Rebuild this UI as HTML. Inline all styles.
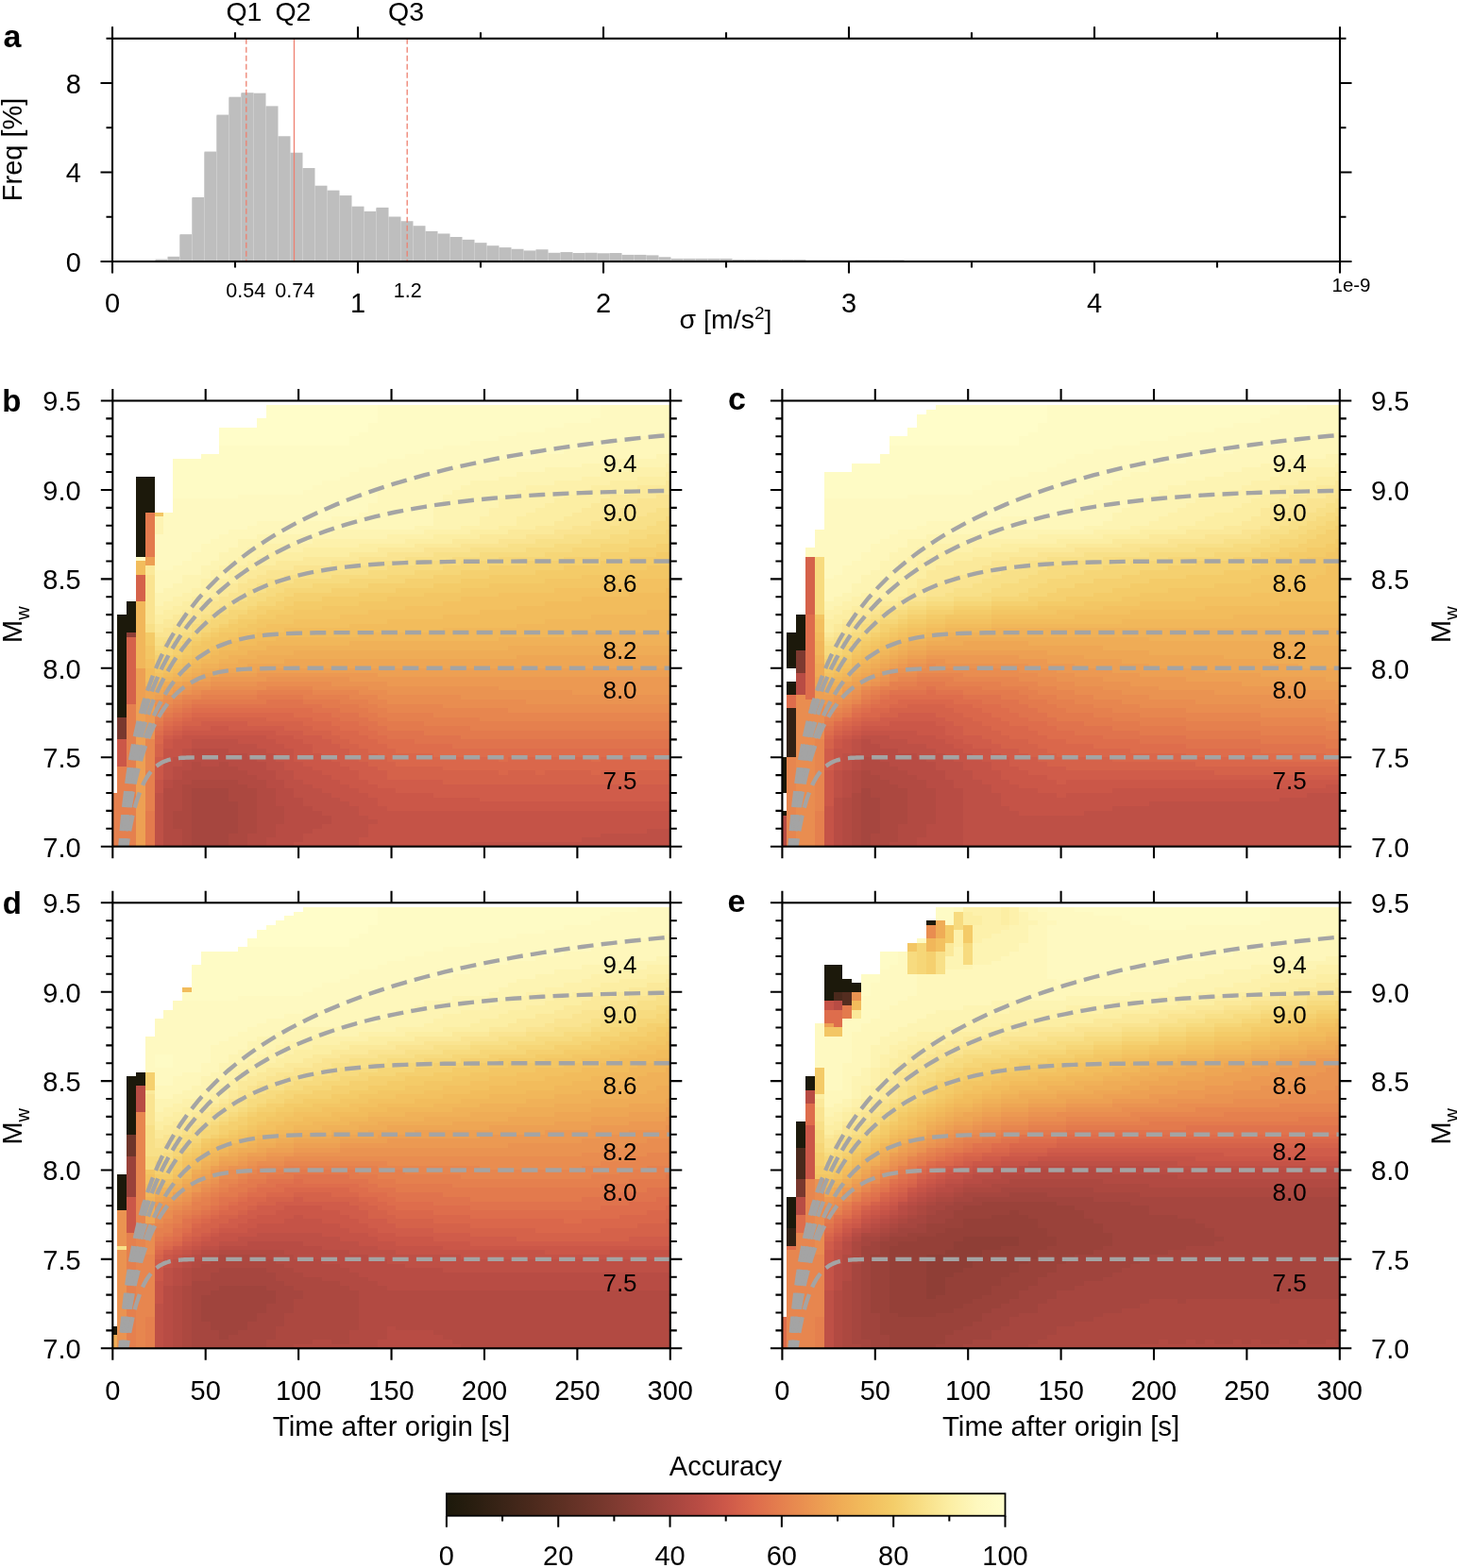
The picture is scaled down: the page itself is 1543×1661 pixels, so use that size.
<!DOCTYPE html>
<html><head><meta charset="utf-8"><title>Figure</title>
<style>html,body{margin:0;padding:0;background:#fff;}svg{display:block;}</style></head>
<body><svg width="1543" height="1661" viewBox="0 0 1543 1661" font-family="'Liberation Sans', Arial, Helvetica, sans-serif" fill="#000">
<defs><clipPath id="cpb"><rect x="119.3" y="424.5" width="590.50" height="472.20"/></clipPath><clipPath id="cpc"><rect x="828.4" y="424.5" width="590.40" height="472.20"/></clipPath><clipPath id="cpd"><rect x="119.3" y="956.3" width="590.50" height="472.00"/></clipPath><clipPath id="cpe"><rect x="828.4" y="956.3" width="590.40" height="472.00"/></clipPath><linearGradient id="cbg" x1="0" x2="1" y1="0" y2="0"><stop offset="0.00" stop-color="#1c190b"/><stop offset="0.05" stop-color="#2a1e10"/><stop offset="0.10" stop-color="#3a2417"/><stop offset="0.15" stop-color="#4a291c"/><stop offset="0.20" stop-color="#5b2f22"/><stop offset="0.25" stop-color="#6c3429"/><stop offset="0.30" stop-color="#7e3a30"/><stop offset="0.35" stop-color="#913f37"/><stop offset="0.40" stop-color="#a4453e"/><stop offset="0.45" stop-color="#b84c44"/><stop offset="0.50" stop-color="#cd5849"/><stop offset="0.55" stop-color="#dd6b4c"/><stop offset="0.60" stop-color="#e5804e"/><stop offset="0.65" stop-color="#eb9551"/><stop offset="0.70" stop-color="#efaa55"/><stop offset="0.75" stop-color="#f2bc5c"/><stop offset="0.80" stop-color="#f4cd69"/><stop offset="0.85" stop-color="#f8de85"/><stop offset="0.90" stop-color="#fceea3"/><stop offset="0.95" stop-color="#fef8be"/><stop offset="1.00" stop-color="#fffecc"/></linearGradient></defs>
<rect width="1543" height="1661" fill="#fff"/>
<g fill="#bebebe">
<rect x="164.50" y="274.64" width="13.00" height="2.36"/>
<rect x="177.50" y="271.80" width="13.00" height="5.20"/>
<rect x="190.50" y="248.18" width="13.00" height="28.82"/>
<rect x="203.50" y="208.97" width="13.00" height="68.03"/>
<rect x="216.50" y="160.55" width="13.00" height="116.45"/>
<rect x="229.50" y="121.58" width="13.00" height="155.42"/>
<rect x="242.50" y="102.68" width="13.00" height="174.32"/>
<rect x="255.50" y="98.20" width="13.00" height="178.80"/>
<rect x="268.50" y="98.67" width="13.00" height="178.33"/>
<rect x="281.50" y="112.37" width="13.00" height="164.63"/>
<rect x="294.50" y="144.26" width="13.00" height="132.74"/>
<rect x="307.50" y="161.73" width="13.00" height="115.27"/>
<rect x="320.50" y="178.03" width="13.00" height="98.97"/>
<rect x="333.50" y="196.69" width="13.00" height="80.31"/>
<rect x="346.50" y="201.65" width="13.00" height="75.35"/>
<rect x="359.50" y="207.08" width="13.00" height="69.92"/>
<rect x="372.50" y="218.66" width="13.00" height="58.34"/>
<rect x="385.50" y="223.85" width="13.00" height="53.15"/>
<rect x="398.50" y="219.84" width="13.00" height="57.16"/>
<rect x="411.50" y="229.52" width="13.00" height="47.48"/>
<rect x="424.50" y="234.25" width="13.00" height="42.75"/>
<rect x="437.50" y="239.21" width="13.00" height="37.79"/>
<rect x="450.50" y="244.88" width="13.00" height="32.12"/>
<rect x="463.50" y="247.47" width="13.00" height="29.53"/>
<rect x="476.50" y="251.02" width="13.00" height="25.98"/>
<rect x="489.50" y="253.85" width="13.00" height="23.15"/>
<rect x="502.50" y="257.16" width="13.00" height="19.84"/>
<rect x="515.50" y="260.23" width="13.00" height="16.77"/>
<rect x="528.50" y="262.12" width="13.00" height="14.88"/>
<rect x="541.50" y="263.77" width="13.00" height="13.23"/>
<rect x="554.50" y="265.43" width="13.00" height="11.57"/>
<rect x="567.50" y="264.25" width="13.00" height="12.75"/>
<rect x="580.50" y="267.79" width="13.00" height="9.21"/>
<rect x="593.50" y="267.08" width="13.00" height="9.92"/>
<rect x="606.50" y="268.02" width="13.00" height="8.98"/>
<rect x="619.50" y="267.79" width="13.00" height="9.21"/>
<rect x="632.50" y="268.26" width="13.00" height="8.74"/>
<rect x="645.50" y="268.02" width="13.00" height="8.98"/>
<rect x="658.50" y="269.91" width="13.00" height="7.09"/>
<rect x="671.50" y="269.91" width="13.00" height="7.09"/>
<rect x="684.50" y="270.39" width="13.00" height="6.61"/>
<rect x="697.50" y="272.28" width="13.00" height="4.72"/>
<rect x="710.50" y="273.93" width="13.00" height="3.07"/>
<rect x="723.50" y="273.93" width="13.00" height="3.07"/>
<rect x="736.50" y="273.93" width="13.00" height="3.07"/>
<rect x="749.50" y="273.93" width="13.00" height="3.07"/>
<rect x="762.50" y="273.93" width="13.00" height="3.07"/>
<rect x="775.50" y="274.87" width="13.00" height="2.13"/>
<rect x="788.50" y="274.87" width="13.00" height="2.13"/>
<rect x="801.50" y="274.87" width="13.00" height="2.13"/>
<rect x="814.50" y="274.87" width="13.00" height="2.13"/>
<rect x="827.50" y="274.87" width="13.00" height="2.13"/>
<rect x="840.50" y="274.87" width="13.00" height="2.13"/>
<rect x="853.50" y="275.58" width="13.00" height="1.42"/>
<rect x="866.50" y="275.58" width="13.00" height="1.42"/>
<rect x="879.50" y="275.58" width="13.00" height="1.42"/>
<rect x="892.50" y="275.58" width="13.00" height="1.42"/>
<rect x="905.50" y="275.35" width="13.00" height="1.65"/>
<rect x="918.50" y="275.35" width="13.00" height="1.65"/>
<rect x="931.50" y="275.35" width="13.00" height="1.65"/>
<rect x="944.50" y="275.35" width="13.00" height="1.65"/>
<rect x="957.50" y="276.06" width="13.00" height="0.94"/>
<rect x="970.50" y="276.06" width="13.00" height="0.94"/>
<rect x="983.50" y="276.06" width="13.00" height="0.94"/>
<rect x="996.50" y="276.06" width="13.00" height="0.94"/>
<rect x="1009.50" y="276.06" width="13.00" height="0.94"/>
<rect x="1022.50" y="276.06" width="13.00" height="0.94"/>
<rect x="1035.50" y="276.41" width="13.00" height="0.59"/>
<rect x="1048.50" y="276.41" width="13.00" height="0.59"/>
<rect x="1061.50" y="276.41" width="13.00" height="0.59"/>
<rect x="1074.50" y="276.41" width="13.00" height="0.59"/>
<rect x="1087.50" y="276.41" width="13.00" height="0.59"/>
<rect x="1100.50" y="276.41" width="13.00" height="0.59"/>
<rect x="1113.50" y="276.41" width="13.00" height="0.59"/>
<rect x="1126.50" y="276.41" width="13.00" height="0.59"/>
<rect x="1139.50" y="276.41" width="13.00" height="0.59"/>
<rect x="1152.50" y="276.41" width="13.00" height="0.59"/>
<rect x="1165.50" y="276.41" width="13.00" height="0.59"/>
<rect x="1178.50" y="276.41" width="13.00" height="0.59"/>
<rect x="1191.50" y="276.41" width="13.00" height="0.59"/>
<rect x="1204.50" y="276.41" width="13.00" height="0.59"/>
<rect x="1217.50" y="276.41" width="13.00" height="0.59"/>
<rect x="1230.50" y="276.41" width="13.00" height="0.59"/>
<rect x="1243.50" y="276.41" width="13.00" height="0.59"/>
<rect x="1256.50" y="276.41" width="13.00" height="0.59"/>
<rect x="1269.50" y="276.41" width="13.00" height="0.59"/>
<rect x="1282.50" y="276.41" width="13.00" height="0.59"/>
<rect x="1295.50" y="276.41" width="13.00" height="0.59"/>
<rect x="1308.50" y="276.41" width="13.00" height="0.59"/>
<rect x="1321.50" y="276.41" width="13.00" height="0.59"/>
<rect x="1334.50" y="276.41" width="13.00" height="0.59"/>
<rect x="1347.50" y="276.41" width="13.00" height="0.59"/>
<rect x="1360.50" y="276.41" width="13.00" height="0.59"/>
</g>
<g stroke="#cdcdcd" stroke-width="0.9">
<line x1="190.50" y1="249.18" x2="190.50" y2="277.00"/>
<line x1="203.50" y1="209.97" x2="203.50" y2="277.00"/>
<line x1="216.50" y1="161.55" x2="216.50" y2="277.00"/>
<line x1="229.50" y1="122.58" x2="229.50" y2="277.00"/>
<line x1="242.50" y1="103.68" x2="242.50" y2="277.00"/>
<line x1="255.50" y1="99.20" x2="255.50" y2="277.00"/>
<line x1="268.50" y1="99.67" x2="268.50" y2="277.00"/>
<line x1="281.50" y1="113.37" x2="281.50" y2="277.00"/>
<line x1="294.50" y1="145.26" x2="294.50" y2="277.00"/>
<line x1="307.50" y1="162.73" x2="307.50" y2="277.00"/>
<line x1="320.50" y1="179.03" x2="320.50" y2="277.00"/>
<line x1="333.50" y1="197.69" x2="333.50" y2="277.00"/>
<line x1="346.50" y1="202.65" x2="346.50" y2="277.00"/>
<line x1="359.50" y1="208.08" x2="359.50" y2="277.00"/>
<line x1="372.50" y1="219.66" x2="372.50" y2="277.00"/>
<line x1="385.50" y1="224.85" x2="385.50" y2="277.00"/>
<line x1="398.50" y1="220.84" x2="398.50" y2="277.00"/>
<line x1="411.50" y1="230.52" x2="411.50" y2="277.00"/>
<line x1="424.50" y1="235.25" x2="424.50" y2="277.00"/>
<line x1="437.50" y1="240.21" x2="437.50" y2="277.00"/>
<line x1="450.50" y1="245.88" x2="450.50" y2="277.00"/>
<line x1="463.50" y1="248.47" x2="463.50" y2="277.00"/>
<line x1="476.50" y1="252.02" x2="476.50" y2="277.00"/>
<line x1="489.50" y1="254.85" x2="489.50" y2="277.00"/>
<line x1="502.50" y1="258.16" x2="502.50" y2="277.00"/>
<line x1="515.50" y1="261.23" x2="515.50" y2="277.00"/>
<line x1="528.50" y1="263.12" x2="528.50" y2="277.00"/>
<line x1="541.50" y1="264.77" x2="541.50" y2="277.00"/>
<line x1="554.50" y1="266.43" x2="554.50" y2="277.00"/>
<line x1="567.50" y1="265.25" x2="567.50" y2="277.00"/>
<line x1="580.50" y1="268.79" x2="580.50" y2="277.00"/>
<line x1="593.50" y1="268.08" x2="593.50" y2="277.00"/>
<line x1="606.50" y1="269.02" x2="606.50" y2="277.00"/>
<line x1="619.50" y1="268.79" x2="619.50" y2="277.00"/>
<line x1="632.50" y1="269.26" x2="632.50" y2="277.00"/>
<line x1="645.50" y1="269.02" x2="645.50" y2="277.00"/>
</g>
<line x1="260.80" y1="40.80" x2="260.80" y2="277.00" stroke="#ee8070" stroke-width="1.3" stroke-dasharray="6,3"/>
<line x1="311.50" y1="40.80" x2="311.50" y2="277.00" stroke="#ee8070" stroke-width="1.3"/>
<line x1="431.20" y1="40.80" x2="431.20" y2="277.00" stroke="#ee8070" stroke-width="1.3" stroke-dasharray="6,3"/>
<rect x="119.0" y="40.80" width="1300.00" height="236.20" stroke="#000" stroke-width="2.1" fill="none"/>
<path d="M119.00 277.00v12.5M119.00 40.80v-12.5M249.00 277.00v6.5M249.00 40.80v-6.5M379.00 277.00v12.5M379.00 40.80v-12.5M509.00 277.00v6.5M509.00 40.80v-6.5M639.00 277.00v12.5M639.00 40.80v-12.5M769.00 277.00v6.5M769.00 40.80v-6.5M899.00 277.00v12.5M899.00 40.80v-12.5M1029.00 277.00v6.5M1029.00 40.80v-6.5M1159.00 277.00v12.5M1159.00 40.80v-12.5M1289.00 277.00v6.5M1289.00 40.80v-6.5M1419.00 277.00v12.5M1419.00 40.80v-12.5M119.00 277.00h-12.5M1419.00 277.00h12.5M119.00 229.76h-6.5M1419.00 229.76h6.5M119.00 182.52h-12.5M1419.00 182.52h12.5M119.00 135.28h-6.5M1419.00 135.28h6.5M119.00 88.04h-12.5M1419.00 88.04h12.5M119.00 40.80h-6.5M1419.00 40.80h6.5" stroke="#000" stroke-width="2.1" fill="none"/>
<text x="119.00" y="330.50" font-size="29" text-anchor="middle">0</text>
<text x="379.00" y="330.50" font-size="29" text-anchor="middle">1</text>
<text x="639.00" y="330.50" font-size="29" text-anchor="middle">2</text>
<text x="899.00" y="330.50" font-size="29" text-anchor="middle">3</text>
<text x="1159.00" y="330.50" font-size="29" text-anchor="middle">4</text>
<text x="85.80" y="287.60" font-size="29" text-anchor="end">0</text>
<text x="85.80" y="193.12" font-size="29" text-anchor="end">4</text>
<text x="85.80" y="98.64" font-size="29" text-anchor="end">8</text>
<text x="1431.00" y="308.60" font-size="20.5" text-anchor="middle">1e-9</text>
<text x="260.20" y="314.60" font-size="21.5" text-anchor="middle">0.54</text>
<text x="312.20" y="314.60" font-size="21.5" text-anchor="middle">0.74</text>
<text x="431.80" y="314.60" font-size="21.5" text-anchor="middle">1.2</text>
<text x="258.40" y="21.90" font-size="28.5" text-anchor="middle">Q1</text>
<text x="310.40" y="21.90" font-size="28.5" text-anchor="middle">Q2</text>
<text x="430.00" y="21.90" font-size="28.5" text-anchor="middle">Q3</text>
<text x="768.5" y="348.4" font-size="28.5" text-anchor="middle">σ [m/s<tspan dy="-10" font-size="19">2</tspan><tspan dy="10">]</tspan></text>
<text transform="translate(23,158.4) rotate(-90)" font-size="29" text-anchor="middle">Freq [%]</text>
<text x="3.50" y="50.00" font-size="34" text-anchor="start" font-weight="bold">a</text>
<rect x="119.3" y="424.5" width="590.50" height="472.20" fill="#fff"/>
<g transform="translate(119.3,424.5) scale(4.92083,4.72200)" shape-rendering="crispEdges">
<path fill="#e5804e" d="M0 88h1v12h-1zM1 82h2v18h-2zM3 68h2v32h-2zM7 83h2v9h-2zM9 71h2v1h-2zM11 69h2v1h-2zM13 68h2v1h-2zM15 67h2v1h-2zM19 66h2v1h-2zM21 66h2v1h-2zM23 66h2v1h-2zM25 66h2v1h-2zM27 66h2v1h-2zM29 66h2v1h-2zM31 65h2v1h-2zM33 65h2v1h-2zM35 65h2v1h-2zM37 65h2v1h-2zM39 65h2v1h-2zM41 65h2v2h-2zM43 66h2v1h-2zM45 66h2v1h-2zM47 66h2v1h-2zM49 66h2v2h-2zM51 67h2v1h-2zM53 67h2v2h-2zM55 68h2v2h-2zM57 69h2v2h-2zM59 70h2v2h-2zM61 70h2v2h-2zM63 70h2v2h-2zM65 70h2v2h-2zM67 70h2v3h-2zM69 71h2v2h-2zM71 71h2v2h-2zM73 71h2v2h-2zM75 71h2v2h-2zM77 71h2v3h-2zM79 72h2v2h-2zM81 72h2v2h-2zM83 72h2v2h-2zM85 72h2v2h-2zM87 72h2v2h-2zM89 72h2v2h-2zM91 72h2v2h-2zM93 72h2v2h-2zM95 72h2v2h-2zM97 72h2v2h-2zM99 72h2v2h-2zM101 72h2v2h-2zM103 72h2v2h-2zM105 72h2v2h-2zM107 72h2v2h-2zM109 72h2v2h-2zM111 72h2v2h-2zM113 72h2v2h-2zM115 72h2v2h-2zM117 72h2v2h-2zM119 72h1v2h-1z"/>
<path fill="#1c190b" d="M1 48h2v23h-2zM3 45h2v7h-2zM5 17h2v18h-2zM7 17h2v8h-2z"/>
<path fill="#79382e" d="M1 71h2v5h-2z"/>
<path fill="#cb5748" d="M1 76h2v6h-2zM9 82h2v3h-2zM11 76h2v2h-2zM13 75h2v1h-2zM15 74h2v1h-2zM17 74h2v1h-2zM19 74h2v1h-2zM21 73h2v2h-2zM23 73h2v2h-2zM25 74h2v1h-2zM27 74h2v1h-2zM29 74h2v1h-2zM31 74h2v1h-2zM33 74h2v2h-2zM35 75h2v2h-2zM37 75h2v3h-2zM39 76h2v5h-2zM41 77h2v5h-2zM43 79h2v4h-2zM45 80h2v4h-2zM47 81h2v4h-2zM49 82h2v4h-2zM51 83h2v4h-2zM53 85h2v3h-2zM55 86h2v3h-2zM57 87h2v4h-2zM59 87h2v5h-2zM61 88h2v4h-2zM63 88h2v4h-2zM65 88h2v4h-2zM67 88h2v4h-2zM69 89h2v3h-2zM71 89h2v3h-2zM73 89h2v3h-2zM75 89h2v3h-2zM77 89h2v3h-2zM79 90h2v2h-2zM81 90h2v2h-2zM83 90h2v2h-2zM85 90h2v2h-2zM87 90h2v2h-2zM89 90h2v2h-2zM91 90h2v2h-2zM93 90h2v2h-2zM95 90h2v2h-2zM97 90h2v2h-2zM99 90h2v2h-2zM101 90h2v2h-2zM103 90h2v2h-2zM105 90h2v2h-2zM107 90h2v2h-2zM109 90h2v2h-2zM111 90h2v2h-2zM113 90h2v2h-2zM115 90h2v2h-2zM117 90h2v2h-2zM119 90h1v2h-1z"/>
<path fill="#8f3e36" d="M3 52h2v1h-2z"/>
<path fill="#d5624a" d="M3 53h2v15h-2zM5 39h2v6h-2zM9 77h2v3h-2zM11 74h2v1h-2zM13 73h2v1h-2zM15 72h2v1h-2zM17 71h2v2h-2zM19 71h2v1h-2zM21 71h2v1h-2zM23 71h2v1h-2zM25 71h2v1h-2zM27 71h2v1h-2zM29 71h2v2h-2zM31 71h2v2h-2zM33 72h2v1h-2zM35 72h2v1h-2zM37 72h2v2h-2zM39 72h2v2h-2zM41 73h2v2h-2zM43 74h2v1h-2zM45 74h2v2h-2zM47 75h2v2h-2zM49 76h2v2h-2zM51 77h2v3h-2zM53 78h2v3h-2zM55 79h2v3h-2zM57 80h2v3h-2zM59 81h2v4h-2zM61 82h2v3h-2zM63 82h2v3h-2zM65 82h2v3h-2zM67 82h2v3h-2zM69 82h2v3h-2zM71 83h2v3h-2zM73 83h2v3h-2zM75 83h2v3h-2zM77 83h2v3h-2zM79 83h2v3h-2zM81 83h2v3h-2zM83 84h2v2h-2zM85 83h2v3h-2zM87 83h2v3h-2zM89 83h2v3h-2zM91 84h2v2h-2zM93 83h2v3h-2zM95 83h2v3h-2zM97 83h2v3h-2zM99 83h2v3h-2zM101 83h2v3h-2zM103 84h2v2h-2zM105 83h2v3h-2zM107 83h2v3h-2zM109 83h2v3h-2zM111 84h2v2h-2zM113 83h2v3h-2zM115 83h2v3h-2zM117 83h2v3h-2zM119 83h1v3h-1z"/>
<path fill="#fefbc5" d="M5 35h2v1h-2zM13 13h2v9h-2zM15 13h2v9h-2zM17 13h2v9h-2zM19 12h2v10h-2zM21 12h2v10h-2zM23 10h2v12h-2zM25 10h2v12h-2zM27 10h2v11h-2zM29 10h2v11h-2zM31 10h2v11h-2zM33 10h2v11h-2zM35 10h2v11h-2zM37 10h2v11h-2zM39 10h2v11h-2zM41 10h2v10h-2zM43 10h2v9h-2zM45 10h2v8h-2zM47 10h2v8h-2zM49 10h2v7h-2zM51 8h2v8h-2zM53 7h2v8h-2zM55 5h2v10h-2zM57 1h2v13h-2zM59 1h2v12h-2zM61 1h2v12h-2zM63 1h2v11h-2zM65 1h2v11h-2zM67 1h2v10h-2zM69 1h2v10h-2zM71 1h2v9h-2zM73 1h2v9h-2zM75 1h2v9h-2zM77 1h2v8h-2zM79 1h2v8h-2zM81 1h2v8h-2zM83 1h2v7h-2zM85 1h2v7h-2zM87 1h2v6h-2zM89 1h2v6h-2zM91 1h2v6h-2zM93 1h2v5h-2zM95 1h2v5h-2zM97 1h2v4h-2zM99 1h2v4h-2zM101 1h2v4h-2zM103 1h2v3h-2z"/>
<path fill="#f2bc5c" d="M5 36h2v3h-2zM7 60h2v3h-2zM9 62h2v1h-2zM11 61h2v1h-2zM13 60h2v1h-2zM15 59h2v1h-2zM17 58h2v1h-2zM19 57h2v1h-2zM21 56h2v1h-2zM23 55h2v1h-2zM25 54h2v2h-2zM27 54h2v1h-2zM29 53h2v2h-2zM31 52h2v2h-2zM33 52h2v2h-2zM35 52h2v1h-2zM37 51h2v2h-2zM39 51h2v2h-2zM41 51h2v2h-2zM43 51h2v2h-2zM45 51h2v2h-2zM47 51h2v2h-2zM49 51h2v2h-2zM51 50h2v3h-2zM53 50h2v2h-2zM55 50h2v2h-2zM57 50h2v2h-2zM59 49h2v3h-2zM61 49h2v3h-2zM63 49h2v3h-2zM65 49h2v3h-2zM67 49h2v3h-2zM69 49h2v3h-2zM71 48h2v3h-2zM73 48h2v3h-2zM75 48h2v3h-2zM77 48h2v3h-2zM79 47h2v4h-2zM81 47h2v4h-2zM83 47h2v4h-2zM85 47h2v4h-2zM87 46h2v4h-2zM89 46h2v4h-2zM91 46h2v4h-2zM93 45h2v4h-2zM95 45h2v4h-2zM97 45h2v4h-2zM99 45h2v4h-2zM101 44h2v5h-2zM103 44h2v4h-2zM105 44h2v4h-2zM107 44h2v4h-2zM109 44h2v4h-2zM111 43h2v5h-2zM113 43h2v5h-2zM115 43h2v4h-2zM117 43h2v4h-2zM119 42h1v5h-1z"/>
<path fill="#f1b75a" d="M5 45h2v15h-2zM7 63h2v1h-2zM11 62h2v1h-2zM13 61h2v1h-2zM15 60h2v1h-2zM17 59h2v1h-2zM19 58h2v1h-2zM21 57h2v2h-2zM23 56h2v2h-2zM25 56h2v1h-2zM27 55h2v2h-2zM29 55h2v1h-2zM31 54h2v2h-2zM33 54h2v1h-2zM35 53h2v2h-2zM37 53h2v2h-2zM39 53h2v2h-2zM41 53h2v2h-2zM43 53h2v2h-2zM45 53h2v2h-2zM47 53h2v2h-2zM49 53h2v2h-2zM51 53h2v1h-2zM53 52h2v2h-2zM55 52h2v2h-2zM57 52h2v2h-2zM59 52h2v2h-2zM61 52h2v2h-2zM63 52h2v2h-2zM65 52h2v2h-2zM67 52h2v2h-2zM69 52h2v2h-2zM71 51h2v3h-2zM73 51h2v3h-2zM75 51h2v3h-2zM77 51h2v3h-2zM79 51h2v3h-2zM81 51h2v3h-2zM83 51h2v2h-2zM85 51h2v2h-2zM87 50h2v3h-2zM89 50h2v3h-2zM91 50h2v3h-2zM93 49h2v4h-2zM95 49h2v4h-2zM97 49h2v4h-2zM99 49h2v3h-2zM101 49h2v3h-2zM103 48h2v4h-2zM105 48h2v4h-2zM107 48h2v4h-2zM109 48h2v4h-2zM111 48h2v4h-2zM113 48h2v4h-2zM115 47h2v5h-2zM117 47h2v5h-2zM119 47h1v5h-1z"/>
<path fill="#eda053" d="M5 60h2v40h-2zM7 35h2v2h-2zM7 68h2v2h-2zM9 66h2v1h-2zM11 65h2v1h-2zM13 64h2v1h-2zM15 63h2v1h-2zM19 62h2v1h-2zM23 61h2v1h-2zM25 61h2v1h-2zM27 61h2v1h-2zM29 61h2v1h-2zM31 60h2v1h-2zM33 60h2v1h-2zM35 60h2v1h-2zM37 60h2v1h-2zM39 60h2v1h-2zM41 60h2v1h-2zM43 60h2v1h-2zM45 60h2v1h-2zM47 60h2v1h-2zM49 60h2v1h-2zM51 60h2v1h-2zM53 60h2v1h-2zM55 60h2v1h-2zM57 60h2v2h-2zM59 60h2v2h-2zM61 60h2v2h-2zM63 60h2v2h-2zM65 60h2v2h-2zM67 60h2v2h-2zM69 60h2v2h-2zM71 60h2v2h-2zM73 60h2v2h-2zM75 60h2v2h-2zM77 60h2v2h-2zM79 60h2v2h-2zM81 60h2v2h-2zM83 60h2v2h-2zM85 60h2v2h-2zM87 60h2v2h-2zM89 60h2v2h-2zM91 60h2v2h-2zM93 60h2v2h-2zM95 60h2v2h-2zM97 60h2v2h-2zM99 60h2v2h-2zM101 60h2v2h-2zM103 60h2v2h-2zM105 60h2v2h-2zM107 60h2v2h-2zM109 60h2v2h-2zM111 60h2v2h-2zM113 60h2v2h-2zM115 60h2v2h-2zM117 60h2v2h-2zM119 60h1v2h-1z"/>
<path fill="#e37a4d" d="M7 25h2v10h-2zM7 92h2v8h-2zM9 72h2v1h-2zM11 70h2v1h-2zM13 69h2v1h-2zM15 68h2v1h-2zM17 67h2v1h-2zM19 67h2v1h-2zM21 67h2v1h-2zM23 67h2v1h-2zM25 67h2v1h-2zM27 67h2v1h-2zM29 67h2v1h-2zM31 66h2v2h-2zM33 66h2v1h-2zM35 66h2v1h-2zM37 66h2v1h-2zM39 66h2v1h-2zM41 67h2v1h-2zM43 67h2v1h-2zM45 67h2v2h-2zM47 67h2v2h-2zM49 68h2v2h-2zM51 68h2v2h-2zM53 69h2v2h-2zM55 70h2v2h-2zM57 71h2v2h-2zM59 72h2v2h-2zM61 72h2v2h-2zM63 72h2v2h-2zM65 72h2v2h-2zM67 73h2v2h-2zM69 73h2v2h-2zM71 73h2v2h-2zM73 73h2v2h-2zM75 73h2v3h-2zM77 74h2v2h-2zM79 74h2v2h-2zM81 74h2v2h-2zM83 74h2v2h-2zM85 74h2v2h-2zM87 74h2v2h-2zM89 74h2v2h-2zM91 74h2v2h-2zM93 74h2v2h-2zM95 74h2v2h-2zM97 74h2v2h-2zM99 74h2v2h-2zM101 74h2v2h-2zM103 74h2v2h-2zM105 74h2v2h-2zM107 74h2v2h-2zM109 74h2v2h-2zM111 74h2v2h-2zM113 74h2v2h-2zM115 74h2v2h-2zM117 74h2v2h-2zM119 74h1v2h-1z"/>
<path fill="#fbe99a" d="M7 37h2v2h-2zM9 50h2v2h-2zM11 49h2v2h-2zM13 48h2v2h-2zM15 47h2v1h-2zM17 46h2v1h-2zM19 45h2v1h-2zM21 44h2v1h-2zM23 42h2v2h-2zM25 41h2v2h-2zM27 39h2v2h-2zM29 38h2v2h-2zM31 37h2v2h-2zM33 37h2v1h-2zM35 36h2v2h-2zM37 36h2v2h-2zM39 36h2v1h-2zM41 35h2v2h-2zM43 35h2v2h-2zM45 35h2v2h-2zM47 35h2v1h-2zM49 35h2v1h-2zM51 34h2v2h-2zM53 34h2v1h-2zM55 34h2v1h-2zM57 33h2v2h-2zM59 33h2v1h-2zM61 33h2v1h-2zM63 33h2v1h-2zM65 32h2v2h-2zM67 32h2v1h-2zM69 32h2v1h-2zM71 32h2v1h-2zM73 31h2v2h-2zM75 31h2v1h-2zM77 31h2v1h-2zM79 30h2v2h-2zM81 30h2v2h-2zM83 30h2v1h-2zM85 29h2v2h-2zM87 29h2v2h-2zM89 29h2v1h-2zM91 28h2v2h-2zM93 28h2v2h-2zM95 27h2v2h-2zM97 26h2v3h-2zM99 25h2v3h-2zM101 24h2v4h-2zM103 23h2v4h-2zM105 22h2v4h-2zM107 21h2v4h-2zM109 21h2v3h-2zM111 20h2v3h-2zM113 19h2v3h-2zM115 19h2v3h-2zM117 19h2v2h-2zM119 18h1v3h-1z"/>
<path fill="#fae491" d="M7 39h2v11h-2zM9 52h2v1h-2zM11 51h2v2h-2zM13 50h2v1h-2zM15 48h2v2h-2zM17 47h2v2h-2zM19 46h2v2h-2zM21 45h2v2h-2zM23 44h2v2h-2zM25 43h2v2h-2zM27 41h2v3h-2zM29 40h2v2h-2zM31 39h2v2h-2zM33 38h2v2h-2zM35 38h2v2h-2zM37 38h2v1h-2zM39 37h2v2h-2zM41 37h2v2h-2zM43 37h2v1h-2zM45 37h2v1h-2zM47 36h2v2h-2zM49 36h2v2h-2zM51 36h2v1h-2zM53 35h2v2h-2zM55 35h2v2h-2zM57 35h2v1h-2zM59 34h2v2h-2zM61 34h2v2h-2zM63 34h2v1h-2zM65 34h2v1h-2zM67 33h2v2h-2zM69 33h2v1h-2zM71 33h2v1h-2zM73 33h2v1h-2zM75 32h2v2h-2zM77 32h2v1h-2zM79 32h2v1h-2zM81 32h2v1h-2zM83 31h2v2h-2zM85 31h2v1h-2zM87 31h2v1h-2zM89 30h2v2h-2zM91 30h2v1h-2zM93 30h2v1h-2zM95 29h2v2h-2zM97 29h2v1h-2zM99 28h2v2h-2zM101 28h2v2h-2zM103 27h2v2h-2zM105 26h2v3h-2zM107 25h2v3h-2zM109 24h2v3h-2zM111 23h2v4h-2zM113 22h2v4h-2zM115 22h2v3h-2zM117 21h2v3h-2zM119 21h1v3h-1z"/>
<path fill="#f8e088" d="M7 50h2v2h-2zM9 53h2v2h-2zM11 53h2v1h-2zM13 51h2v2h-2zM15 50h2v2h-2zM17 49h2v1h-2zM19 48h2v1h-2zM21 47h2v1h-2zM23 46h2v1h-2zM25 45h2v1h-2zM27 44h2v1h-2zM29 42h2v2h-2zM31 41h2v2h-2zM33 40h2v2h-2zM35 40h2v1h-2zM37 39h2v2h-2zM39 39h2v1h-2zM41 39h2v1h-2zM43 38h2v2h-2zM45 38h2v2h-2zM47 38h2v1h-2zM49 38h2v1h-2zM51 37h2v2h-2zM53 37h2v2h-2zM55 37h2v1h-2zM57 36h2v2h-2zM59 36h2v1h-2zM61 36h2v1h-2zM63 35h2v2h-2zM65 35h2v1h-2zM67 35h2v1h-2zM69 34h2v2h-2zM71 34h2v2h-2zM73 34h2v1h-2zM75 34h2v1h-2zM77 33h2v2h-2zM79 33h2v1h-2zM81 33h2v1h-2zM83 33h2v1h-2zM85 32h2v2h-2zM87 32h2v2h-2zM89 32h2v1h-2zM91 31h2v2h-2zM93 31h2v2h-2zM95 31h2v1h-2zM97 30h2v2h-2zM99 30h2v2h-2zM101 30h2v1h-2zM103 29h2v2h-2zM105 29h2v2h-2zM107 28h2v2h-2zM109 27h2v3h-2zM111 27h2v2h-2zM113 26h2v3h-2zM115 25h2v3h-2zM117 24h2v3h-2zM119 24h1v2h-1z"/>
<path fill="#f4cb68" d="M7 52h2v3h-2zM9 59h2v1h-2zM11 58h2v1h-2zM13 57h2v1h-2zM15 55h2v2h-2zM17 54h2v1h-2zM19 53h2v1h-2zM21 52h2v1h-2zM23 51h2v1h-2zM25 50h2v2h-2zM27 49h2v2h-2zM29 49h2v1h-2zM31 48h2v1h-2zM33 47h2v2h-2zM35 47h2v1h-2zM37 46h2v2h-2zM39 45h2v2h-2zM41 45h2v2h-2zM43 45h2v2h-2zM45 44h2v2h-2zM47 44h2v2h-2zM49 44h2v2h-2zM51 44h2v2h-2zM53 43h2v2h-2zM55 43h2v2h-2zM57 43h2v2h-2zM59 43h2v1h-2zM61 42h2v2h-2zM63 42h2v2h-2zM65 42h2v2h-2zM67 42h2v1h-2zM69 41h2v2h-2zM71 41h2v2h-2zM73 41h2v2h-2zM75 40h2v2h-2zM77 40h2v2h-2zM79 40h2v2h-2zM81 39h2v2h-2zM83 39h2v2h-2zM85 39h2v2h-2zM87 39h2v2h-2zM89 39h2v2h-2zM91 38h2v3h-2zM93 38h2v2h-2zM95 38h2v2h-2zM97 37h2v3h-2zM99 37h2v3h-2zM101 37h2v2h-2zM103 37h2v2h-2zM105 36h2v3h-2zM107 36h2v3h-2zM109 36h2v2h-2zM111 35h2v3h-2zM113 35h2v3h-2zM115 35h2v2h-2zM117 34h2v3h-2zM119 34h1v3h-1z"/>
<path fill="#f3c664" d="M7 55h2v3h-2zM9 25h2v1h-2zM9 60h2v1h-2zM11 59h2v1h-2zM13 58h2v1h-2zM15 57h2v1h-2zM17 55h2v2h-2zM19 54h2v2h-2zM21 53h2v2h-2zM23 52h2v2h-2zM25 52h2v1h-2zM27 51h2v1h-2zM29 50h2v2h-2zM31 49h2v2h-2zM33 49h2v1h-2zM35 48h2v2h-2zM37 48h2v2h-2zM39 47h2v2h-2zM41 47h2v2h-2zM43 47h2v2h-2zM45 46h2v3h-2zM47 46h2v3h-2zM49 46h2v2h-2zM51 46h2v2h-2zM53 45h2v3h-2zM55 45h2v2h-2zM57 45h2v2h-2zM59 44h2v3h-2zM61 44h2v3h-2zM63 44h2v2h-2zM65 44h2v2h-2zM67 43h2v3h-2zM69 43h2v3h-2zM71 43h2v2h-2zM73 43h2v2h-2zM75 42h2v2h-2zM77 42h2v2h-2zM79 42h2v2h-2zM81 41h2v3h-2zM83 41h2v2h-2zM85 41h2v2h-2zM87 41h2v2h-2zM89 41h2v2h-2zM91 41h2v2h-2zM93 40h2v3h-2zM95 40h2v2h-2zM97 40h2v2h-2zM99 40h2v2h-2zM101 39h2v3h-2zM103 39h2v3h-2zM105 39h2v2h-2zM107 39h2v2h-2zM109 38h2v3h-2zM111 38h2v3h-2zM113 38h2v2h-2zM115 37h2v3h-2zM117 37h2v3h-2zM119 37h1v3h-1z"/>
<path fill="#f3c160" d="M7 58h2v2h-2zM9 61h2v1h-2zM11 60h2v1h-2zM13 59h2v1h-2zM15 58h2v1h-2zM17 57h2v1h-2zM19 56h2v1h-2zM21 55h2v1h-2zM23 54h2v1h-2zM25 53h2v1h-2zM27 52h2v2h-2zM29 52h2v1h-2zM31 51h2v1h-2zM33 50h2v2h-2zM35 50h2v2h-2zM37 50h2v1h-2zM39 49h2v2h-2zM41 49h2v2h-2zM43 49h2v2h-2zM45 49h2v2h-2zM47 49h2v2h-2zM49 48h2v3h-2zM51 48h2v2h-2zM53 48h2v2h-2zM55 47h2v3h-2zM57 47h2v3h-2zM59 47h2v2h-2zM61 47h2v2h-2zM63 46h2v3h-2zM65 46h2v3h-2zM67 46h2v3h-2zM69 46h2v3h-2zM71 45h2v3h-2zM73 45h2v3h-2zM75 44h2v4h-2zM77 44h2v4h-2zM79 44h2v3h-2zM81 44h2v3h-2zM83 43h2v4h-2zM85 43h2v4h-2zM87 43h2v3h-2zM89 43h2v3h-2zM91 43h2v3h-2zM93 43h2v2h-2zM95 42h2v3h-2zM97 42h2v3h-2zM99 42h2v3h-2zM101 42h2v2h-2zM103 42h2v2h-2zM105 41h2v3h-2zM107 41h2v3h-2zM109 41h2v3h-2zM111 41h2v2h-2zM113 40h2v3h-2zM115 40h2v3h-2zM117 40h2v3h-2zM119 40h1v2h-1z"/>
<path fill="#eea654" d="M7 64h2v4h-2zM9 65h2v1h-2zM11 64h2v1h-2zM13 63h2v1h-2zM17 62h2v1h-2zM19 61h2v1h-2zM21 61h2v1h-2zM23 60h2v1h-2zM25 60h2v1h-2zM27 60h2v1h-2zM29 59h2v2h-2zM31 59h2v1h-2zM33 59h2v1h-2zM35 59h2v1h-2zM37 58h2v2h-2zM39 58h2v2h-2zM41 58h2v2h-2zM43 58h2v2h-2zM45 58h2v2h-2zM47 58h2v2h-2zM49 58h2v2h-2zM51 58h2v2h-2zM53 58h2v2h-2zM55 58h2v2h-2zM57 58h2v2h-2zM59 58h2v2h-2zM61 58h2v2h-2zM63 58h2v2h-2zM65 58h2v2h-2zM67 58h2v2h-2zM69 58h2v2h-2zM71 58h2v2h-2zM73 58h2v2h-2zM75 58h2v2h-2zM77 58h2v2h-2zM79 58h2v2h-2zM81 58h2v2h-2zM83 58h2v2h-2zM85 58h2v2h-2zM87 57h2v3h-2zM89 57h2v3h-2zM91 57h2v3h-2zM93 57h2v3h-2zM95 57h2v3h-2zM97 57h2v3h-2zM99 57h2v3h-2zM101 57h2v3h-2zM103 57h2v3h-2zM105 57h2v3h-2zM107 57h2v3h-2zM109 57h2v3h-2zM111 57h2v3h-2zM113 57h2v3h-2zM115 57h2v3h-2zM117 57h2v3h-2zM119 57h1v3h-1z"/>
<path fill="#ec9952" d="M7 70h2v4h-2zM13 65h2v1h-2zM15 64h2v1h-2zM17 63h2v1h-2zM19 63h2v1h-2zM21 62h2v1h-2zM23 62h2v1h-2zM25 62h2v1h-2zM27 62h2v1h-2zM29 62h2v1h-2zM31 61h2v2h-2zM33 61h2v1h-2zM35 61h2v1h-2zM37 61h2v1h-2zM39 61h2v1h-2zM41 61h2v1h-2zM43 61h2v1h-2zM45 61h2v1h-2zM47 61h2v1h-2zM49 61h2v1h-2zM51 61h2v2h-2zM53 61h2v2h-2zM55 61h2v2h-2zM57 62h2v1h-2zM59 62h2v2h-2zM61 62h2v2h-2zM63 62h2v2h-2zM65 62h2v2h-2zM67 62h2v2h-2zM69 62h2v2h-2zM71 62h2v2h-2zM73 62h2v2h-2zM75 62h2v2h-2zM77 62h2v2h-2zM79 62h2v2h-2zM81 62h2v2h-2zM83 62h2v3h-2zM85 62h2v3h-2zM87 62h2v3h-2zM89 62h2v3h-2zM91 62h2v3h-2zM93 62h2v3h-2zM95 62h2v3h-2zM97 62h2v3h-2zM99 62h2v4h-2zM101 62h2v4h-2zM103 62h2v4h-2zM105 62h2v4h-2zM107 62h2v4h-2zM109 62h2v4h-2zM111 62h2v4h-2zM113 62h2v4h-2zM115 62h2v4h-2zM117 62h2v4h-2zM119 62h1v4h-1z"/>
<path fill="#ea9351" d="M7 74h2v2h-2zM9 67h2v1h-2zM11 66h2v1h-2zM15 65h2v1h-2zM17 64h2v1h-2zM19 64h2v1h-2zM21 63h2v1h-2zM23 63h2v1h-2zM25 63h2v1h-2zM27 63h2v1h-2zM29 63h2v1h-2zM33 62h2v1h-2zM35 62h2v1h-2zM37 62h2v1h-2zM39 62h2v1h-2zM41 62h2v1h-2zM43 62h2v1h-2zM45 62h2v1h-2zM47 62h2v2h-2zM49 62h2v2h-2zM51 63h2v1h-2zM53 63h2v1h-2zM55 63h2v2h-2zM57 63h2v2h-2zM59 64h2v2h-2zM61 64h2v2h-2zM63 64h2v2h-2zM65 64h2v2h-2zM67 64h2v2h-2zM69 64h2v2h-2zM71 64h2v2h-2zM73 64h2v2h-2zM75 64h2v3h-2zM77 64h2v3h-2zM79 64h2v3h-2zM81 64h2v3h-2zM83 65h2v2h-2zM85 65h2v2h-2zM87 65h2v2h-2zM89 65h2v3h-2zM91 65h2v3h-2zM93 65h2v3h-2zM95 65h2v3h-2zM97 65h2v3h-2zM99 66h2v2h-2zM101 66h2v2h-2zM103 66h2v2h-2zM105 66h2v2h-2zM107 66h2v2h-2zM109 66h2v2h-2zM111 66h2v2h-2zM113 66h2v2h-2zM115 66h2v2h-2zM117 66h2v2h-2zM119 66h1v2h-1z"/>
<path fill="#e7864f" d="M7 76h2v7h-2zM9 69h2v2h-2zM11 68h2v1h-2zM13 67h2v1h-2zM15 66h2v1h-2zM17 66h2v1h-2zM19 65h2v1h-2zM21 65h2v1h-2zM23 65h2v1h-2zM25 65h2v1h-2zM27 65h2v1h-2zM29 65h2v1h-2zM33 64h2v1h-2zM35 64h2v1h-2zM37 64h2v1h-2zM39 64h2v1h-2zM41 64h2v1h-2zM43 65h2v1h-2zM45 65h2v1h-2zM47 65h2v1h-2zM49 65h2v1h-2zM51 65h2v2h-2zM53 66h2v1h-2zM55 66h2v2h-2zM57 67h2v2h-2zM59 68h2v2h-2zM61 68h2v2h-2zM63 68h2v2h-2zM65 68h2v2h-2zM67 68h2v2h-2zM69 68h2v3h-2zM71 69h2v2h-2zM73 69h2v2h-2zM75 69h2v2h-2zM77 69h2v2h-2zM79 69h2v3h-2zM81 69h2v3h-2zM83 69h2v3h-2zM85 70h2v2h-2zM87 70h2v2h-2zM89 70h2v2h-2zM91 70h2v2h-2zM93 70h2v2h-2zM95 70h2v2h-2zM97 70h2v2h-2zM99 70h2v2h-2zM101 70h2v2h-2zM103 70h2v2h-2zM105 70h2v2h-2zM107 70h2v2h-2zM109 70h2v2h-2zM111 70h2v2h-2zM113 70h2v2h-2zM115 70h2v2h-2zM117 70h2v2h-2zM119 70h1v2h-1z"/>
<path fill="#fdf4b3" d="M9 26h2v4h-2zM9 43h2v3h-2zM11 42h2v3h-2zM13 41h2v3h-2zM15 39h2v4h-2zM17 39h2v3h-2zM19 37h2v3h-2zM21 36h2v2h-2zM23 34h2v3h-2zM25 33h2v3h-2zM27 31h2v4h-2zM29 31h2v2h-2zM31 30h2v2h-2zM33 30h2v2h-2zM35 30h2v2h-2zM37 30h2v2h-2zM39 30h2v2h-2zM41 30h2v2h-2zM43 30h2v1h-2zM45 30h2v1h-2zM47 29h2v2h-2zM49 29h2v2h-2zM51 29h2v2h-2zM53 29h2v2h-2zM55 29h2v2h-2zM57 29h2v2h-2zM59 29h2v1h-2zM61 29h2v1h-2zM63 29h2v1h-2zM65 28h2v2h-2zM67 28h2v1h-2zM69 24h2v5h-2zM71 21h2v8h-2zM73 20h2v9h-2zM75 19h2v9h-2zM77 18h2v10h-2zM79 18h2v8h-2zM81 18h2v6h-2zM83 17h2v5h-2zM85 17h2v4h-2zM87 16h2v4h-2zM89 16h2v3h-2zM91 16h2v3h-2zM93 15h2v4h-2zM95 15h2v3h-2zM97 15h2v3h-2zM99 15h2v3h-2zM101 14h2v3h-2zM103 14h2v3h-2zM105 14h2v2h-2zM107 13h2v3h-2zM109 13h2v3h-2zM111 13h2v2h-2zM113 13h2v2h-2zM115 13h2v2h-2zM117 12h2v3h-2zM119 12h1v2h-1z"/>
<path fill="#fef9c1" d="M9 30h2v8h-2zM11 25h2v13h-2zM13 22h2v15h-2zM15 22h2v14h-2zM17 22h2v12h-2zM19 22h2v10h-2zM21 22h2v9h-2zM23 22h2v8h-2zM25 22h2v7h-2zM27 21h2v8h-2zM29 21h2v7h-2zM31 21h2v6h-2zM33 21h2v6h-2zM35 21h2v6h-2zM37 21h2v6h-2zM39 21h2v6h-2zM41 20h2v7h-2zM43 19h2v8h-2zM45 18h2v9h-2zM47 18h2v8h-2zM49 17h2v9h-2zM51 16h2v10h-2zM53 15h2v10h-2zM55 15h2v8h-2zM57 14h2v6h-2zM59 13h2v6h-2zM61 13h2v5h-2zM63 12h2v6h-2zM65 12h2v5h-2zM67 11h2v6h-2zM69 11h2v5h-2zM71 10h2v6h-2zM73 10h2v5h-2zM75 10h2v5h-2zM77 9h2v5h-2zM79 9h2v5h-2zM81 9h2v5h-2zM83 8h2v5h-2zM85 8h2v5h-2zM87 7h2v6h-2zM89 7h2v6h-2zM91 7h2v5h-2zM93 6h2v6h-2zM95 6h2v6h-2zM97 5h2v6h-2zM99 5h2v6h-2zM101 5h2v6h-2zM103 4h2v6h-2zM105 1h2v9h-2zM107 1h2v8h-2zM109 1h2v8h-2zM111 1h2v8h-2zM113 1h2v7h-2zM115 1h2v7h-2zM117 1h2v6h-2zM119 1h1v6h-1z"/>
<path fill="#fef7bb" d="M9 38h2v5h-2zM11 38h2v4h-2zM13 37h2v4h-2zM15 36h2v3h-2zM17 34h2v5h-2zM19 32h2v5h-2zM21 31h2v5h-2zM23 30h2v4h-2zM25 29h2v4h-2zM27 29h2v2h-2zM29 28h2v3h-2zM31 27h2v3h-2zM33 27h2v3h-2zM35 27h2v3h-2zM37 27h2v3h-2zM39 27h2v3h-2zM41 27h2v3h-2zM43 27h2v3h-2zM45 27h2v3h-2zM47 26h2v3h-2zM49 26h2v3h-2zM51 26h2v3h-2zM53 25h2v4h-2zM55 23h2v6h-2zM57 20h2v9h-2zM59 19h2v10h-2zM61 18h2v11h-2zM63 18h2v11h-2zM65 17h2v11h-2zM67 17h2v11h-2zM69 16h2v8h-2zM71 16h2v5h-2zM73 15h2v5h-2zM75 15h2v4h-2zM77 14h2v4h-2zM79 14h2v4h-2zM81 14h2v4h-2zM83 13h2v4h-2zM85 13h2v4h-2zM87 13h2v3h-2zM89 13h2v3h-2zM91 12h2v4h-2zM93 12h2v3h-2zM95 12h2v3h-2zM97 11h2v4h-2zM99 11h2v4h-2zM101 11h2v3h-2zM103 10h2v4h-2zM105 10h2v4h-2zM107 9h2v4h-2zM109 9h2v4h-2zM111 9h2v4h-2zM113 8h2v5h-2zM115 8h2v5h-2zM117 7h2v5h-2zM119 7h1v5h-1z"/>
<path fill="#fdf1ab" d="M9 46h2v2h-2zM11 45h2v2h-2zM13 44h2v2h-2zM15 43h2v2h-2zM17 42h2v2h-2zM19 40h2v3h-2zM21 38h2v3h-2zM23 37h2v3h-2zM25 36h2v2h-2zM27 35h2v2h-2zM29 33h2v3h-2zM31 32h2v3h-2zM33 32h2v2h-2zM35 32h2v2h-2zM37 32h2v2h-2zM39 32h2v2h-2zM41 32h2v1h-2zM43 31h2v2h-2zM45 31h2v2h-2zM47 31h2v2h-2zM49 31h2v2h-2zM51 31h2v2h-2zM53 31h2v1h-2zM55 31h2v1h-2zM57 31h2v1h-2zM59 30h2v2h-2zM61 30h2v2h-2zM63 30h2v1h-2zM65 30h2v1h-2zM67 29h2v2h-2zM69 29h2v1h-2zM71 29h2v1h-2zM73 29h2v1h-2zM75 28h2v2h-2zM77 28h2v1h-2zM79 26h2v3h-2zM81 24h2v5h-2zM83 22h2v6h-2zM85 21h2v7h-2zM87 20h2v6h-2zM89 19h2v6h-2zM91 19h2v5h-2zM93 19h2v4h-2zM95 18h2v4h-2zM97 18h2v3h-2zM99 18h2v3h-2zM101 17h2v3h-2zM103 17h2v2h-2zM105 16h2v3h-2zM107 16h2v2h-2zM109 16h2v2h-2zM111 15h2v3h-2zM113 15h2v2h-2zM115 15h2v2h-2zM117 15h2v2h-2zM119 14h1v2h-1z"/>
<path fill="#fceea3" d="M9 48h2v2h-2zM11 47h2v2h-2zM13 46h2v2h-2zM15 45h2v2h-2zM17 44h2v2h-2zM19 43h2v2h-2zM21 41h2v3h-2zM23 40h2v2h-2zM25 38h2v3h-2zM27 37h2v2h-2zM29 36h2v2h-2zM31 35h2v2h-2zM33 34h2v3h-2zM35 34h2v2h-2zM37 34h2v2h-2zM39 34h2v2h-2zM41 33h2v2h-2zM43 33h2v2h-2zM45 33h2v2h-2zM47 33h2v2h-2zM49 33h2v2h-2zM51 33h2v1h-2zM53 32h2v2h-2zM55 32h2v2h-2zM57 32h2v1h-2zM59 32h2v1h-2zM61 32h2v1h-2zM63 31h2v2h-2zM65 31h2v1h-2zM67 31h2v1h-2zM69 30h2v2h-2zM71 30h2v2h-2zM73 30h2v1h-2zM75 30h2v1h-2zM77 29h2v2h-2zM79 29h2v1h-2zM81 29h2v1h-2zM83 28h2v2h-2zM85 28h2v1h-2zM87 26h2v3h-2zM89 25h2v4h-2zM91 24h2v4h-2zM93 23h2v5h-2zM95 22h2v5h-2zM97 21h2v5h-2zM99 21h2v4h-2zM101 20h2v4h-2zM103 19h2v4h-2zM105 19h2v3h-2zM107 18h2v3h-2zM109 18h2v3h-2zM111 18h2v2h-2zM113 17h2v2h-2zM115 17h2v2h-2zM117 17h2v2h-2zM119 16h1v2h-1z"/>
<path fill="#f7db7f" d="M9 55h2v1h-2zM11 54h2v1h-2zM13 53h2v1h-2zM15 52h2v1h-2zM17 50h2v2h-2zM19 49h2v1h-2zM21 48h2v1h-2zM23 47h2v1h-2zM25 46h2v1h-2zM27 45h2v2h-2zM29 44h2v2h-2zM31 43h2v2h-2zM33 42h2v2h-2zM35 41h2v2h-2zM37 41h2v1h-2zM39 40h2v2h-2zM41 40h2v2h-2zM43 40h2v1h-2zM45 40h2v1h-2zM47 39h2v2h-2zM49 39h2v2h-2zM51 39h2v1h-2zM53 39h2v1h-2zM55 38h2v2h-2zM57 38h2v2h-2zM59 37h2v2h-2zM61 37h2v2h-2zM63 37h2v2h-2zM65 36h2v2h-2zM67 36h2v2h-2zM69 36h2v2h-2zM71 36h2v1h-2zM73 35h2v2h-2zM75 35h2v1h-2zM77 35h2v1h-2zM79 34h2v2h-2zM81 34h2v2h-2zM83 34h2v1h-2zM85 34h2v1h-2zM87 34h2v1h-2zM89 33h2v2h-2zM91 33h2v2h-2zM93 33h2v1h-2zM95 32h2v2h-2zM97 32h2v2h-2zM99 32h2v1h-2zM101 31h2v2h-2zM103 31h2v2h-2zM105 31h2v1h-2zM107 30h2v2h-2zM109 30h2v2h-2zM111 29h2v2h-2zM113 29h2v2h-2zM115 28h2v2h-2zM117 27h2v3h-2zM119 26h1v3h-1z"/>
<path fill="#f6d677" d="M9 56h2v1h-2zM11 55h2v2h-2zM13 54h2v1h-2zM15 53h2v1h-2zM17 52h2v1h-2zM19 50h2v2h-2zM21 49h2v2h-2zM23 48h2v2h-2zM25 47h2v2h-2zM27 47h2v1h-2zM29 46h2v1h-2zM31 45h2v1h-2zM33 44h2v2h-2zM35 43h2v2h-2zM37 42h2v2h-2zM39 42h2v1h-2zM41 42h2v1h-2zM43 41h2v2h-2zM45 41h2v2h-2zM47 41h2v1h-2zM49 41h2v1h-2zM51 40h2v2h-2zM53 40h2v2h-2zM55 40h2v1h-2zM57 40h2v1h-2zM59 39h2v2h-2zM61 39h2v2h-2zM63 39h2v1h-2zM65 38h2v2h-2zM67 38h2v2h-2zM69 38h2v1h-2zM71 37h2v2h-2zM73 37h2v2h-2zM75 36h2v2h-2zM77 36h2v2h-2zM79 36h2v2h-2zM81 36h2v1h-2zM83 35h2v2h-2zM85 35h2v2h-2zM87 35h2v2h-2zM89 35h2v1h-2zM91 35h2v1h-2zM93 34h2v2h-2zM95 34h2v2h-2zM97 34h2v1h-2zM99 33h2v2h-2zM101 33h2v2h-2zM103 33h2v2h-2zM105 32h2v2h-2zM107 32h2v2h-2zM109 32h2v2h-2zM111 31h2v2h-2zM113 31h2v2h-2zM115 30h2v3h-2zM117 30h2v2h-2zM119 29h1v3h-1z"/>
<path fill="#f5d06f" d="M9 57h2v2h-2zM11 57h2v1h-2zM13 55h2v2h-2zM15 54h2v1h-2zM17 53h2v1h-2zM19 52h2v1h-2zM21 51h2v1h-2zM23 50h2v1h-2zM25 49h2v1h-2zM27 48h2v1h-2zM29 47h2v2h-2zM31 46h2v2h-2zM33 46h2v1h-2zM35 45h2v2h-2zM37 44h2v2h-2zM39 43h2v2h-2zM41 43h2v2h-2zM43 43h2v2h-2zM45 43h2v1h-2zM47 42h2v2h-2zM49 42h2v2h-2zM51 42h2v2h-2zM53 42h2v1h-2zM55 41h2v2h-2zM57 41h2v2h-2zM59 41h2v2h-2zM61 41h2v1h-2zM63 40h2v2h-2zM65 40h2v2h-2zM67 40h2v2h-2zM69 39h2v2h-2zM71 39h2v2h-2zM73 39h2v2h-2zM75 38h2v2h-2zM77 38h2v2h-2zM79 38h2v2h-2zM81 37h2v2h-2zM83 37h2v2h-2zM85 37h2v2h-2zM87 37h2v2h-2zM89 36h2v3h-2zM91 36h2v2h-2zM93 36h2v2h-2zM95 36h2v2h-2zM97 35h2v2h-2zM99 35h2v2h-2zM101 35h2v2h-2zM103 35h2v2h-2zM105 34h2v2h-2zM107 34h2v2h-2zM109 34h2v2h-2zM111 33h2v2h-2zM113 33h2v2h-2zM115 33h2v2h-2zM117 32h2v2h-2zM119 32h1v2h-1z"/>
<path fill="#f0b158" d="M9 63h2v1h-2zM13 62h2v1h-2zM15 61h2v1h-2zM17 60h2v1h-2zM19 59h2v1h-2zM21 59h2v1h-2zM23 58h2v1h-2zM25 57h2v2h-2zM27 57h2v1h-2zM29 56h2v2h-2zM31 56h2v1h-2zM33 55h2v2h-2zM35 55h2v2h-2zM37 55h2v2h-2zM39 55h2v1h-2zM41 55h2v1h-2zM43 55h2v1h-2zM45 55h2v1h-2zM47 55h2v1h-2zM49 55h2v1h-2zM51 54h2v2h-2zM53 54h2v2h-2zM55 54h2v2h-2zM57 54h2v2h-2zM59 54h2v2h-2zM61 54h2v2h-2zM63 54h2v2h-2zM65 54h2v2h-2zM67 54h2v2h-2zM69 54h2v2h-2zM71 54h2v2h-2zM73 54h2v2h-2zM75 54h2v2h-2zM77 54h2v2h-2zM79 54h2v2h-2zM81 54h2v2h-2zM83 53h2v3h-2zM85 53h2v2h-2zM87 53h2v2h-2zM89 53h2v2h-2zM91 53h2v2h-2zM93 53h2v2h-2zM95 53h2v2h-2zM97 53h2v2h-2zM99 52h2v3h-2zM101 52h2v3h-2zM103 52h2v3h-2zM105 52h2v3h-2zM107 52h2v3h-2zM109 52h2v3h-2zM111 52h2v3h-2zM113 52h2v3h-2zM115 52h2v3h-2zM117 52h2v3h-2zM119 52h1v3h-1z"/>
<path fill="#efac56" d="M9 64h2v1h-2zM11 63h2v1h-2zM15 62h2v1h-2zM17 61h2v1h-2zM19 60h2v1h-2zM21 60h2v1h-2zM23 59h2v1h-2zM25 59h2v1h-2zM27 58h2v2h-2zM29 58h2v1h-2zM31 57h2v2h-2zM33 57h2v2h-2zM35 57h2v2h-2zM37 57h2v1h-2zM39 56h2v2h-2zM41 56h2v2h-2zM43 56h2v2h-2zM45 56h2v2h-2zM47 56h2v2h-2zM49 56h2v2h-2zM51 56h2v2h-2zM53 56h2v2h-2zM55 56h2v2h-2zM57 56h2v2h-2zM59 56h2v2h-2zM61 56h2v2h-2zM63 56h2v2h-2zM65 56h2v2h-2zM67 56h2v2h-2zM69 56h2v2h-2zM71 56h2v2h-2zM73 56h2v2h-2zM75 56h2v2h-2zM77 56h2v2h-2zM79 56h2v2h-2zM81 56h2v2h-2zM83 56h2v2h-2zM85 55h2v3h-2zM87 55h2v2h-2zM89 55h2v2h-2zM91 55h2v2h-2zM93 55h2v2h-2zM95 55h2v2h-2zM97 55h2v2h-2zM99 55h2v2h-2zM101 55h2v2h-2zM103 55h2v2h-2zM105 55h2v2h-2zM107 55h2v2h-2zM109 55h2v2h-2zM111 55h2v2h-2zM113 55h2v2h-2zM115 55h2v2h-2zM117 55h2v2h-2zM119 55h1v2h-1z"/>
<path fill="#e98d50" d="M9 68h2v1h-2zM11 67h2v1h-2zM13 66h2v1h-2zM17 65h2v1h-2zM21 64h2v1h-2zM23 64h2v1h-2zM25 64h2v1h-2zM27 64h2v1h-2zM29 64h2v1h-2zM31 63h2v2h-2zM33 63h2v1h-2zM35 63h2v1h-2zM37 63h2v1h-2zM39 63h2v1h-2zM41 63h2v1h-2zM43 63h2v2h-2zM45 63h2v2h-2zM47 64h2v1h-2zM49 64h2v1h-2zM51 64h2v1h-2zM53 64h2v2h-2zM55 65h2v1h-2zM57 65h2v2h-2zM59 66h2v2h-2zM61 66h2v2h-2zM63 66h2v2h-2zM65 66h2v2h-2zM67 66h2v2h-2zM69 66h2v2h-2zM71 66h2v3h-2zM73 66h2v3h-2zM75 67h2v2h-2zM77 67h2v2h-2zM79 67h2v2h-2zM81 67h2v2h-2zM83 67h2v2h-2zM85 67h2v3h-2zM87 67h2v3h-2zM89 68h2v2h-2zM91 68h2v2h-2zM93 68h2v2h-2zM95 68h2v2h-2zM97 68h2v2h-2zM99 68h2v2h-2zM101 68h2v2h-2zM103 68h2v2h-2zM105 68h2v2h-2zM107 68h2v2h-2zM109 68h2v2h-2zM111 68h2v2h-2zM113 68h2v2h-2zM115 68h2v2h-2zM117 68h2v2h-2zM119 68h1v2h-1z"/>
<path fill="#e0734d" d="M9 73h2v1h-2zM11 71h2v1h-2zM13 70h2v1h-2zM15 69h2v1h-2zM17 68h2v1h-2zM19 68h2v1h-2zM21 68h2v1h-2zM23 68h2v1h-2zM25 68h2v1h-2zM27 68h2v1h-2zM29 68h2v1h-2zM31 68h2v1h-2zM33 67h2v2h-2zM35 67h2v2h-2zM37 67h2v2h-2zM39 67h2v2h-2zM41 68h2v1h-2zM43 68h2v2h-2zM45 69h2v1h-2zM47 69h2v2h-2zM49 70h2v2h-2zM51 70h2v2h-2zM53 71h2v2h-2zM55 72h2v2h-2zM57 73h2v2h-2zM59 74h2v2h-2zM61 74h2v2h-2zM63 74h2v2h-2zM65 74h2v3h-2zM67 75h2v2h-2zM69 75h2v2h-2zM71 75h2v2h-2zM73 75h2v3h-2zM75 76h2v2h-2zM77 76h2v2h-2zM79 76h2v2h-2zM81 76h2v2h-2zM83 76h2v2h-2zM85 76h2v2h-2zM87 76h2v2h-2zM89 76h2v2h-2zM91 76h2v2h-2zM93 76h2v2h-2zM95 76h2v2h-2zM97 76h2v2h-2zM99 76h2v2h-2zM101 76h2v2h-2zM103 76h2v2h-2zM105 76h2v2h-2zM107 76h2v2h-2zM109 76h2v2h-2zM111 76h2v2h-2zM113 76h2v2h-2zM115 76h2v2h-2zM117 76h2v2h-2zM119 76h1v2h-1z"/>
<path fill="#de6d4c" d="M9 74h2v1h-2zM11 72h2v1h-2zM13 71h2v1h-2zM15 70h2v1h-2zM17 69h2v1h-2zM19 69h2v1h-2zM21 69h2v1h-2zM23 69h2v1h-2zM25 69h2v1h-2zM27 69h2v1h-2zM29 69h2v1h-2zM31 69h2v1h-2zM33 69h2v1h-2zM35 69h2v1h-2zM37 69h2v1h-2zM39 69h2v2h-2zM41 69h2v2h-2zM43 70h2v2h-2zM45 70h2v2h-2zM47 71h2v2h-2zM49 72h2v2h-2zM51 72h2v2h-2zM53 73h2v2h-2zM55 74h2v2h-2zM57 75h2v2h-2zM59 76h2v2h-2zM61 76h2v3h-2zM63 76h2v3h-2zM65 77h2v2h-2zM67 77h2v2h-2zM69 77h2v3h-2zM71 77h2v3h-2zM73 78h2v2h-2zM75 78h2v2h-2zM77 78h2v2h-2zM79 78h2v2h-2zM81 78h2v2h-2zM83 78h2v3h-2zM85 78h2v2h-2zM87 78h2v2h-2zM89 78h2v2h-2zM91 78h2v2h-2zM93 78h2v2h-2zM95 78h2v2h-2zM97 78h2v2h-2zM99 78h2v2h-2zM101 78h2v2h-2zM103 78h2v3h-2zM105 78h2v2h-2zM107 78h2v2h-2zM109 78h2v2h-2zM111 78h2v2h-2zM113 78h2v2h-2zM115 78h2v2h-2zM117 78h2v2h-2zM119 78h1v2h-1z"/>
<path fill="#da674b" d="M9 75h2v2h-2zM11 73h2v1h-2zM13 72h2v1h-2zM15 71h2v1h-2zM17 70h2v1h-2zM19 70h2v1h-2zM21 70h2v1h-2zM23 70h2v1h-2zM25 70h2v1h-2zM27 70h2v1h-2zM29 70h2v1h-2zM31 70h2v1h-2zM33 70h2v2h-2zM35 70h2v2h-2zM37 70h2v2h-2zM39 71h2v1h-2zM41 71h2v2h-2zM43 72h2v2h-2zM45 72h2v2h-2zM47 73h2v2h-2zM49 74h2v2h-2zM51 74h2v3h-2zM53 75h2v3h-2zM55 76h2v3h-2zM57 77h2v3h-2zM59 78h2v3h-2zM61 79h2v3h-2zM63 79h2v3h-2zM65 79h2v3h-2zM67 79h2v3h-2zM69 80h2v2h-2zM71 80h2v3h-2zM73 80h2v3h-2zM75 80h2v3h-2zM77 80h2v3h-2zM79 80h2v3h-2zM81 80h2v3h-2zM83 81h2v3h-2zM85 80h2v3h-2zM87 80h2v3h-2zM89 80h2v3h-2zM91 80h2v4h-2zM93 80h2v3h-2zM95 80h2v3h-2zM97 80h2v3h-2zM99 80h2v3h-2zM101 80h2v3h-2zM103 81h2v3h-2zM105 80h2v3h-2zM107 80h2v3h-2zM109 80h2v3h-2zM111 80h2v4h-2zM113 80h2v3h-2zM115 80h2v3h-2zM117 80h2v3h-2zM119 80h1v3h-1z"/>
<path fill="#d05c4a" d="M9 80h2v2h-2zM11 75h2v1h-2zM13 74h2v1h-2zM15 73h2v1h-2zM17 73h2v1h-2zM19 72h2v2h-2zM21 72h2v1h-2zM23 72h2v1h-2zM25 72h2v2h-2zM27 72h2v2h-2zM29 73h2v1h-2zM31 73h2v1h-2zM33 73h2v1h-2zM35 73h2v2h-2zM37 74h2v1h-2zM39 74h2v2h-2zM41 75h2v2h-2zM43 75h2v4h-2zM45 76h2v4h-2zM47 77h2v4h-2zM49 78h2v4h-2zM51 80h2v3h-2zM53 81h2v4h-2zM55 82h2v4h-2zM57 83h2v4h-2zM59 85h2v2h-2zM61 85h2v3h-2zM63 85h2v3h-2zM65 85h2v3h-2zM67 85h2v3h-2zM69 85h2v4h-2zM71 86h2v3h-2zM73 86h2v3h-2zM75 86h2v3h-2zM77 86h2v3h-2zM79 86h2v4h-2zM81 86h2v4h-2zM83 86h2v4h-2zM85 86h2v4h-2zM87 86h2v4h-2zM89 86h2v4h-2zM91 86h2v4h-2zM93 86h2v4h-2zM95 86h2v4h-2zM97 86h2v4h-2zM99 86h2v4h-2zM101 86h2v4h-2zM103 86h2v4h-2zM105 86h2v4h-2zM107 86h2v4h-2zM109 86h2v4h-2zM111 86h2v4h-2zM113 86h2v4h-2zM115 86h2v4h-2zM117 86h2v4h-2zM119 86h1v4h-1z"/>
<path fill="#c55347" d="M9 85h2v3h-2zM11 78h2v3h-2zM13 76h2v4h-2zM15 75h2v3h-2zM17 75h2v1h-2zM19 75h2v1h-2zM21 75h2v1h-2zM23 75h2v1h-2zM25 75h2v1h-2zM27 75h2v2h-2zM29 75h2v2h-2zM31 75h2v3h-2zM33 76h2v3h-2zM35 77h2v4h-2zM37 78h2v5h-2zM39 81h2v4h-2zM41 82h2v4h-2zM43 83h2v4h-2zM45 84h2v4h-2zM47 85h2v4h-2zM49 86h2v4h-2zM51 87h2v4h-2zM53 88h2v5h-2zM53 98h2v2h-2zM55 89h2v5h-2zM55 95h2v5h-2zM57 91h2v9h-2zM59 92h2v8h-2zM61 92h2v8h-2zM63 92h2v8h-2zM65 92h2v8h-2zM67 92h2v8h-2zM69 92h2v8h-2zM71 92h2v8h-2zM73 92h2v8h-2zM75 92h2v8h-2zM77 92h2v7h-2zM79 92h2v7h-2zM81 92h2v7h-2zM83 92h2v7h-2zM85 92h2v7h-2zM87 92h2v7h-2zM89 92h2v7h-2zM91 92h2v7h-2zM93 92h2v7h-2zM95 92h2v7h-2zM97 92h2v7h-2zM99 92h2v7h-2zM101 92h2v6h-2zM103 92h2v6h-2zM105 92h2v5h-2zM107 92h2v5h-2zM109 92h2v5h-2zM111 92h2v5h-2zM113 92h2v5h-2zM115 92h2v4h-2zM117 92h2v4h-2zM119 92h1v4h-1z"/>
<path fill="#be5046" d="M9 88h2v12h-2zM11 81h2v4h-2zM13 80h2v2h-2zM15 78h2v2h-2zM17 76h2v2h-2zM19 76h2v2h-2zM21 76h2v2h-2zM23 76h2v2h-2zM25 76h2v3h-2zM27 77h2v2h-2zM29 77h2v3h-2zM31 78h2v3h-2zM33 79h2v4h-2zM35 81h2v4h-2zM37 83h2v4h-2zM39 85h2v4h-2zM39 99h2v1h-2zM41 86h2v5h-2zM41 97h2v3h-2zM43 87h2v5h-2zM43 96h2v4h-2zM45 88h2v5h-2zM45 95h2v5h-2zM47 89h2v11h-2zM49 90h2v10h-2zM51 91h2v9h-2zM53 93h2v5h-2zM55 94h2v1h-2zM77 99h2v1h-2zM79 99h2v1h-2zM81 99h2v1h-2zM83 99h2v1h-2zM85 99h2v1h-2zM87 99h2v1h-2zM89 99h2v1h-2zM91 99h2v1h-2zM93 99h2v1h-2zM95 99h2v1h-2zM97 99h2v1h-2zM99 99h2v1h-2zM101 98h2v2h-2zM103 98h2v2h-2zM105 97h2v3h-2zM107 97h2v3h-2zM109 97h2v3h-2zM111 97h2v3h-2zM113 97h2v3h-2zM115 96h2v4h-2zM117 96h2v4h-2zM119 96h1v4h-1z"/>
<path fill="#b84c44" d="M11 85h2v2h-2zM13 82h2v3h-2zM15 80h2v3h-2zM17 78h2v3h-2zM19 78h2v4h-2zM21 78h2v4h-2zM23 78h2v3h-2zM25 79h2v3h-2zM27 79h2v4h-2zM29 80h2v4h-2zM31 81h2v4h-2zM33 83h2v4h-2zM33 98h2v2h-2zM35 85h2v6h-2zM35 95h2v5h-2zM37 87h2v13h-2zM39 89h2v10h-2zM41 91h2v6h-2zM43 92h2v4h-2zM45 93h2v2h-2z"/>
<path fill="#b24a42" d="M11 87h2v13h-2zM13 85h2v7h-2zM13 96h2v4h-2zM15 83h2v3h-2zM17 81h2v4h-2zM19 82h2v3h-2zM21 82h2v3h-2zM23 81h2v4h-2zM25 82h2v3h-2zM27 83h2v3h-2zM29 84h2v3h-2zM29 97h2v3h-2zM31 85h2v15h-2zM33 87h2v11h-2zM35 91h2v4h-2z"/>
<path fill="#ac4840" d="M13 92h2v4h-2zM15 86h2v14h-2zM17 85h2v2h-2zM19 85h2v2h-2zM21 85h2v2h-2zM23 85h2v2h-2zM25 85h2v5h-2zM25 97h2v3h-2zM27 86h2v14h-2zM29 87h2v10h-2z"/>
<path fill="#a6463f" d="M17 87h2v13h-2zM19 87h2v13h-2zM21 87h2v13h-2zM23 87h2v13h-2zM25 90h2v7h-2z"/>
<path fill="#fffdc9" d="M23 6h2v4h-2zM25 6h2v4h-2zM27 6h2v4h-2zM29 6h2v4h-2zM31 4h2v6h-2zM33 1h2v9h-2zM35 1h2v9h-2zM37 1h2v9h-2zM39 1h2v9h-2zM41 1h2v9h-2zM43 1h2v9h-2zM45 1h2v9h-2zM47 1h2v9h-2zM49 1h2v9h-2zM51 1h2v7h-2zM53 1h2v6h-2zM55 1h2v4h-2z"/>
</g>
<g clip-path="url(#cpb)" fill="none" stroke="#a4a4a4" stroke-width="4.4" stroke-dasharray="17 8.2" stroke-dashoffset="8.5">
<polyline points="127.4,896.7 127.5,895.6 127.6,893.5 127.9,890.6 128.1,887.1 128.5,883.3 128.8,879.1 129.2,874.7 129.6,870.0 130.1,865.2 130.6,860.3 131.1,855.3 131.7,850.3 132.3,845.2 132.9,840.2 133.5,835.2 134.2,830.2 134.9,825.2 135.6,820.3 136.4,815.4 137.1,810.7 137.9,805.9 138.7,801.3 139.6,796.7 140.4,792.2 141.3,787.7 142.2,783.4 143.1,779.1 144.1,774.8 145.0,770.7 146.0,766.6 147.0,762.6 148.1,758.6 149.1,754.8 150.2,751.0 151.2,747.2 152.3,743.5 153.5,739.9 154.6,736.4 155.7,732.9 156.9,729.4 158.1,726.0 159.3,722.7 160.5,719.4 161.8,716.2 163.0,713.0 164.3,709.9 165.6,706.8 166.9,703.8 168.2,700.8 169.6,697.9 170.9,695.0 172.3,692.2 173.7,689.4 175.1,686.6 176.5,683.9 178.0,681.2 179.4,678.5 180.9,675.9 182.4,673.4 183.9,670.8 185.4,668.3 186.9,665.8 188.5,663.4 190.0,661.0 191.6,658.6 193.2,656.3 194.8,654.0 196.4,651.7 198.0,649.4 200.0,646.8 210.4,633.7 220.8,622.2 231.2,611.7 241.6,602.3 252.0,593.7 262.4,585.7 272.8,578.4 283.2,571.6 293.6,565.2 304.0,559.3 314.4,553.7 324.9,548.5 335.3,543.5 345.7,538.9 356.1,534.4 366.5,530.2 376.9,526.3 387.3,522.5 397.7,518.9 408.1,515.5 418.5,512.2 428.9,509.1 439.3,506.1 449.7,503.2 460.1,500.5 470.5,497.9 480.9,495.4 491.3,493.1 501.7,490.8 512.1,488.6 522.5,486.5 532.9,484.5 543.3,482.6 553.7,480.8 564.1,479.0 574.5,477.3 585.0,475.7 595.4,474.1 605.8,472.7 616.2,471.2 626.6,469.9 637.0,468.6 647.4,467.3 657.8,466.1 668.2,465.0 678.6,463.9 689.0,462.8 699.4,461.8 709.8,460.9"/>
<polyline points="128.4,896.7 128.5,895.8 128.7,893.9 128.9,891.3 129.2,888.3 129.5,884.9 129.8,881.2 130.2,877.2 130.6,873.0 131.1,868.7 131.6,864.3 132.1,859.7 132.7,855.2 133.2,850.5 133.9,845.9 134.5,841.3 135.1,836.7 135.8,832.1 136.5,827.5 137.3,823.0 138.0,818.5 138.8,814.0 139.6,809.7 140.4,805.3 141.3,801.1 142.1,796.9 143.0,792.7 143.9,788.6 144.9,784.6 145.8,780.7 146.8,776.8 147.8,772.9 148.8,769.2 149.8,765.4 150.9,761.8 151.9,758.2 153.0,754.7 154.1,751.2 155.2,747.8 156.4,744.4 157.5,741.1 158.7,737.8 159.9,734.6 161.1,731.4 162.3,728.3 163.6,725.3 164.8,722.2 166.1,719.3 167.4,716.3 168.7,713.5 170.0,710.6 171.3,707.8 172.7,705.1 174.1,702.4 175.5,699.7 176.9,697.1 178.3,694.5 179.7,691.9 181.1,689.4 182.6,686.9 184.1,684.4 185.6,682.0 187.1,679.6 188.6,677.3 190.1,675.0 191.7,672.7 193.3,670.4 194.8,668.2 196.4,666.0 198.0,663.8 200.0,661.2 210.4,648.6 220.8,637.4 231.2,627.5 241.6,618.6 252.0,610.5 262.4,603.2 272.8,596.5 283.2,590.3 293.6,584.7 304.0,579.5 314.4,574.7 324.9,570.3 335.3,566.2 345.7,562.4 356.1,558.8 366.5,555.6 376.9,552.6 387.3,549.8 397.7,547.2 408.1,544.8 418.5,542.5 428.9,540.5 439.3,538.6 449.7,536.8 460.1,535.2 470.5,533.7 480.9,532.3 491.3,531.0 501.7,529.8 512.1,528.8 522.5,527.8 532.9,526.9 543.3,526.1 553.7,525.3 564.1,524.6 574.5,524.0 585.0,523.5 595.4,523.0 605.8,522.5 616.2,522.1 626.6,521.7 637.0,521.4 647.4,521.1 657.8,520.8 668.2,520.6 678.6,520.4 689.0,520.2 699.4,520.0 709.8,519.9"/>
<polyline points="129.6,896.7 129.7,895.9 129.8,894.2 130.0,892.0 130.3,889.4 130.6,886.4 131.0,883.1 131.4,879.5 131.8,875.8 132.2,872.0 132.7,868.0 133.2,863.9 133.8,859.8 134.3,855.6 134.9,851.3 135.5,847.1 136.2,842.9 136.9,838.6 137.6,834.4 138.3,830.2 139.0,826.1 139.8,822.0 140.6,817.9 141.4,813.9 142.2,809.9 143.1,805.9 144.0,802.0 144.8,798.2 145.8,794.4 146.7,790.7 147.6,787.0 148.6,783.4 149.6,779.8 150.6,776.3 151.6,772.9 152.7,769.5 153.8,766.1 154.8,762.8 155.9,759.6 157.1,756.4 158.2,753.2 159.4,750.2 160.5,747.1 161.7,744.1 162.9,741.2 164.1,738.3 165.4,735.4 166.6,732.6 167.9,729.9 169.2,727.1 170.5,724.5 171.8,721.8 173.1,719.2 174.5,716.7 175.8,714.2 177.2,711.7 178.6,709.3 180.0,706.9 181.4,704.6 182.9,702.2 184.3,700.0 185.8,697.7 187.3,695.5 188.8,693.3 190.3,691.2 191.8,689.1 193.3,687.0 194.9,685.0 196.5,683.0 198.0,681.0 200.0,678.6 210.4,667.2 220.8,657.3 231.2,648.7 241.6,641.3 252.0,634.8 262.4,629.1 272.8,624.2 283.2,619.8 293.6,616.1 304.0,612.8 314.4,609.9 324.9,607.4 335.3,605.3 345.7,603.5 356.1,601.9 366.5,600.6 376.9,599.5 387.3,598.5 397.7,597.8 408.1,597.1 418.5,596.6 428.9,596.1 439.3,595.8 449.7,595.5 460.1,595.3 470.5,595.1 480.9,594.9 491.3,594.8 501.7,594.7 512.1,594.7 522.5,594.6 532.9,594.6 543.3,594.6 553.7,594.5 564.1,594.5 574.5,594.5 585.0,594.5 595.4,594.5 605.8,594.5 616.2,594.5 626.6,594.5 637.0,594.5 647.4,594.5 657.8,594.5 668.2,594.5 678.6,594.5 689.0,594.5 699.4,594.5 709.8,594.5"/>
<polyline points="130.9,896.7 131.0,896.0 131.2,894.6 131.4,892.6 131.6,890.3 131.9,887.7 132.3,884.9 132.7,881.8 133.1,878.5 133.5,875.1 134.0,871.6 134.5,868.0 135.0,864.3 135.6,860.5 136.2,856.7 136.8,852.9 137.4,849.1 138.1,845.3 138.8,841.5 139.5,837.7 140.2,833.9 140.9,830.2 141.7,826.4 142.5,822.8 143.3,819.1 144.2,815.5 145.0,812.0 145.9,808.5 146.8,805.0 147.7,801.6 148.6,798.2 149.6,794.9 150.6,791.7 151.6,788.5 152.6,785.3 153.6,782.2 154.6,779.2 155.7,776.2 156.8,773.3 157.9,770.4 159.0,767.5 160.1,764.8 161.3,762.0 162.4,759.3 163.6,756.7 164.8,754.1 166.0,751.6 167.2,749.2 168.5,746.7 169.7,744.4 171.0,742.0 172.3,739.7 173.6,737.5 174.9,735.3 176.3,733.2 177.6,731.1 179.0,729.1 180.4,727.1 181.8,725.1 183.2,723.2 184.6,721.3 186.0,719.5 187.5,717.7 188.9,716.0 190.4,714.3 191.9,712.6 193.4,711.0 194.9,709.5 196.5,707.9 198.0,706.4 200.0,704.6 210.4,696.3 220.8,689.7 231.2,684.6 241.6,680.6 252.0,677.6 262.4,675.4 272.8,673.7 283.2,672.5 293.6,671.7 304.0,671.1 314.4,670.7 324.9,670.5 335.3,670.3 345.7,670.2 356.1,670.1 366.5,670.1 376.9,670.1 387.3,670.1 397.7,670.1 408.1,670.0 418.5,670.0 428.9,670.0 439.3,670.0 449.7,670.0 460.1,670.0 470.5,670.0 480.9,670.0 491.3,670.0 501.7,670.0 512.1,670.0 522.5,670.0 532.9,670.0 543.3,670.0 553.7,670.0 564.1,670.0 574.5,670.0 585.0,670.0 595.4,670.0 605.8,670.0 616.2,670.0 626.6,670.0 637.0,670.0 647.4,670.0 657.8,670.0 668.2,670.0 678.6,670.0 689.0,670.0 699.4,670.0 709.8,670.0"/>
<polyline points="131.7,896.7 131.8,896.0 131.9,894.7 132.1,893.0 132.4,890.8 132.7,888.4 133.0,885.8 133.4,882.9 133.8,879.9 134.3,876.7 134.7,873.4 135.2,870.1 135.7,866.6 136.3,863.1 136.9,859.6 137.5,856.1 138.1,852.5 138.8,848.9 139.4,845.3 140.1,841.8 140.8,838.3 141.6,834.7 142.4,831.3 143.1,827.8 143.9,824.4 144.8,821.0 145.6,817.7 146.5,814.5 147.4,811.2 148.3,808.1 149.2,804.9 150.1,801.9 151.1,798.8 152.1,795.9 153.1,793.0 154.1,790.1 155.1,787.3 156.2,784.6 157.2,781.9 158.3,779.3 159.4,776.7 160.5,774.2 161.7,771.8 162.8,769.4 164.0,767.0 165.2,764.8 166.4,762.5 167.6,760.4 168.8,758.2 170.1,756.2 171.3,754.2 172.6,752.2 173.9,750.3 175.2,748.5 176.5,746.7 177.8,744.9 179.2,743.2 180.6,741.6 181.9,740.0 183.3,738.5 184.7,737.0 186.2,735.5 187.6,734.1 189.0,732.8 190.5,731.5 192.0,730.2 193.5,729.0 195.0,727.9 196.5,726.8 198.0,725.7 200.0,724.4 210.4,718.7 220.8,714.8 231.2,712.2 241.6,710.4 252.0,709.3 262.4,708.6 272.8,708.3 283.2,708.0 293.6,707.9 304.0,707.9 314.4,707.8 324.9,707.8 335.3,707.8 345.7,707.8 356.1,707.8 366.5,707.8 376.9,707.8 387.3,707.8 397.7,707.8 408.1,707.8 418.5,707.8 428.9,707.8 439.3,707.8 449.7,707.8 460.1,707.8 470.5,707.8 480.9,707.8 491.3,707.8 501.7,707.8 512.1,707.8 522.5,707.8 532.9,707.8 543.3,707.8 553.7,707.8 564.1,707.8 574.5,707.8 585.0,707.8 595.4,707.8 605.8,707.8 616.2,707.8 626.6,707.8 637.0,707.8 647.4,707.8 657.8,707.8 668.2,707.8 678.6,707.8 689.0,707.8 699.4,707.8 709.8,707.8"/>
<polyline points="134.3,896.7 134.4,896.2 134.5,895.3 134.7,894.0 135.0,892.4 135.3,890.6 135.6,888.7 135.9,886.6 136.3,884.4 136.7,882.0 137.2,879.6 137.7,877.1 138.2,874.6 138.7,872.0 139.3,869.5 139.8,866.9 140.4,864.3 141.1,861.7 141.7,859.1 142.4,856.6 143.1,854.0 143.8,851.6 144.5,849.1 145.3,846.8 146.1,844.4 146.9,842.1 147.7,839.9 148.5,837.8 149.4,835.7 150.2,833.7 151.1,831.7 152.0,829.8 152.9,828.0 153.9,826.3 154.8,824.6 155.8,823.0 156.8,821.5 157.8,820.0 158.8,818.6 159.9,817.3 160.9,816.1 162.0,814.9 163.1,813.8 164.2,812.8 165.3,811.8 166.5,810.9 167.6,810.1 168.8,809.3 170.0,808.6 171.2,807.9 172.4,807.3 173.6,806.7 174.8,806.2 176.1,805.8 177.4,805.3 178.6,805.0 179.9,804.6 181.2,804.3 182.6,804.0 183.9,803.8 185.3,803.6 186.6,803.4 188.0,803.2 189.4,803.1 190.8,802.9 192.2,802.8 193.7,802.7 195.1,802.7 196.6,802.6 198.0,802.5 200.0,802.5 210.4,802.3 220.8,802.3 231.2,802.3 241.6,802.3 252.0,802.3 262.4,802.3 272.8,802.3 283.2,802.3 293.6,802.3 304.0,802.3 314.4,802.3 324.9,802.3 335.3,802.3 345.7,802.3 356.1,802.3 366.5,802.3 376.9,802.3 387.3,802.3 397.7,802.3 408.1,802.3 418.5,802.3 428.9,802.3 439.3,802.3 449.7,802.3 460.1,802.3 470.5,802.3 480.9,802.3 491.3,802.3 501.7,802.3 512.1,802.3 522.5,802.3 532.9,802.3 543.3,802.3 553.7,802.3 564.1,802.3 574.5,802.3 585.0,802.3 595.4,802.3 605.8,802.3 616.2,802.3 626.6,802.3 637.0,802.3 647.4,802.3 657.8,802.3 668.2,802.3 678.6,802.3 689.0,802.3 699.4,802.3 709.8,802.3"/>
</g>
<text x="656.50" y="499.50" font-size="26" text-anchor="middle">9.4</text>
<text x="656.50" y="551.70" font-size="26" text-anchor="middle">9.0</text>
<text x="656.50" y="627.30" font-size="26" text-anchor="middle">8.6</text>
<text x="656.50" y="697.60" font-size="26" text-anchor="middle">8.2</text>
<text x="656.50" y="740.20" font-size="26" text-anchor="middle">8.0</text>
<text x="656.50" y="835.90" font-size="26" text-anchor="middle">7.5</text>
<rect x="119.3" y="424.5" width="590.50" height="472.20" stroke="#000" stroke-width="2.1" fill="none"/>
<path d="M119.30 896.70v12.5M119.30 424.50v-12.5M217.72 896.70v12.5M217.72 424.50v-12.5M316.13 896.70v12.5M316.13 424.50v-12.5M414.55 896.70v12.5M414.55 424.50v-12.5M512.97 896.70v12.5M512.97 424.50v-12.5M611.38 896.70v12.5M611.38 424.50v-12.5M709.80 896.70v12.5M709.80 424.50v-12.5M119.30 424.50h-12.5M709.80 424.50h12.5M119.30 443.39h-7.0M709.80 443.39h7.0M119.30 462.28h-7.0M709.80 462.28h7.0M119.30 481.16h-7.0M709.80 481.16h7.0M119.30 500.05h-7.0M709.80 500.05h7.0M119.30 518.94h-12.5M709.80 518.94h12.5M119.30 537.83h-7.0M709.80 537.83h7.0M119.30 556.72h-7.0M709.80 556.72h7.0M119.30 575.60h-7.0M709.80 575.60h7.0M119.30 594.49h-7.0M709.80 594.49h7.0M119.30 613.38h-12.5M709.80 613.38h12.5M119.30 632.27h-7.0M709.80 632.27h7.0M119.30 651.16h-7.0M709.80 651.16h7.0M119.30 670.04h-7.0M709.80 670.04h7.0M119.30 688.93h-7.0M709.80 688.93h7.0M119.30 707.82h-12.5M709.80 707.82h12.5M119.30 726.71h-7.0M709.80 726.71h7.0M119.30 745.60h-7.0M709.80 745.60h7.0M119.30 764.48h-7.0M709.80 764.48h7.0M119.30 783.37h-7.0M709.80 783.37h7.0M119.30 802.26h-12.5M709.80 802.26h12.5M119.30 821.15h-7.0M709.80 821.15h7.0M119.30 840.04h-7.0M709.80 840.04h7.0M119.30 858.92h-7.0M709.80 858.92h7.0M119.30 877.81h-7.0M709.80 877.81h7.0M119.30 896.70h-12.5M709.80 896.70h12.5" stroke="#000" stroke-width="2.1" fill="none"/>
<text x="85.60" y="435.30" font-size="29" text-anchor="end">9.5</text>
<text x="85.60" y="529.74" font-size="29" text-anchor="end">9.0</text>
<text x="85.60" y="624.18" font-size="29" text-anchor="end">8.5</text>
<text x="85.60" y="718.62" font-size="29" text-anchor="end">8.0</text>
<text x="85.60" y="813.06" font-size="29" text-anchor="end">7.5</text>
<text x="85.60" y="907.50" font-size="29" text-anchor="end">7.0</text>
<text transform="translate(22.8,661.6) rotate(-90)" font-size="29" text-anchor="middle">M<tspan font-size="20" dy="8.3">w</tspan></text>
<text x="2.20" y="436.00" font-size="33" text-anchor="start" font-weight="bold">b</text>
<rect x="828.4" y="424.5" width="590.40" height="472.20" fill="#fff"/>
<g transform="translate(828.4,424.5) scale(4.92000,4.72200)" shape-rendering="crispEdges">
<path fill="#1c190b" d="M0 80h1v8h-1zM0 92h1v1h-1zM1 52h2v8h-2zM1 63h2v3h-2zM3 48h2v8h-2z"/>
<path fill="#b84c44" d="M0 93h1v7h-1zM3 61h2v5h-2zM11 89h2v11h-2zM13 83h2v6h-2zM15 79h2v4h-2zM17 76h2v4h-2zM19 77h2v3h-2zM21 78h2v3h-2zM23 78h2v4h-2zM25 79h2v4h-2zM27 79h2v5h-2zM29 80h2v5h-2zM29 98h2v2h-2zM31 81h2v6h-2zM31 95h2v5h-2zM33 83h2v17h-2zM35 85h2v15h-2zM37 87h2v13h-2z"/>
<path fill="#de6d4c" d="M1 66h2v3h-2zM5 48h2v19h-2zM9 74h2v1h-2zM11 72h2v1h-2zM13 71h2v1h-2zM15 70h2v1h-2zM17 69h2v1h-2zM19 68h2v1h-2zM21 67h2v2h-2zM23 66h2v2h-2zM25 66h2v1h-2zM27 66h2v1h-2zM29 66h2v1h-2zM31 65h2v2h-2zM33 66h2v1h-2zM35 66h2v1h-2zM37 66h2v2h-2zM39 67h2v1h-2zM41 67h2v2h-2zM43 68h2v2h-2zM45 68h2v3h-2zM47 69h2v3h-2zM49 70h2v3h-2zM51 71h2v2h-2zM53 72h2v2h-2zM55 72h2v3h-2zM57 73h2v3h-2zM59 74h2v2h-2zM61 74h2v3h-2zM63 75h2v2h-2zM65 75h2v2h-2zM67 75h2v3h-2zM69 76h2v2h-2zM71 76h2v2h-2zM73 76h2v2h-2zM75 76h2v3h-2zM77 77h2v2h-2zM79 77h2v2h-2zM81 77h2v2h-2zM83 77h2v2h-2zM85 77h2v2h-2zM87 78h2v2h-2zM89 78h2v2h-2zM91 78h2v2h-2zM93 78h2v2h-2zM95 78h2v2h-2zM97 78h2v2h-2zM99 78h2v2h-2zM101 78h2v2h-2zM103 79h2v1h-2zM105 79h2v2h-2zM107 79h2v2h-2zM109 79h2v2h-2zM111 79h2v2h-2zM113 79h2v2h-2zM115 79h2v2h-2zM117 80h2v1h-2zM119 80h1v1h-1z"/>
<path fill="#322114" d="M1 69h2v11h-2z"/>
<path fill="#e7864f" d="M1 80h2v20h-2zM7 76h2v16h-2zM9 70h2v1h-2zM11 69h2v1h-2zM13 68h2v1h-2zM15 67h2v1h-2zM17 65h2v1h-2zM19 64h2v1h-2zM25 62h2v1h-2zM27 62h2v1h-2zM29 61h2v1h-2zM31 61h2v1h-2zM33 61h2v1h-2zM35 61h2v1h-2zM37 61h2v2h-2zM39 62h2v1h-2zM41 62h2v1h-2zM43 62h2v1h-2zM45 62h2v1h-2zM47 62h2v2h-2zM49 62h2v2h-2zM51 63h2v1h-2zM53 63h2v2h-2zM55 64h2v2h-2zM57 64h2v2h-2zM59 65h2v2h-2zM61 65h2v2h-2zM63 66h2v2h-2zM65 66h2v2h-2zM67 67h2v2h-2zM69 67h2v2h-2zM71 67h2v3h-2zM73 68h2v2h-2zM75 68h2v2h-2zM77 69h2v2h-2zM79 69h2v2h-2zM81 69h2v2h-2zM83 69h2v2h-2zM85 69h2v2h-2zM87 70h2v2h-2zM89 70h2v2h-2zM91 70h2v2h-2zM93 70h2v2h-2zM95 70h2v2h-2zM97 70h2v2h-2zM99 70h2v2h-2zM101 70h2v2h-2zM103 71h2v2h-2zM105 71h2v2h-2zM107 71h2v2h-2zM109 71h2v2h-2zM111 71h2v2h-2zM113 71h2v2h-2zM115 71h2v2h-2zM117 72h2v2h-2zM119 72h1v2h-1z"/>
<path fill="#7e3a30" d="M3 56h2v5h-2z"/>
<path fill="#e98d50" d="M3 66h2v34h-2zM5 67h2v33h-2zM7 68h2v8h-2zM9 69h2v1h-2zM11 68h2v1h-2zM13 67h2v1h-2zM15 66h2v1h-2zM17 64h2v1h-2zM21 63h2v1h-2zM23 61h2v2h-2zM25 61h2v1h-2zM27 61h2v1h-2zM29 60h2v1h-2zM31 59h2v2h-2zM33 60h2v1h-2zM35 60h2v1h-2zM37 60h2v1h-2zM39 60h2v2h-2zM41 60h2v2h-2zM43 60h2v2h-2zM45 60h2v2h-2zM47 60h2v2h-2zM49 60h2v2h-2zM51 61h2v2h-2zM53 61h2v2h-2zM55 62h2v2h-2zM57 62h2v2h-2zM59 63h2v2h-2zM61 63h2v2h-2zM63 64h2v2h-2zM65 64h2v2h-2zM67 64h2v3h-2zM69 65h2v2h-2zM71 65h2v2h-2zM73 66h2v2h-2zM75 66h2v2h-2zM77 66h2v3h-2zM79 67h2v2h-2zM81 67h2v2h-2zM83 67h2v2h-2zM85 67h2v2h-2zM87 67h2v3h-2zM89 68h2v2h-2zM91 68h2v2h-2zM93 68h2v2h-2zM95 68h2v2h-2zM97 68h2v2h-2zM99 68h2v2h-2zM101 68h2v2h-2zM103 69h2v2h-2zM105 69h2v2h-2zM107 69h2v2h-2zM109 69h2v2h-2zM111 69h2v2h-2zM113 69h2v2h-2zM115 69h2v2h-2zM117 70h2v2h-2zM119 70h1v2h-1z"/>
<path fill="#fef9c1" d="M5 33h2v2h-2zM7 29h2v6h-2zM9 22h2v18h-2zM11 22h2v17h-2zM13 22h2v15h-2zM15 22h2v14h-2zM17 22h2v12h-2zM19 22h2v10h-2zM21 22h2v9h-2zM23 22h2v8h-2zM25 22h2v7h-2zM27 21h2v8h-2zM29 21h2v7h-2zM31 21h2v6h-2zM33 21h2v6h-2zM35 21h2v6h-2zM37 21h2v6h-2zM39 21h2v6h-2zM41 20h2v7h-2zM43 19h2v8h-2zM45 18h2v9h-2zM47 18h2v8h-2zM49 17h2v9h-2zM51 17h2v9h-2zM53 16h2v10h-2zM55 16h2v10h-2zM57 15h2v11h-2zM59 14h2v12h-2zM61 13h2v11h-2zM63 12h2v10h-2zM65 12h2v9h-2zM67 11h2v9h-2zM69 11h2v8h-2zM71 10h2v8h-2zM73 10h2v7h-2zM75 10h2v6h-2zM77 9h2v7h-2zM79 9h2v6h-2zM81 9h2v5h-2zM83 8h2v6h-2zM85 8h2v6h-2zM87 7h2v6h-2zM89 7h2v6h-2zM91 7h2v5h-2zM93 6h2v6h-2zM95 6h2v6h-2zM97 5h2v6h-2zM99 5h2v6h-2zM101 5h2v6h-2zM103 4h2v6h-2zM105 3h2v7h-2zM107 2h2v7h-2zM109 2h2v7h-2zM111 2h2v7h-2zM113 1h2v7h-2zM115 1h2v7h-2zM117 1h2v6h-2zM119 1h1v6h-1z"/>
<path fill="#d5624a" d="M5 35h2v13h-2zM9 76h2v2h-2zM11 74h2v1h-2zM13 73h2v1h-2zM15 72h2v1h-2zM17 71h2v1h-2zM19 71h2v1h-2zM21 70h2v1h-2zM23 69h2v2h-2zM25 69h2v1h-2zM27 68h2v2h-2zM29 68h2v2h-2zM31 68h2v2h-2zM33 68h2v3h-2zM35 69h2v3h-2zM37 70h2v3h-2zM39 71h2v4h-2zM41 72h2v3h-2zM43 73h2v3h-2zM45 74h2v3h-2zM47 75h2v3h-2zM49 76h2v2h-2zM51 76h2v3h-2zM53 77h2v3h-2zM55 78h2v3h-2zM57 79h2v3h-2zM59 80h2v2h-2zM61 80h2v3h-2zM63 80h2v3h-2zM65 80h2v3h-2zM67 80h2v3h-2zM69 80h2v3h-2zM71 81h2v2h-2zM73 81h2v2h-2zM75 81h2v2h-2zM77 81h2v2h-2zM79 81h2v2h-2zM81 81h2v2h-2zM83 81h2v2h-2zM85 81h2v2h-2zM87 81h2v2h-2zM89 82h2v1h-2zM91 82h2v1h-2zM93 82h2v2h-2zM95 82h2v2h-2zM97 82h2v2h-2zM99 82h2v2h-2zM101 82h2v2h-2zM103 82h2v2h-2zM105 82h2v2h-2zM107 82h2v2h-2zM109 82h2v2h-2zM111 82h2v2h-2zM113 82h2v2h-2zM115 82h2v2h-2zM117 82h2v2h-2zM119 82h1v2h-1z"/>
<path fill="#f7db7f" d="M7 35h2v13h-2zM9 55h2v2h-2zM11 55h2v1h-2zM13 53h2v1h-2zM15 52h2v1h-2zM17 50h2v2h-2zM19 49h2v1h-2zM21 48h2v1h-2zM23 47h2v2h-2zM25 47h2v1h-2zM27 46h2v1h-2zM29 46h2v1h-2zM31 45h2v1h-2zM33 45h2v1h-2zM35 45h2v1h-2zM37 44h2v1h-2zM39 44h2v1h-2zM41 44h2v1h-2zM43 43h2v2h-2zM45 42h2v2h-2zM47 41h2v3h-2zM49 41h2v3h-2zM51 40h2v3h-2zM53 39h2v3h-2zM55 38h2v3h-2zM57 37h2v3h-2zM59 37h2v3h-2zM61 36h2v3h-2zM63 36h2v3h-2zM65 36h2v2h-2zM67 36h2v2h-2zM69 35h2v2h-2zM71 35h2v2h-2zM73 35h2v2h-2zM75 35h2v1h-2zM77 35h2v1h-2zM79 34h2v2h-2zM81 34h2v2h-2zM83 34h2v1h-2zM85 34h2v1h-2zM87 34h2v1h-2zM89 33h2v2h-2zM91 33h2v2h-2zM93 33h2v1h-2zM95 33h2v1h-2zM97 32h2v2h-2zM99 32h2v2h-2zM101 32h2v1h-2zM103 31h2v2h-2zM105 30h2v2h-2zM107 30h2v1h-2zM109 29h2v2h-2zM111 28h2v2h-2zM113 27h2v2h-2zM115 26h2v2h-2zM117 25h2v2h-2zM119 24h1v2h-1z"/>
<path fill="#f3c664" d="M7 48h2v1h-2zM9 60h2v1h-2zM11 59h2v1h-2zM13 58h2v1h-2zM15 56h2v1h-2zM17 55h2v1h-2zM19 54h2v1h-2zM21 53h2v1h-2zM23 52h2v1h-2zM25 51h2v1h-2zM27 50h2v1h-2zM29 50h2v1h-2zM31 49h2v1h-2zM33 49h2v1h-2zM35 48h2v1h-2zM37 48h2v1h-2zM39 48h2v1h-2zM41 48h2v1h-2zM43 48h2v1h-2zM45 47h2v1h-2zM47 47h2v1h-2zM49 47h2v1h-2zM51 47h2v1h-2zM53 47h2v1h-2zM55 46h2v2h-2zM57 46h2v2h-2zM59 46h2v1h-2zM61 46h2v1h-2zM63 46h2v1h-2zM65 45h2v2h-2zM67 45h2v2h-2zM69 45h2v1h-2zM71 45h2v1h-2zM73 44h2v2h-2zM75 44h2v2h-2zM77 43h2v2h-2zM79 43h2v2h-2zM81 43h2v2h-2zM83 42h2v3h-2zM85 42h2v3h-2zM87 42h2v3h-2zM89 42h2v2h-2zM91 42h2v2h-2zM93 41h2v3h-2zM95 41h2v3h-2zM97 41h2v3h-2zM99 41h2v3h-2zM101 40h2v3h-2zM103 39h2v4h-2zM105 39h2v4h-2zM107 38h2v4h-2zM109 37h2v5h-2zM111 36h2v5h-2zM113 35h2v5h-2zM115 35h2v4h-2zM117 34h2v3h-2zM119 33h1v3h-1z"/>
<path fill="#f3c160" d="M7 49h2v3h-2zM9 61h2v1h-2zM11 60h2v1h-2zM13 59h2v1h-2zM15 57h2v1h-2zM17 56h2v1h-2zM19 55h2v1h-2zM21 54h2v1h-2zM23 53h2v1h-2zM25 52h2v1h-2zM27 51h2v1h-2zM29 51h2v1h-2zM31 50h2v1h-2zM33 50h2v1h-2zM35 49h2v1h-2zM37 49h2v1h-2zM39 49h2v1h-2zM41 49h2v1h-2zM43 49h2v1h-2zM45 48h2v1h-2zM47 48h2v1h-2zM49 48h2v1h-2zM51 48h2v1h-2zM53 48h2v1h-2zM55 48h2v1h-2zM57 48h2v1h-2zM59 47h2v2h-2zM61 47h2v2h-2zM63 47h2v1h-2zM65 47h2v1h-2zM67 47h2v1h-2zM69 46h2v2h-2zM71 46h2v2h-2zM73 46h2v2h-2zM75 46h2v1h-2zM77 45h2v2h-2zM79 45h2v2h-2zM81 45h2v2h-2zM83 45h2v2h-2zM85 45h2v2h-2zM87 45h2v2h-2zM89 44h2v3h-2zM91 44h2v2h-2zM93 44h2v2h-2zM95 44h2v2h-2zM97 44h2v2h-2zM99 44h2v2h-2zM101 43h2v3h-2zM103 43h2v3h-2zM105 43h2v3h-2zM107 42h2v3h-2zM109 42h2v3h-2zM111 41h2v4h-2zM113 40h2v5h-2zM115 39h2v6h-2zM117 37h2v8h-2zM119 36h1v9h-1z"/>
<path fill="#f2bc5c" d="M7 52h2v2h-2zM9 62h2v1h-2zM11 61h2v1h-2zM13 60h2v1h-2zM15 58h2v1h-2zM17 57h2v1h-2zM19 56h2v1h-2zM21 55h2v1h-2zM23 54h2v1h-2zM25 53h2v1h-2zM27 52h2v1h-2zM29 52h2v1h-2zM31 51h2v1h-2zM33 51h2v1h-2zM35 50h2v1h-2zM37 50h2v1h-2zM39 50h2v1h-2zM41 50h2v1h-2zM43 50h2v1h-2zM45 49h2v1h-2zM47 49h2v1h-2zM49 49h2v1h-2zM51 49h2v1h-2zM53 49h2v1h-2zM55 49h2v1h-2zM57 49h2v1h-2zM59 49h2v1h-2zM61 49h2v1h-2zM63 48h2v2h-2zM65 48h2v2h-2zM67 48h2v2h-2zM69 48h2v2h-2zM71 48h2v2h-2zM73 48h2v1h-2zM75 47h2v2h-2zM77 47h2v2h-2zM79 47h2v2h-2zM81 47h2v2h-2zM83 47h2v2h-2zM85 47h2v2h-2zM87 47h2v2h-2zM89 47h2v2h-2zM91 46h2v3h-2zM93 46h2v3h-2zM95 46h2v3h-2zM97 46h2v2h-2zM99 46h2v2h-2zM101 46h2v2h-2zM103 46h2v2h-2zM105 46h2v2h-2zM107 45h2v3h-2zM109 45h2v3h-2zM111 45h2v3h-2zM113 45h2v3h-2zM115 45h2v3h-2zM117 45h2v3h-2zM119 45h1v3h-1z"/>
<path fill="#f1b75a" d="M7 54h2v3h-2zM11 62h2v1h-2zM13 61h2v1h-2zM15 59h2v1h-2zM17 58h2v1h-2zM19 57h2v1h-2zM21 56h2v1h-2zM23 55h2v1h-2zM25 54h2v1h-2zM27 53h2v1h-2zM29 53h2v1h-2zM31 52h2v1h-2zM33 52h2v1h-2zM35 51h2v1h-2zM37 51h2v1h-2zM39 51h2v1h-2zM41 51h2v1h-2zM43 51h2v1h-2zM45 50h2v1h-2zM47 50h2v1h-2zM49 50h2v1h-2zM51 50h2v1h-2zM53 50h2v1h-2zM55 50h2v1h-2zM57 50h2v1h-2zM59 50h2v1h-2zM61 50h2v1h-2zM63 50h2v1h-2zM65 50h2v1h-2zM67 50h2v1h-2zM69 50h2v1h-2zM71 50h2v1h-2zM73 49h2v2h-2zM75 49h2v2h-2zM77 49h2v2h-2zM79 49h2v2h-2zM81 49h2v2h-2zM83 49h2v2h-2zM85 49h2v2h-2zM87 49h2v2h-2zM89 49h2v2h-2zM91 49h2v2h-2zM93 49h2v2h-2zM95 49h2v2h-2zM97 48h2v3h-2zM99 48h2v3h-2zM101 48h2v3h-2zM103 48h2v3h-2zM105 48h2v3h-2zM107 48h2v3h-2zM109 48h2v3h-2zM111 48h2v3h-2zM113 48h2v3h-2zM115 48h2v3h-2zM117 48h2v3h-2zM119 48h1v3h-1z"/>
<path fill="#f0b158" d="M7 57h2v2h-2zM9 63h2v1h-2zM11 63h2v1h-2zM13 62h2v1h-2zM15 60h2v1h-2zM17 59h2v1h-2zM19 58h2v1h-2zM21 57h2v1h-2zM23 56h2v1h-2zM25 55h2v1h-2zM27 54h2v1h-2zM29 54h2v1h-2zM31 53h2v1h-2zM33 53h2v1h-2zM35 52h2v1h-2zM37 52h2v1h-2zM39 52h2v1h-2zM41 52h2v1h-2zM43 52h2v1h-2zM45 51h2v2h-2zM47 51h2v2h-2zM49 51h2v2h-2zM51 51h2v2h-2zM53 51h2v2h-2zM55 51h2v2h-2zM57 51h2v2h-2zM59 51h2v2h-2zM61 51h2v2h-2zM63 51h2v2h-2zM65 51h2v2h-2zM67 51h2v2h-2zM69 51h2v2h-2zM71 51h2v2h-2zM73 51h2v2h-2zM75 51h2v2h-2zM77 51h2v2h-2zM79 51h2v3h-2zM81 51h2v3h-2zM83 51h2v3h-2zM85 51h2v3h-2zM87 51h2v3h-2zM89 51h2v3h-2zM91 51h2v3h-2zM93 51h2v3h-2zM95 51h2v3h-2zM97 51h2v3h-2zM99 51h2v3h-2zM101 51h2v3h-2zM103 51h2v3h-2zM105 51h2v3h-2zM107 51h2v3h-2zM109 51h2v3h-2zM111 51h2v4h-2zM113 51h2v4h-2zM115 51h2v4h-2zM117 51h2v4h-2zM119 51h1v4h-1z"/>
<path fill="#efac56" d="M7 59h2v3h-2zM9 64h2v1h-2zM11 64h2v1h-2zM15 61h2v1h-2zM17 60h2v1h-2zM19 59h2v1h-2zM21 58h2v1h-2zM23 57h2v1h-2zM25 56h2v1h-2zM27 55h2v1h-2zM29 55h2v1h-2zM31 54h2v1h-2zM33 54h2v1h-2zM35 53h2v2h-2zM37 53h2v2h-2zM39 53h2v1h-2zM41 53h2v1h-2zM43 53h2v1h-2zM45 53h2v1h-2zM47 53h2v1h-2zM49 53h2v1h-2zM51 53h2v1h-2zM53 53h2v2h-2zM55 53h2v2h-2zM57 53h2v2h-2zM59 53h2v2h-2zM61 53h2v2h-2zM63 53h2v2h-2zM65 53h2v2h-2zM67 53h2v2h-2zM69 53h2v3h-2zM71 53h2v3h-2zM73 53h2v3h-2zM75 53h2v3h-2zM77 53h2v3h-2zM79 54h2v3h-2zM81 54h2v3h-2zM83 54h2v3h-2zM85 54h2v3h-2zM87 54h2v3h-2zM89 54h2v3h-2zM91 54h2v3h-2zM93 54h2v3h-2zM95 54h2v4h-2zM97 54h2v4h-2zM99 54h2v4h-2zM101 54h2v4h-2zM103 54h2v4h-2zM105 54h2v5h-2zM107 54h2v5h-2zM109 54h2v5h-2zM111 55h2v5h-2zM113 55h2v5h-2zM115 55h2v5h-2zM117 55h2v5h-2zM119 55h1v5h-1z"/>
<path fill="#eea654" d="M7 62h2v2h-2zM9 65h2v1h-2zM11 65h2v1h-2zM13 63h2v1h-2zM15 62h2v1h-2zM17 61h2v1h-2zM19 60h2v1h-2zM21 59h2v1h-2zM23 58h2v1h-2zM25 57h2v1h-2zM27 56h2v1h-2zM29 56h2v1h-2zM31 55h2v1h-2zM33 55h2v1h-2zM35 55h2v1h-2zM37 55h2v1h-2zM39 54h2v2h-2zM41 54h2v2h-2zM43 54h2v2h-2zM45 54h2v2h-2zM47 54h2v2h-2zM49 54h2v2h-2zM51 54h2v2h-2zM53 55h2v1h-2zM55 55h2v1h-2zM57 55h2v2h-2zM59 55h2v2h-2zM61 55h2v2h-2zM63 55h2v2h-2zM65 55h2v3h-2zM67 55h2v3h-2zM69 56h2v2h-2zM71 56h2v2h-2zM73 56h2v3h-2zM75 56h2v3h-2zM77 56h2v3h-2zM79 57h2v3h-2zM81 57h2v3h-2zM83 57h2v3h-2zM85 57h2v3h-2zM87 57h2v3h-2zM89 57h2v3h-2zM91 57h2v4h-2zM93 57h2v4h-2zM95 58h2v3h-2zM97 58h2v3h-2zM99 58h2v3h-2zM101 58h2v3h-2zM103 58h2v4h-2zM105 59h2v3h-2zM107 59h2v3h-2zM109 59h2v3h-2zM111 60h2v2h-2zM113 60h2v2h-2zM115 60h2v2h-2zM117 60h2v3h-2zM119 60h1v3h-1z"/>
<path fill="#eda053" d="M7 64h2v3h-2zM9 66h2v1h-2zM13 64h2v1h-2zM15 63h2v1h-2zM17 62h2v1h-2zM19 61h2v1h-2zM21 60h2v1h-2zM23 59h2v1h-2zM25 58h2v1h-2zM27 57h2v1h-2zM29 57h2v1h-2zM31 56h2v1h-2zM33 56h2v1h-2zM35 56h2v1h-2zM37 56h2v1h-2zM39 56h2v1h-2zM41 56h2v1h-2zM43 56h2v1h-2zM45 56h2v1h-2zM47 56h2v1h-2zM49 56h2v1h-2zM51 56h2v2h-2zM53 56h2v2h-2zM55 56h2v2h-2zM57 57h2v2h-2zM59 57h2v2h-2zM61 57h2v2h-2zM63 57h2v3h-2zM65 58h2v2h-2zM67 58h2v2h-2zM69 58h2v2h-2zM71 58h2v3h-2zM73 59h2v2h-2zM75 59h2v2h-2zM77 59h2v3h-2zM79 60h2v2h-2zM81 60h2v2h-2zM83 60h2v2h-2zM85 60h2v2h-2zM87 60h2v3h-2zM89 60h2v3h-2zM91 61h2v2h-2zM93 61h2v2h-2zM95 61h2v2h-2zM97 61h2v2h-2zM99 61h2v3h-2zM101 61h2v3h-2zM103 62h2v2h-2zM105 62h2v2h-2zM107 62h2v2h-2zM109 62h2v2h-2zM111 62h2v3h-2zM113 62h2v3h-2zM115 62h2v3h-2zM117 63h2v2h-2zM119 63h1v2h-1z"/>
<path fill="#ec9952" d="M7 67h2v1h-2zM9 67h2v1h-2zM11 66h2v1h-2zM13 65h2v1h-2zM15 64h2v1h-2zM17 63h2v1h-2zM19 62h2v1h-2zM21 61h2v1h-2zM25 59h2v1h-2zM27 58h2v1h-2zM29 58h2v1h-2zM31 57h2v1h-2zM33 57h2v1h-2zM35 57h2v2h-2zM37 57h2v2h-2zM39 57h2v2h-2zM41 57h2v2h-2zM43 57h2v2h-2zM45 57h2v2h-2zM47 57h2v2h-2zM49 57h2v2h-2zM51 58h2v1h-2zM53 58h2v2h-2zM55 58h2v2h-2zM57 59h2v1h-2zM59 59h2v2h-2zM61 59h2v2h-2zM63 60h2v2h-2zM65 60h2v2h-2zM67 60h2v2h-2zM69 60h2v3h-2zM71 61h2v2h-2zM73 61h2v2h-2zM75 61h2v3h-2zM77 62h2v2h-2zM79 62h2v2h-2zM81 62h2v3h-2zM83 62h2v3h-2zM85 62h2v3h-2zM87 63h2v2h-2zM89 63h2v2h-2zM91 63h2v2h-2zM93 63h2v3h-2zM95 63h2v3h-2zM97 63h2v3h-2zM99 64h2v2h-2zM101 64h2v2h-2zM103 64h2v2h-2zM105 64h2v2h-2zM107 64h2v3h-2zM109 64h2v3h-2zM111 65h2v2h-2zM113 65h2v2h-2zM115 65h2v2h-2zM117 65h2v2h-2zM119 65h1v3h-1z"/>
<path fill="#e5804e" d="M7 92h2v8h-2zM9 71h2v1h-2zM11 70h2v1h-2zM13 69h2v1h-2zM17 66h2v1h-2zM19 65h2v1h-2zM21 64h2v1h-2zM23 63h2v2h-2zM25 63h2v1h-2zM27 63h2v1h-2zM29 62h2v1h-2zM31 62h2v1h-2zM33 62h2v1h-2zM35 62h2v2h-2zM37 63h2v1h-2zM39 63h2v1h-2zM41 63h2v1h-2zM43 63h2v2h-2zM45 63h2v2h-2zM47 64h2v1h-2zM49 64h2v1h-2zM51 64h2v2h-2zM53 65h2v2h-2zM55 66h2v1h-2zM57 66h2v2h-2zM59 67h2v2h-2zM61 67h2v3h-2zM63 68h2v2h-2zM65 68h2v2h-2zM67 69h2v2h-2zM69 69h2v2h-2zM71 70h2v2h-2zM73 70h2v2h-2zM75 70h2v2h-2zM77 71h2v2h-2zM79 71h2v2h-2zM81 71h2v2h-2zM83 71h2v2h-2zM85 71h2v2h-2zM87 72h2v2h-2zM89 72h2v2h-2zM91 72h2v2h-2zM93 72h2v2h-2zM95 72h2v2h-2zM97 72h2v2h-2zM99 72h2v2h-2zM101 72h2v2h-2zM103 73h2v2h-2zM105 73h2v2h-2zM107 73h2v2h-2zM109 73h2v2h-2zM111 73h2v2h-2zM113 73h2v2h-2zM115 73h2v2h-2zM117 74h2v2h-2zM119 74h1v2h-1z"/>
<path fill="#fefbc5" d="M9 16h2v6h-2zM11 16h2v6h-2zM13 16h2v6h-2zM15 14h2v8h-2zM17 14h2v8h-2zM19 14h2v8h-2zM21 12h2v10h-2zM23 10h2v12h-2zM25 10h2v12h-2zM27 10h2v11h-2zM29 10h2v11h-2zM31 10h2v11h-2zM33 10h2v11h-2zM35 10h2v11h-2zM37 10h2v11h-2zM39 10h2v11h-2zM41 10h2v10h-2zM43 10h2v9h-2zM45 10h2v8h-2zM47 10h2v8h-2zM49 10h2v7h-2zM51 8h2v9h-2zM53 7h2v9h-2zM55 5h2v11h-2zM57 1h2v14h-2zM59 1h2v13h-2zM61 1h2v12h-2zM63 1h2v11h-2zM65 1h2v11h-2zM67 1h2v10h-2zM69 1h2v10h-2zM71 1h2v9h-2zM73 1h2v9h-2zM75 1h2v9h-2zM77 1h2v8h-2zM79 1h2v8h-2zM81 1h2v8h-2zM83 1h2v7h-2zM85 1h2v7h-2zM87 1h2v6h-2zM89 1h2v6h-2zM91 1h2v6h-2zM93 1h2v5h-2zM95 1h2v5h-2zM97 1h2v4h-2zM99 1h2v4h-2zM101 1h2v4h-2zM103 1h2v3h-2zM105 1h2v2h-2zM107 1h2v1h-2zM109 1h2v1h-2zM111 1h2v1h-2z"/>
<path fill="#fef7bb" d="M9 40h2v5h-2zM11 39h2v5h-2zM13 37h2v6h-2zM15 36h2v5h-2zM17 34h2v5h-2zM19 32h2v6h-2zM21 31h2v5h-2zM23 30h2v4h-2zM25 29h2v4h-2zM27 29h2v2h-2zM29 28h2v3h-2zM31 27h2v3h-2zM33 27h2v3h-2zM35 27h2v3h-2zM37 27h2v3h-2zM39 27h2v3h-2zM41 27h2v3h-2zM43 27h2v2h-2zM45 27h2v2h-2zM47 26h2v3h-2zM49 26h2v3h-2zM51 26h2v3h-2zM53 26h2v3h-2zM55 26h2v3h-2zM57 26h2v3h-2zM59 26h2v3h-2zM61 24h2v5h-2zM63 22h2v7h-2zM65 21h2v7h-2zM67 20h2v8h-2zM69 19h2v8h-2zM71 18h2v7h-2zM73 17h2v7h-2zM75 16h2v7h-2zM77 16h2v6h-2zM79 15h2v6h-2zM81 14h2v6h-2zM83 14h2v5h-2zM85 14h2v5h-2zM87 13h2v5h-2zM89 13h2v5h-2zM91 12h2v5h-2zM93 12h2v5h-2zM95 12h2v4h-2zM97 11h2v5h-2zM99 11h2v4h-2zM101 11h2v4h-2zM103 10h2v4h-2zM105 10h2v4h-2zM107 9h2v5h-2zM109 9h2v4h-2zM111 9h2v4h-2zM113 8h2v5h-2zM115 8h2v5h-2zM117 7h2v5h-2zM119 7h1v5h-1z"/>
<path fill="#fdf4b3" d="M9 45h2v2h-2zM11 44h2v2h-2zM13 43h2v2h-2zM15 41h2v3h-2zM17 39h2v4h-2zM19 38h2v4h-2zM21 36h2v4h-2zM23 34h2v4h-2zM25 33h2v3h-2zM27 31h2v4h-2zM29 31h2v2h-2zM31 30h2v2h-2zM33 30h2v2h-2zM35 30h2v2h-2zM37 30h2v2h-2zM39 30h2v2h-2zM41 30h2v1h-2zM43 29h2v2h-2zM45 29h2v2h-2zM47 29h2v2h-2zM49 29h2v2h-2zM51 29h2v2h-2zM53 29h2v2h-2zM55 29h2v1h-2zM57 29h2v1h-2zM59 29h2v1h-2zM61 29h2v1h-2zM63 29h2v1h-2zM65 28h2v2h-2zM67 28h2v1h-2zM69 27h2v2h-2zM71 25h2v4h-2zM73 24h2v5h-2zM75 23h2v5h-2zM77 22h2v6h-2zM79 21h2v6h-2zM81 20h2v6h-2zM83 19h2v6h-2zM85 19h2v5h-2zM87 18h2v5h-2zM89 18h2v4h-2zM91 17h2v5h-2zM93 17h2v4h-2zM95 16h2v4h-2zM97 16h2v4h-2zM99 15h2v4h-2zM101 15h2v3h-2zM103 14h2v4h-2zM105 14h2v3h-2zM107 14h2v2h-2zM109 13h2v3h-2zM111 13h2v3h-2zM113 13h2v2h-2zM115 13h2v2h-2zM117 12h2v3h-2zM119 12h1v2h-1z"/>
<path fill="#fdf1ab" d="M9 47h2v2h-2zM11 46h2v2h-2zM13 45h2v2h-2zM15 44h2v2h-2zM17 43h2v2h-2zM19 42h2v2h-2zM21 40h2v4h-2zM23 38h2v4h-2zM25 36h2v4h-2zM27 35h2v3h-2zM29 33h2v3h-2zM31 32h2v3h-2zM33 32h2v2h-2zM35 32h2v2h-2zM37 32h2v2h-2zM39 32h2v2h-2zM41 31h2v2h-2zM43 31h2v2h-2zM45 31h2v2h-2zM47 31h2v1h-2zM49 31h2v1h-2zM51 31h2v1h-2zM53 31h2v1h-2zM55 30h2v2h-2zM57 30h2v2h-2zM59 30h2v1h-2zM61 30h2v1h-2zM63 30h2v1h-2zM65 30h2v1h-2zM67 29h2v2h-2zM69 29h2v1h-2zM71 29h2v1h-2zM73 29h2v1h-2zM75 28h2v2h-2zM77 28h2v1h-2zM79 27h2v2h-2zM81 26h2v3h-2zM83 25h2v4h-2zM85 24h2v4h-2zM87 23h2v5h-2zM89 22h2v5h-2zM91 22h2v4h-2zM93 21h2v4h-2zM95 20h2v5h-2zM97 20h2v4h-2zM99 19h2v4h-2zM101 18h2v4h-2zM103 18h2v3h-2zM105 17h2v3h-2zM107 16h2v3h-2zM109 16h2v3h-2zM111 16h2v2h-2zM113 15h2v3h-2zM115 15h2v2h-2zM117 15h2v2h-2zM119 14h1v2h-1z"/>
<path fill="#fceea3" d="M9 49h2v3h-2zM11 48h2v2h-2zM13 47h2v2h-2zM15 46h2v1h-2zM17 45h2v1h-2zM19 44h2v2h-2zM21 44h2v1h-2zM23 42h2v3h-2zM25 40h2v4h-2zM27 38h2v4h-2zM29 36h2v4h-2zM31 35h2v3h-2zM33 34h2v3h-2zM35 34h2v3h-2zM37 34h2v2h-2zM39 34h2v2h-2zM41 33h2v2h-2zM43 33h2v2h-2zM45 33h2v1h-2zM47 32h2v2h-2zM49 32h2v2h-2zM51 32h2v1h-2zM53 32h2v1h-2zM55 32h2v1h-2zM57 32h2v1h-2zM59 31h2v2h-2zM61 31h2v1h-2zM63 31h2v1h-2zM65 31h2v1h-2zM67 31h2v1h-2zM69 30h2v2h-2zM71 30h2v1h-2zM73 30h2v1h-2zM75 30h2v1h-2zM77 29h2v2h-2zM79 29h2v1h-2zM81 29h2v1h-2zM83 29h2v1h-2zM85 28h2v2h-2zM87 28h2v1h-2zM89 27h2v2h-2zM91 26h2v3h-2zM93 25h2v4h-2zM95 25h2v3h-2zM97 24h2v4h-2zM99 23h2v4h-2zM101 22h2v4h-2zM103 21h2v3h-2zM105 20h2v3h-2zM107 19h2v3h-2zM109 19h2v2h-2zM111 18h2v3h-2zM113 18h2v2h-2zM115 17h2v2h-2zM117 17h2v2h-2zM119 16h1v2h-1z"/>
<path fill="#fbe99a" d="M9 52h2v1h-2zM11 50h2v2h-2zM13 49h2v1h-2zM15 47h2v2h-2zM17 46h2v2h-2zM19 46h2v1h-2zM21 45h2v1h-2zM23 45h2v1h-2zM25 44h2v1h-2zM27 42h2v2h-2zM29 40h2v4h-2zM31 38h2v4h-2zM33 37h2v4h-2zM35 37h2v3h-2zM37 36h2v3h-2zM39 36h2v3h-2zM41 35h2v3h-2zM43 35h2v2h-2zM45 34h2v2h-2zM47 34h2v2h-2zM49 34h2v1h-2zM51 33h2v2h-2zM53 33h2v2h-2zM55 33h2v1h-2zM57 33h2v1h-2zM59 33h2v1h-2zM61 32h2v2h-2zM63 32h2v1h-2zM65 32h2v1h-2zM67 32h2v1h-2zM69 32h2v1h-2zM71 31h2v2h-2zM73 31h2v1h-2zM75 31h2v1h-2zM77 31h2v1h-2zM79 30h2v2h-2zM81 30h2v2h-2zM83 30h2v1h-2zM85 30h2v1h-2zM87 29h2v2h-2zM89 29h2v2h-2zM91 29h2v1h-2zM93 29h2v1h-2zM95 28h2v2h-2zM97 28h2v2h-2zM99 27h2v2h-2zM101 26h2v3h-2zM103 24h2v4h-2zM105 23h2v3h-2zM107 22h2v3h-2zM109 21h2v3h-2zM111 21h2v2h-2zM113 20h2v2h-2zM115 19h2v3h-2zM117 19h2v2h-2zM119 18h1v2h-1z"/>
<path fill="#fae491" d="M9 53h2v1h-2zM11 52h2v1h-2zM13 50h2v2h-2zM15 49h2v1h-2zM17 48h2v1h-2zM19 47h2v1h-2zM21 46h2v1h-2zM23 46h2v1h-2zM25 45h2v1h-2zM27 44h2v1h-2zM29 44h2v1h-2zM31 42h2v2h-2zM33 41h2v3h-2zM35 40h2v3h-2zM37 39h2v3h-2zM39 39h2v3h-2zM41 38h2v3h-2zM43 37h2v3h-2zM45 36h2v3h-2zM47 36h2v2h-2zM49 35h2v3h-2zM51 35h2v2h-2zM53 35h2v1h-2zM55 34h2v2h-2zM57 34h2v1h-2zM59 34h2v1h-2zM61 34h2v1h-2zM63 33h2v2h-2zM65 33h2v1h-2zM67 33h2v1h-2zM69 33h2v1h-2zM71 33h2v1h-2zM73 32h2v2h-2zM75 32h2v2h-2zM77 32h2v1h-2zM79 32h2v1h-2zM81 32h2v1h-2zM83 31h2v2h-2zM85 31h2v1h-2zM87 31h2v1h-2zM89 31h2v1h-2zM91 30h2v2h-2zM93 30h2v2h-2zM95 30h2v1h-2zM97 30h2v1h-2zM99 29h2v2h-2zM101 29h2v1h-2zM103 28h2v1h-2zM105 26h2v3h-2zM107 25h2v3h-2zM109 24h2v3h-2zM111 23h2v3h-2zM113 22h2v3h-2zM115 22h2v2h-2zM117 21h2v2h-2zM119 20h1v2h-1z"/>
<path fill="#f8e088" d="M9 54h2v1h-2zM11 53h2v2h-2zM13 52h2v1h-2zM15 50h2v2h-2zM17 49h2v1h-2zM19 48h2v1h-2zM21 47h2v1h-2zM25 46h2v1h-2zM27 45h2v1h-2zM29 45h2v1h-2zM31 44h2v1h-2zM33 44h2v1h-2zM35 43h2v2h-2zM37 42h2v2h-2zM39 42h2v2h-2zM41 41h2v3h-2zM43 40h2v3h-2zM45 39h2v3h-2zM47 38h2v3h-2zM49 38h2v3h-2zM51 37h2v3h-2zM53 36h2v3h-2zM55 36h2v2h-2zM57 35h2v2h-2zM59 35h2v2h-2zM61 35h2v1h-2zM63 35h2v1h-2zM65 34h2v2h-2zM67 34h2v2h-2zM69 34h2v1h-2zM71 34h2v1h-2zM73 34h2v1h-2zM75 34h2v1h-2zM77 33h2v2h-2zM79 33h2v1h-2zM81 33h2v1h-2zM83 33h2v1h-2zM85 32h2v2h-2zM87 32h2v2h-2zM89 32h2v1h-2zM91 32h2v1h-2zM93 32h2v1h-2zM95 31h2v2h-2zM97 31h2v1h-2zM99 31h2v1h-2zM101 30h2v2h-2zM103 29h2v2h-2zM105 29h2v1h-2zM107 28h2v2h-2zM109 27h2v2h-2zM111 26h2v2h-2zM113 25h2v2h-2zM115 24h2v2h-2zM117 23h2v2h-2zM119 22h1v2h-1z"/>
<path fill="#f6d677" d="M9 57h2v1h-2zM11 56h2v1h-2zM13 54h2v1h-2zM15 53h2v1h-2zM17 52h2v1h-2zM19 50h2v2h-2zM21 49h2v1h-2zM23 49h2v1h-2zM25 48h2v1h-2zM27 47h2v1h-2zM29 47h2v1h-2zM31 46h2v1h-2zM33 46h2v1h-2zM35 46h2v1h-2zM37 45h2v1h-2zM39 45h2v1h-2zM41 45h2v1h-2zM43 45h2v1h-2zM45 44h2v1h-2zM47 44h2v1h-2zM49 44h2v1h-2zM51 43h2v2h-2zM53 42h2v2h-2zM55 41h2v3h-2zM57 40h2v3h-2zM59 40h2v2h-2zM61 39h2v3h-2zM63 39h2v2h-2zM65 38h2v3h-2zM67 38h2v2h-2zM69 37h2v3h-2zM71 37h2v3h-2zM73 37h2v2h-2zM75 36h2v3h-2zM77 36h2v2h-2zM79 36h2v2h-2zM81 36h2v2h-2zM83 35h2v2h-2zM85 35h2v2h-2zM87 35h2v2h-2zM89 35h2v1h-2zM91 35h2v1h-2zM93 34h2v2h-2zM95 34h2v2h-2zM97 34h2v1h-2zM99 34h2v1h-2zM101 33h2v2h-2zM103 33h2v1h-2zM105 32h2v2h-2zM107 31h2v2h-2zM109 31h2v2h-2zM111 30h2v2h-2zM113 29h2v2h-2zM115 28h2v2h-2zM117 27h2v2h-2zM119 26h1v2h-1z"/>
<path fill="#f5d06f" d="M9 58h2v1h-2zM11 57h2v1h-2zM13 55h2v2h-2zM15 54h2v1h-2zM17 53h2v1h-2zM19 52h2v1h-2zM21 50h2v2h-2zM23 50h2v1h-2zM25 49h2v1h-2zM27 48h2v1h-2zM29 48h2v1h-2zM31 47h2v1h-2zM33 47h2v1h-2zM35 47h2v1h-2zM37 46h2v1h-2zM39 46h2v1h-2zM41 46h2v1h-2zM43 46h2v1h-2zM45 45h2v1h-2zM47 45h2v1h-2zM49 45h2v1h-2zM51 45h2v1h-2zM53 44h2v2h-2zM55 44h2v1h-2zM57 43h2v2h-2zM59 42h2v3h-2zM61 42h2v2h-2zM63 41h2v3h-2zM65 41h2v3h-2zM67 40h2v3h-2zM69 40h2v3h-2zM71 40h2v2h-2zM73 39h2v3h-2zM75 39h2v2h-2zM77 38h2v3h-2zM79 38h2v2h-2zM81 38h2v2h-2zM83 37h2v3h-2zM85 37h2v3h-2zM87 37h2v2h-2zM89 36h2v3h-2zM91 36h2v3h-2zM93 36h2v3h-2zM95 36h2v2h-2zM97 35h2v3h-2zM99 35h2v3h-2zM101 35h2v2h-2zM103 34h2v2h-2zM105 34h2v1h-2zM107 33h2v2h-2zM109 33h2v1h-2zM111 32h2v2h-2zM113 31h2v2h-2zM115 30h2v3h-2zM117 29h2v3h-2zM119 28h1v3h-1z"/>
<path fill="#f4cb68" d="M9 59h2v1h-2zM11 58h2v1h-2zM13 57h2v1h-2zM15 55h2v1h-2zM17 54h2v1h-2zM19 53h2v1h-2zM21 52h2v1h-2zM23 51h2v1h-2zM25 50h2v1h-2zM27 49h2v1h-2zM29 49h2v1h-2zM31 48h2v1h-2zM33 48h2v1h-2zM37 47h2v1h-2zM39 47h2v1h-2zM41 47h2v1h-2zM43 47h2v1h-2zM45 46h2v1h-2zM47 46h2v1h-2zM49 46h2v1h-2zM51 46h2v1h-2zM53 46h2v1h-2zM55 45h2v1h-2zM57 45h2v1h-2zM59 45h2v1h-2zM61 44h2v2h-2zM63 44h2v2h-2zM65 44h2v1h-2zM67 43h2v2h-2zM69 43h2v2h-2zM71 42h2v3h-2zM73 42h2v2h-2zM75 41h2v3h-2zM77 41h2v2h-2zM79 40h2v3h-2zM81 40h2v3h-2zM83 40h2v2h-2zM85 40h2v2h-2zM87 39h2v3h-2zM89 39h2v3h-2zM91 39h2v3h-2zM93 39h2v2h-2zM95 38h2v3h-2zM97 38h2v3h-2zM99 38h2v3h-2zM101 37h2v3h-2zM103 36h2v3h-2zM105 35h2v4h-2zM107 35h2v3h-2zM109 34h2v3h-2zM111 34h2v2h-2zM113 33h2v2h-2zM115 33h2v2h-2zM117 32h2v2h-2zM119 31h1v2h-1z"/>
<path fill="#ea9351" d="M9 68h2v1h-2zM11 67h2v1h-2zM13 66h2v1h-2zM15 65h2v1h-2zM19 63h2v1h-2zM21 62h2v1h-2zM23 60h2v1h-2zM25 60h2v1h-2zM27 59h2v2h-2zM29 59h2v1h-2zM31 58h2v1h-2zM33 58h2v2h-2zM35 59h2v1h-2zM37 59h2v1h-2zM39 59h2v1h-2zM41 59h2v1h-2zM43 59h2v1h-2zM45 59h2v1h-2zM47 59h2v1h-2zM49 59h2v1h-2zM51 59h2v2h-2zM53 60h2v1h-2zM55 60h2v2h-2zM57 60h2v2h-2zM59 61h2v2h-2zM61 61h2v2h-2zM63 62h2v2h-2zM65 62h2v2h-2zM67 62h2v2h-2zM69 63h2v2h-2zM71 63h2v2h-2zM73 63h2v3h-2zM75 64h2v2h-2zM77 64h2v2h-2zM79 64h2v3h-2zM81 65h2v2h-2zM83 65h2v2h-2zM85 65h2v2h-2zM87 65h2v2h-2zM89 65h2v3h-2zM91 65h2v3h-2zM93 66h2v2h-2zM95 66h2v2h-2zM97 66h2v2h-2zM99 66h2v2h-2zM101 66h2v2h-2zM103 66h2v3h-2zM105 66h2v3h-2zM107 67h2v2h-2zM109 67h2v2h-2zM111 67h2v2h-2zM113 67h2v2h-2zM115 67h2v2h-2zM117 67h2v3h-2zM119 68h1v2h-1z"/>
<path fill="#e37a4d" d="M9 72h2v1h-2zM11 71h2v1h-2zM13 70h2v1h-2zM15 68h2v1h-2zM17 67h2v1h-2zM19 66h2v1h-2zM21 65h2v1h-2zM25 64h2v1h-2zM27 64h2v1h-2zM29 63h2v2h-2zM31 63h2v1h-2zM33 63h2v2h-2zM35 64h2v1h-2zM37 64h2v1h-2zM39 64h2v2h-2zM41 64h2v2h-2zM43 65h2v1h-2zM45 65h2v1h-2zM47 65h2v2h-2zM49 65h2v2h-2zM51 66h2v2h-2zM53 67h2v2h-2zM55 67h2v3h-2zM57 68h2v3h-2zM59 69h2v3h-2zM61 70h2v2h-2zM63 70h2v2h-2zM65 70h2v3h-2zM67 71h2v2h-2zM69 71h2v2h-2zM71 72h2v2h-2zM73 72h2v2h-2zM75 72h2v2h-2zM77 73h2v2h-2zM79 73h2v2h-2zM81 73h2v2h-2zM83 73h2v2h-2zM85 73h2v2h-2zM87 74h2v2h-2zM89 74h2v2h-2zM91 74h2v2h-2zM93 74h2v2h-2zM95 74h2v2h-2zM97 74h2v2h-2zM99 74h2v2h-2zM101 74h2v2h-2zM103 75h2v2h-2zM105 75h2v2h-2zM107 75h2v2h-2zM109 75h2v2h-2zM111 75h2v2h-2zM113 75h2v2h-2zM115 75h2v2h-2zM117 76h2v2h-2zM119 76h1v2h-1z"/>
<path fill="#e0734d" d="M9 73h2v1h-2zM15 69h2v1h-2zM17 68h2v1h-2zM19 67h2v1h-2zM21 66h2v1h-2zM23 65h2v1h-2zM25 65h2v1h-2zM27 65h2v1h-2zM29 65h2v1h-2zM31 64h2v1h-2zM33 65h2v1h-2zM35 65h2v1h-2zM37 65h2v1h-2zM39 66h2v1h-2zM41 66h2v1h-2zM43 66h2v2h-2zM45 66h2v2h-2zM47 67h2v2h-2zM49 67h2v3h-2zM51 68h2v3h-2zM53 69h2v3h-2zM55 70h2v2h-2zM57 71h2v2h-2zM59 72h2v2h-2zM61 72h2v2h-2zM63 72h2v3h-2zM65 73h2v2h-2zM67 73h2v2h-2zM69 73h2v3h-2zM71 74h2v2h-2zM73 74h2v2h-2zM75 74h2v2h-2zM77 75h2v2h-2zM79 75h2v2h-2zM81 75h2v2h-2zM83 75h2v2h-2zM85 75h2v2h-2zM87 76h2v2h-2zM89 76h2v2h-2zM91 76h2v2h-2zM93 76h2v2h-2zM95 76h2v2h-2zM97 76h2v2h-2zM99 76h2v2h-2zM101 76h2v2h-2zM103 77h2v2h-2zM105 77h2v2h-2zM107 77h2v2h-2zM109 77h2v2h-2zM111 77h2v2h-2zM113 77h2v2h-2zM115 77h2v2h-2zM117 78h2v2h-2zM119 78h1v2h-1z"/>
<path fill="#da674b" d="M9 75h2v1h-2zM11 73h2v1h-2zM13 72h2v1h-2zM15 71h2v1h-2zM17 70h2v1h-2zM19 69h2v2h-2zM21 69h2v1h-2zM23 68h2v1h-2zM25 67h2v2h-2zM27 67h2v1h-2zM29 67h2v1h-2zM31 67h2v1h-2zM33 67h2v1h-2zM35 67h2v2h-2zM37 68h2v2h-2zM39 68h2v3h-2zM41 69h2v3h-2zM43 70h2v3h-2zM45 71h2v3h-2zM47 72h2v3h-2zM49 73h2v3h-2zM51 73h2v3h-2zM53 74h2v3h-2zM55 75h2v3h-2zM57 76h2v3h-2zM59 76h2v4h-2zM61 77h2v3h-2zM63 77h2v3h-2zM65 77h2v3h-2zM67 78h2v2h-2zM69 78h2v2h-2zM71 78h2v3h-2zM73 78h2v3h-2zM75 79h2v2h-2zM77 79h2v2h-2zM79 79h2v2h-2zM81 79h2v2h-2zM83 79h2v2h-2zM85 79h2v2h-2zM87 80h2v1h-2zM89 80h2v2h-2zM91 80h2v2h-2zM93 80h2v2h-2zM95 80h2v2h-2zM97 80h2v2h-2zM99 80h2v2h-2zM101 80h2v2h-2zM103 80h2v2h-2zM105 81h2v1h-2zM107 81h2v1h-2zM109 81h2v1h-2zM111 81h2v1h-2zM113 81h2v1h-2zM115 81h2v1h-2zM117 81h2v1h-2zM119 81h1v1h-1z"/>
<path fill="#d05c4a" d="M9 78h2v5h-2zM11 75h2v1h-2zM13 74h2v1h-2zM15 73h2v1h-2zM17 72h2v1h-2zM19 72h2v1h-2zM21 71h2v2h-2zM23 71h2v1h-2zM25 70h2v2h-2zM27 70h2v2h-2zM29 70h2v2h-2zM31 70h2v2h-2zM33 71h2v2h-2zM35 72h2v3h-2zM37 73h2v3h-2zM39 75h2v2h-2zM41 75h2v3h-2zM43 76h2v2h-2zM45 77h2v2h-2zM47 78h2v2h-2zM49 78h2v4h-2zM51 79h2v4h-2zM53 80h2v4h-2zM55 81h2v3h-2zM57 82h2v3h-2zM59 82h2v4h-2zM61 83h2v2h-2zM63 83h2v2h-2zM65 83h2v2h-2zM67 83h2v2h-2zM69 83h2v2h-2zM71 83h2v2h-2zM73 83h2v2h-2zM75 83h2v2h-2zM77 83h2v2h-2zM79 83h2v2h-2zM81 83h2v2h-2zM83 83h2v2h-2zM85 83h2v2h-2zM87 83h2v2h-2zM89 83h2v2h-2zM91 83h2v2h-2zM93 84h2v1h-2zM95 84h2v1h-2zM97 84h2v1h-2zM99 84h2v1h-2zM101 84h2v1h-2zM103 84h2v1h-2zM105 84h2v1h-2zM107 84h2v1h-2zM109 84h2v1h-2zM111 84h2v1h-2zM113 84h2v1h-2zM115 84h2v1h-2zM117 84h2v1h-2zM119 84h1v1h-1z"/>
<path fill="#cb5748" d="M9 83h2v8h-2zM11 76h2v2h-2zM13 75h2v1h-2zM15 74h2v1h-2zM17 73h2v1h-2zM19 73h2v1h-2zM21 73h2v1h-2zM23 72h2v2h-2zM25 72h2v2h-2zM27 72h2v2h-2zM29 72h2v3h-2zM31 72h2v3h-2zM33 73h2v3h-2zM35 75h2v2h-2zM37 76h2v2h-2zM39 77h2v2h-2zM41 78h2v2h-2zM43 78h2v3h-2zM45 79h2v4h-2zM47 80h2v5h-2zM49 82h2v4h-2zM51 83h2v4h-2zM53 84h2v3h-2zM55 84h2v4h-2zM57 85h2v3h-2zM59 86h2v3h-2zM61 85h2v3h-2zM63 85h2v3h-2zM65 85h2v3h-2zM67 85h2v3h-2zM69 85h2v3h-2zM71 85h2v2h-2zM73 85h2v2h-2zM75 85h2v2h-2zM77 85h2v2h-2zM79 85h2v2h-2zM81 85h2v2h-2zM83 85h2v2h-2zM85 85h2v2h-2zM87 85h2v2h-2zM89 85h2v2h-2zM91 85h2v2h-2zM93 85h2v2h-2zM95 85h2v2h-2zM97 85h2v2h-2zM99 85h2v2h-2zM101 85h2v2h-2zM103 85h2v2h-2zM105 85h2v2h-2zM107 85h2v2h-2zM109 85h2v2h-2zM111 85h2v2h-2zM113 85h2v2h-2zM115 85h2v2h-2zM117 85h2v1h-2zM119 85h1v1h-1z"/>
<path fill="#c55347" d="M9 91h2v9h-2zM11 78h2v5h-2zM13 76h2v3h-2zM15 75h2v1h-2zM17 74h2v1h-2zM19 74h2v1h-2zM21 74h2v1h-2zM23 74h2v2h-2zM25 74h2v2h-2zM27 74h2v3h-2zM29 75h2v2h-2zM31 75h2v3h-2zM33 76h2v3h-2zM35 77h2v3h-2zM37 78h2v3h-2zM39 79h2v4h-2zM41 80h2v5h-2zM43 81h2v5h-2zM45 83h2v5h-2zM47 85h2v6h-2zM49 86h2v6h-2zM51 87h2v6h-2zM53 87h2v6h-2zM55 88h2v5h-2zM57 88h2v5h-2zM59 89h2v4h-2zM61 88h2v5h-2zM63 88h2v5h-2zM65 88h2v4h-2zM67 88h2v4h-2zM69 88h2v4h-2zM71 87h2v4h-2zM73 87h2v4h-2zM75 87h2v4h-2zM77 87h2v4h-2zM79 87h2v3h-2zM81 87h2v3h-2zM83 87h2v3h-2zM85 87h2v3h-2zM87 87h2v3h-2zM89 87h2v3h-2zM91 87h2v3h-2zM93 87h2v3h-2zM95 87h2v3h-2zM97 87h2v3h-2zM99 87h2v3h-2zM101 87h2v3h-2zM103 87h2v3h-2zM105 87h2v3h-2zM107 87h2v2h-2zM109 87h2v2h-2zM111 87h2v2h-2zM113 87h2v1h-2zM115 87h2v1h-2zM117 86h2v2h-2zM119 86h1v2h-1z"/>
<path fill="#be5046" d="M11 83h2v6h-2zM13 79h2v4h-2zM15 76h2v3h-2zM17 75h2v1h-2zM19 75h2v2h-2zM21 75h2v3h-2zM23 76h2v2h-2zM25 76h2v3h-2zM27 77h2v2h-2zM29 77h2v3h-2zM31 78h2v3h-2zM33 79h2v4h-2zM35 80h2v5h-2zM37 81h2v6h-2zM39 83h2v17h-2zM41 85h2v15h-2zM43 86h2v14h-2zM45 88h2v12h-2zM47 91h2v9h-2zM49 92h2v8h-2zM51 93h2v7h-2zM53 93h2v7h-2zM55 93h2v7h-2zM57 93h2v7h-2zM59 93h2v7h-2zM61 93h2v7h-2zM63 93h2v7h-2zM65 92h2v8h-2zM67 92h2v8h-2zM69 92h2v8h-2zM71 91h2v9h-2zM73 91h2v9h-2zM75 91h2v9h-2zM77 91h2v9h-2zM79 90h2v10h-2zM81 90h2v10h-2zM83 90h2v10h-2zM85 90h2v10h-2zM87 90h2v10h-2zM89 90h2v10h-2zM91 90h2v10h-2zM93 90h2v10h-2zM95 90h2v10h-2zM97 90h2v10h-2zM99 90h2v10h-2zM101 90h2v10h-2zM103 90h2v10h-2zM105 90h2v10h-2zM107 89h2v11h-2zM109 89h2v11h-2zM111 89h2v11h-2zM113 88h2v12h-2zM115 88h2v12h-2zM117 88h2v12h-2zM119 88h1v12h-1z"/>
<path fill="#b24a42" d="M13 89h2v11h-2zM15 83h2v5h-2zM17 80h2v3h-2zM19 80h2v4h-2zM21 81h2v4h-2zM23 82h2v4h-2zM23 99h2v1h-2zM25 83h2v4h-2zM25 95h2v5h-2zM27 84h2v16h-2zM29 85h2v13h-2zM31 87h2v8h-2z"/>
<path fill="#ac4840" d="M15 88h2v12h-2zM17 83h2v4h-2zM19 84h2v5h-2zM19 97h2v3h-2zM21 85h2v15h-2zM23 86h2v13h-2zM25 87h2v8h-2z"/>
<path fill="#a6463f" d="M17 87h2v13h-2zM19 89h2v8h-2z"/>
<path fill="#fffdc9" d="M23 8h2v2h-2zM25 8h2v2h-2zM27 6h2v4h-2zM29 3h2v7h-2zM31 2h2v8h-2zM33 1h2v9h-2zM35 1h2v9h-2zM37 1h2v9h-2zM39 1h2v9h-2zM41 1h2v9h-2zM43 1h2v9h-2zM45 1h2v9h-2zM47 1h2v9h-2zM49 1h2v9h-2zM51 1h2v7h-2zM53 1h2v6h-2zM55 1h2v4h-2z"/>
</g>
<g clip-path="url(#cpc)" fill="none" stroke="#a4a4a4" stroke-width="4.4" stroke-dasharray="17 8.2" stroke-dashoffset="8.5">
<polyline points="836.5,896.7 836.6,895.6 836.7,893.5 837.0,890.6 837.2,887.1 837.6,883.3 837.9,879.1 838.3,874.7 838.7,870.0 839.2,865.2 839.7,860.3 840.2,855.3 840.8,850.3 841.4,845.2 842.0,840.2 842.6,835.2 843.3,830.2 844.0,825.2 844.7,820.3 845.5,815.4 846.2,810.7 847.0,805.9 847.8,801.3 848.7,796.7 849.5,792.2 850.4,787.7 851.3,783.4 852.2,779.1 853.2,774.8 854.1,770.7 855.1,766.6 856.1,762.6 857.2,758.6 858.2,754.8 859.3,751.0 860.3,747.2 861.4,743.5 862.6,739.9 863.7,736.4 864.8,732.9 866.0,729.4 867.2,726.0 868.4,722.7 869.6,719.4 870.9,716.2 872.1,713.0 873.4,709.9 874.7,706.8 876.0,703.8 877.3,700.8 878.7,697.9 880.0,695.0 881.4,692.2 882.8,689.4 884.2,686.6 885.6,683.9 887.1,681.2 888.5,678.5 890.0,675.9 891.5,673.4 893.0,670.8 894.5,668.3 896.0,665.8 897.6,663.4 899.1,661.0 900.7,658.6 902.3,656.3 903.9,654.0 905.5,651.7 907.1,649.4 909.1,646.8 919.5,633.7 929.9,622.2 940.3,611.7 950.7,602.3 961.1,593.7 971.5,585.7 981.9,578.4 992.3,571.6 1002.7,565.2 1013.1,559.3 1023.5,553.7 1033.9,548.5 1044.3,543.5 1054.7,538.9 1065.1,534.4 1075.5,530.2 1085.9,526.3 1096.3,522.5 1106.7,518.9 1117.1,515.5 1127.5,512.2 1137.9,509.1 1148.3,506.1 1158.7,503.2 1169.1,500.5 1179.5,497.9 1189.9,495.4 1200.4,493.1 1210.8,490.8 1221.2,488.6 1231.6,486.5 1242.0,484.5 1252.4,482.6 1262.8,480.8 1273.2,479.0 1283.6,477.3 1294.0,475.7 1304.4,474.1 1314.8,472.7 1325.2,471.2 1335.6,469.9 1346.0,468.6 1356.4,467.3 1366.8,466.1 1377.2,465.0 1387.6,463.9 1398.0,462.8 1408.4,461.8 1418.8,460.9"/>
<polyline points="837.5,896.7 837.6,895.8 837.8,893.9 838.0,891.3 838.3,888.3 838.6,884.9 838.9,881.2 839.3,877.2 839.7,873.0 840.2,868.7 840.7,864.3 841.2,859.7 841.8,855.2 842.3,850.5 842.9,845.9 843.6,841.3 844.2,836.7 844.9,832.1 845.6,827.5 846.4,823.0 847.1,818.5 847.9,814.0 848.7,809.7 849.5,805.3 850.4,801.1 851.2,796.9 852.1,792.7 853.0,788.6 854.0,784.6 854.9,780.7 855.9,776.8 856.9,772.9 857.9,769.2 858.9,765.4 860.0,761.8 861.0,758.2 862.1,754.7 863.2,751.2 864.3,747.8 865.5,744.4 866.6,741.1 867.8,737.8 869.0,734.6 870.2,731.4 871.4,728.3 872.6,725.3 873.9,722.2 875.2,719.3 876.5,716.3 877.8,713.5 879.1,710.6 880.4,707.8 881.8,705.1 883.2,702.4 884.5,699.7 885.9,697.1 887.4,694.5 888.8,691.9 890.2,689.4 891.7,686.9 893.2,684.4 894.7,682.0 896.2,679.6 897.7,677.3 899.2,675.0 900.8,672.7 902.3,670.4 903.9,668.2 905.5,666.0 907.1,663.8 909.1,661.2 919.5,648.6 929.9,637.4 940.3,627.5 950.7,618.6 961.1,610.5 971.5,603.2 981.9,596.5 992.3,590.3 1002.7,584.7 1013.1,579.5 1023.5,574.7 1033.9,570.3 1044.3,566.2 1054.7,562.4 1065.1,558.8 1075.5,555.6 1085.9,552.6 1096.3,549.8 1106.7,547.2 1117.1,544.8 1127.5,542.5 1137.9,540.5 1148.3,538.6 1158.7,536.8 1169.1,535.2 1179.5,533.7 1189.9,532.3 1200.4,531.0 1210.8,529.8 1221.2,528.8 1231.6,527.8 1242.0,526.9 1252.4,526.1 1262.8,525.3 1273.2,524.6 1283.6,524.0 1294.0,523.5 1304.4,523.0 1314.8,522.5 1325.2,522.1 1335.6,521.7 1346.0,521.4 1356.4,521.1 1366.8,520.8 1377.2,520.6 1387.6,520.4 1398.0,520.2 1408.4,520.0 1418.8,519.9"/>
<polyline points="838.7,896.7 838.8,895.9 838.9,894.2 839.1,892.0 839.4,889.4 839.7,886.4 840.1,883.1 840.5,879.5 840.9,875.8 841.3,872.0 841.8,868.0 842.3,863.9 842.9,859.8 843.4,855.6 844.0,851.3 844.6,847.1 845.3,842.9 846.0,838.6 846.7,834.4 847.4,830.2 848.1,826.1 848.9,822.0 849.7,817.9 850.5,813.9 851.3,809.9 852.2,805.9 853.0,802.0 853.9,798.2 854.9,794.4 855.8,790.7 856.7,787.0 857.7,783.4 858.7,779.8 859.7,776.3 860.7,772.9 861.8,769.5 862.9,766.1 863.9,762.8 865.0,759.6 866.2,756.4 867.3,753.2 868.4,750.2 869.6,747.1 870.8,744.1 872.0,741.2 873.2,738.3 874.5,735.4 875.7,732.6 877.0,729.9 878.3,727.1 879.6,724.5 880.9,721.8 882.2,719.2 883.6,716.7 884.9,714.2 886.3,711.7 887.7,709.3 889.1,706.9 890.5,704.6 892.0,702.2 893.4,700.0 894.9,697.7 896.4,695.5 897.9,693.3 899.4,691.2 900.9,689.1 902.4,687.0 904.0,685.0 905.5,683.0 907.1,681.0 909.1,678.6 919.5,667.2 929.9,657.3 940.3,648.7 950.7,641.3 961.1,634.8 971.5,629.1 981.9,624.2 992.3,619.8 1002.7,616.1 1013.1,612.8 1023.5,609.9 1033.9,607.4 1044.3,605.3 1054.7,603.5 1065.1,601.9 1075.5,600.6 1085.9,599.5 1096.3,598.5 1106.7,597.8 1117.1,597.1 1127.5,596.6 1137.9,596.1 1148.3,595.8 1158.7,595.5 1169.1,595.3 1179.5,595.1 1189.9,594.9 1200.4,594.8 1210.8,594.7 1221.2,594.7 1231.6,594.6 1242.0,594.6 1252.4,594.6 1262.8,594.5 1273.2,594.5 1283.6,594.5 1294.0,594.5 1304.4,594.5 1314.8,594.5 1325.2,594.5 1335.6,594.5 1346.0,594.5 1356.4,594.5 1366.8,594.5 1377.2,594.5 1387.6,594.5 1398.0,594.5 1408.4,594.5 1418.8,594.5"/>
<polyline points="840.0,896.7 840.1,896.0 840.3,894.6 840.5,892.6 840.7,890.3 841.0,887.7 841.4,884.9 841.8,881.8 842.2,878.5 842.6,875.1 843.1,871.6 843.6,868.0 844.1,864.3 844.7,860.5 845.3,856.7 845.9,852.9 846.5,849.1 847.2,845.3 847.8,841.5 848.6,837.7 849.3,833.9 850.0,830.2 850.8,826.4 851.6,822.8 852.4,819.1 853.3,815.5 854.1,812.0 855.0,808.5 855.9,805.0 856.8,801.6 857.7,798.2 858.7,794.9 859.7,791.7 860.6,788.5 861.7,785.3 862.7,782.2 863.7,779.2 864.8,776.2 865.9,773.3 867.0,770.4 868.1,767.5 869.2,764.8 870.4,762.0 871.5,759.3 872.7,756.7 873.9,754.1 875.1,751.6 876.3,749.2 877.6,746.7 878.8,744.4 880.1,742.0 881.4,739.7 882.7,737.5 884.0,735.3 885.4,733.2 886.7,731.1 888.1,729.1 889.5,727.1 890.8,725.1 892.3,723.2 893.7,721.3 895.1,719.5 896.6,717.7 898.0,716.0 899.5,714.3 901.0,712.6 902.5,711.0 904.0,709.5 905.6,707.9 907.1,706.4 909.1,704.6 919.5,696.3 929.9,689.7 940.3,684.6 950.7,680.6 961.1,677.6 971.5,675.4 981.9,673.7 992.3,672.5 1002.7,671.7 1013.1,671.1 1023.5,670.7 1033.9,670.5 1044.3,670.3 1054.7,670.2 1065.1,670.1 1075.5,670.1 1085.9,670.1 1096.3,670.1 1106.7,670.1 1117.1,670.0 1127.5,670.0 1137.9,670.0 1148.3,670.0 1158.7,670.0 1169.1,670.0 1179.5,670.0 1189.9,670.0 1200.4,670.0 1210.8,670.0 1221.2,670.0 1231.6,670.0 1242.0,670.0 1252.4,670.0 1262.8,670.0 1273.2,670.0 1283.6,670.0 1294.0,670.0 1304.4,670.0 1314.8,670.0 1325.2,670.0 1335.6,670.0 1346.0,670.0 1356.4,670.0 1366.8,670.0 1377.2,670.0 1387.6,670.0 1398.0,670.0 1408.4,670.0 1418.8,670.0"/>
<polyline points="840.8,896.7 840.9,896.0 841.0,894.7 841.2,893.0 841.5,890.8 841.8,888.4 842.1,885.8 842.5,882.9 842.9,879.9 843.4,876.7 843.8,873.4 844.3,870.1 844.8,866.6 845.4,863.1 846.0,859.6 846.6,856.1 847.2,852.5 847.9,848.9 848.5,845.3 849.2,841.8 849.9,838.3 850.7,834.7 851.5,831.3 852.2,827.8 853.0,824.4 853.9,821.0 854.7,817.7 855.6,814.5 856.5,811.2 857.4,808.1 858.3,804.9 859.2,801.9 860.2,798.8 861.2,795.9 862.2,793.0 863.2,790.1 864.2,787.3 865.3,784.6 866.3,781.9 867.4,779.3 868.5,776.7 869.6,774.2 870.8,771.8 871.9,769.4 873.1,767.0 874.3,764.8 875.5,762.5 876.7,760.4 877.9,758.2 879.2,756.2 880.4,754.2 881.7,752.2 883.0,750.3 884.3,748.5 885.6,746.7 886.9,744.9 888.3,743.2 889.7,741.6 891.0,740.0 892.4,738.5 893.8,737.0 895.3,735.5 896.7,734.1 898.1,732.8 899.6,731.5 901.1,730.2 902.6,729.0 904.1,727.9 905.6,726.8 907.1,725.7 909.1,724.4 919.5,718.7 929.9,714.8 940.3,712.2 950.7,710.4 961.1,709.3 971.5,708.6 981.9,708.3 992.3,708.0 1002.7,707.9 1013.1,707.9 1023.5,707.8 1033.9,707.8 1044.3,707.8 1054.7,707.8 1065.1,707.8 1075.5,707.8 1085.9,707.8 1096.3,707.8 1106.7,707.8 1117.1,707.8 1127.5,707.8 1137.9,707.8 1148.3,707.8 1158.7,707.8 1169.1,707.8 1179.5,707.8 1189.9,707.8 1200.4,707.8 1210.8,707.8 1221.2,707.8 1231.6,707.8 1242.0,707.8 1252.4,707.8 1262.8,707.8 1273.2,707.8 1283.6,707.8 1294.0,707.8 1304.4,707.8 1314.8,707.8 1325.2,707.8 1335.6,707.8 1346.0,707.8 1356.4,707.8 1366.8,707.8 1377.2,707.8 1387.6,707.8 1398.0,707.8 1408.4,707.8 1418.8,707.8"/>
<polyline points="843.4,896.7 843.5,896.2 843.6,895.3 843.8,894.0 844.1,892.4 844.4,890.6 844.7,888.7 845.0,886.6 845.4,884.4 845.8,882.0 846.3,879.6 846.8,877.1 847.3,874.6 847.8,872.0 848.4,869.5 848.9,866.9 849.5,864.3 850.2,861.7 850.8,859.1 851.5,856.6 852.2,854.0 852.9,851.6 853.6,849.1 854.4,846.8 855.2,844.4 856.0,842.1 856.8,839.9 857.6,837.8 858.4,835.7 859.3,833.7 860.2,831.7 861.1,829.8 862.0,828.0 863.0,826.3 863.9,824.6 864.9,823.0 865.9,821.5 866.9,820.0 867.9,818.6 869.0,817.3 870.0,816.1 871.1,814.9 872.2,813.8 873.3,812.8 874.4,811.8 875.6,810.9 876.7,810.1 877.9,809.3 879.1,808.6 880.2,807.9 881.5,807.3 882.7,806.7 883.9,806.2 885.2,805.8 886.4,805.3 887.7,805.0 889.0,804.6 890.3,804.3 891.7,804.0 893.0,803.8 894.4,803.6 895.7,803.4 897.1,803.2 898.5,803.1 899.9,802.9 901.3,802.8 902.7,802.7 904.2,802.7 905.6,802.6 907.1,802.5 909.1,802.5 919.5,802.3 929.9,802.3 940.3,802.3 950.7,802.3 961.1,802.3 971.5,802.3 981.9,802.3 992.3,802.3 1002.7,802.3 1013.1,802.3 1023.5,802.3 1033.9,802.3 1044.3,802.3 1054.7,802.3 1065.1,802.3 1075.5,802.3 1085.9,802.3 1096.3,802.3 1106.7,802.3 1117.1,802.3 1127.5,802.3 1137.9,802.3 1148.3,802.3 1158.7,802.3 1169.1,802.3 1179.5,802.3 1189.9,802.3 1200.4,802.3 1210.8,802.3 1221.2,802.3 1231.6,802.3 1242.0,802.3 1252.4,802.3 1262.8,802.3 1273.2,802.3 1283.6,802.3 1294.0,802.3 1304.4,802.3 1314.8,802.3 1325.2,802.3 1335.6,802.3 1346.0,802.3 1356.4,802.3 1366.8,802.3 1377.2,802.3 1387.6,802.3 1398.0,802.3 1408.4,802.3 1418.8,802.3"/>
</g>
<text x="1365.60" y="499.50" font-size="26" text-anchor="middle">9.4</text>
<text x="1365.60" y="551.70" font-size="26" text-anchor="middle">9.0</text>
<text x="1365.60" y="627.30" font-size="26" text-anchor="middle">8.6</text>
<text x="1365.60" y="697.60" font-size="26" text-anchor="middle">8.2</text>
<text x="1365.60" y="740.20" font-size="26" text-anchor="middle">8.0</text>
<text x="1365.60" y="835.90" font-size="26" text-anchor="middle">7.5</text>
<rect x="828.4" y="424.5" width="590.40" height="472.20" stroke="#000" stroke-width="2.1" fill="none"/>
<path d="M828.40 896.70v12.5M828.40 424.50v-12.5M926.80 896.70v12.5M926.80 424.50v-12.5M1025.20 896.70v12.5M1025.20 424.50v-12.5M1123.60 896.70v12.5M1123.60 424.50v-12.5M1222.00 896.70v12.5M1222.00 424.50v-12.5M1320.40 896.70v12.5M1320.40 424.50v-12.5M1418.80 896.70v12.5M1418.80 424.50v-12.5M828.40 424.50h-12.5M1418.80 424.50h12.5M828.40 443.39h-7.0M1418.80 443.39h7.0M828.40 462.28h-7.0M1418.80 462.28h7.0M828.40 481.16h-7.0M1418.80 481.16h7.0M828.40 500.05h-7.0M1418.80 500.05h7.0M828.40 518.94h-12.5M1418.80 518.94h12.5M828.40 537.83h-7.0M1418.80 537.83h7.0M828.40 556.72h-7.0M1418.80 556.72h7.0M828.40 575.60h-7.0M1418.80 575.60h7.0M828.40 594.49h-7.0M1418.80 594.49h7.0M828.40 613.38h-12.5M1418.80 613.38h12.5M828.40 632.27h-7.0M1418.80 632.27h7.0M828.40 651.16h-7.0M1418.80 651.16h7.0M828.40 670.04h-7.0M1418.80 670.04h7.0M828.40 688.93h-7.0M1418.80 688.93h7.0M828.40 707.82h-12.5M1418.80 707.82h12.5M828.40 726.71h-7.0M1418.80 726.71h7.0M828.40 745.60h-7.0M1418.80 745.60h7.0M828.40 764.48h-7.0M1418.80 764.48h7.0M828.40 783.37h-7.0M1418.80 783.37h7.0M828.40 802.26h-12.5M1418.80 802.26h12.5M828.40 821.15h-7.0M1418.80 821.15h7.0M828.40 840.04h-7.0M1418.80 840.04h7.0M828.40 858.92h-7.0M1418.80 858.92h7.0M828.40 877.81h-7.0M1418.80 877.81h7.0M828.40 896.70h-12.5M1418.80 896.70h12.5" stroke="#000" stroke-width="2.1" fill="none"/>
<text x="1452.00" y="435.30" font-size="29" text-anchor="start">9.5</text>
<text x="1452.00" y="529.74" font-size="29" text-anchor="start">9.0</text>
<text x="1452.00" y="624.18" font-size="29" text-anchor="start">8.5</text>
<text x="1452.00" y="718.62" font-size="29" text-anchor="start">8.0</text>
<text x="1452.00" y="813.06" font-size="29" text-anchor="start">7.5</text>
<text x="1452.00" y="907.50" font-size="29" text-anchor="start">7.0</text>
<text transform="translate(1535.6,661.6) rotate(-90)" font-size="29" text-anchor="middle">M<tspan font-size="20" dy="8.3">w</tspan></text>
<text x="771.10" y="434.30" font-size="34" text-anchor="start" font-weight="bold">c</text>
<rect x="119.3" y="956.3" width="590.50" height="472.00" fill="#fff"/>
<g transform="translate(119.3,956.3) scale(4.92083,4.72000)" shape-rendering="crispEdges">
<path fill="#1c190b" d="M0 95h1v2h-1zM1 61h2v8h-2zM3 39h2v13h-2zM5 38h2v3h-2z"/>
<path fill="#efac56" d="M0 97h1v3h-1zM7 68h2v2h-2zM9 65h2v1h-2zM11 65h2v1h-2zM13 64h2v1h-2zM15 62h2v1h-2zM17 60h2v1h-2zM19 59h2v1h-2zM21 58h2v1h-2zM25 56h2v1h-2zM27 55h2v1h-2zM29 55h2v1h-2zM31 54h2v1h-2zM33 54h2v1h-2zM35 53h2v1h-2zM37 53h2v1h-2zM39 52h2v1h-2zM41 52h2v1h-2zM43 52h2v1h-2zM45 52h2v1h-2zM47 51h2v1h-2zM49 51h2v1h-2zM51 51h2v1h-2zM53 50h2v2h-2zM55 50h2v1h-2zM57 49h2v2h-2zM59 49h2v1h-2zM61 49h2v1h-2zM63 49h2v1h-2zM65 49h2v1h-2zM67 48h2v2h-2zM69 48h2v2h-2zM71 48h2v2h-2zM73 48h2v1h-2zM75 48h2v1h-2zM77 47h2v2h-2zM79 47h2v2h-2zM81 47h2v2h-2zM83 47h2v2h-2zM85 47h2v1h-2zM87 46h2v2h-2zM89 46h2v2h-2zM91 46h2v2h-2zM93 46h2v2h-2zM95 45h2v2h-2zM97 45h2v2h-2zM99 45h2v2h-2zM101 45h2v2h-2zM103 44h2v2h-2zM105 44h2v2h-2zM107 44h2v2h-2zM109 44h2v2h-2zM111 43h2v2h-2zM113 43h2v2h-2zM115 42h2v3h-2zM117 41h2v4h-2zM119 41h1v3h-1z"/>
<path fill="#ea9351" d="M1 69h2v8h-2zM1 78h2v22h-2zM9 68h2v2h-2zM11 68h2v1h-2zM13 67h2v1h-2zM15 66h2v1h-2zM19 63h2v1h-2zM21 62h2v1h-2zM23 60h2v1h-2zM25 59h2v1h-2zM27 59h2v1h-2zM29 58h2v1h-2zM33 57h2v1h-2zM35 57h2v1h-2zM39 56h2v1h-2zM41 56h2v1h-2zM43 56h2v1h-2zM45 56h2v1h-2zM47 56h2v1h-2zM49 55h2v2h-2zM51 55h2v2h-2zM53 55h2v2h-2zM55 55h2v2h-2zM57 55h2v2h-2zM59 55h2v2h-2zM61 55h2v2h-2zM63 55h2v2h-2zM65 55h2v2h-2zM67 55h2v2h-2zM69 55h2v2h-2zM71 55h2v2h-2zM73 55h2v2h-2zM75 55h2v2h-2zM77 55h2v2h-2zM79 55h2v2h-2zM81 55h2v2h-2zM83 55h2v2h-2zM85 54h2v3h-2zM87 54h2v3h-2zM89 54h2v3h-2zM91 54h2v3h-2zM93 54h2v3h-2zM95 54h2v3h-2zM97 54h2v3h-2zM99 54h2v3h-2zM101 53h2v3h-2zM103 53h2v3h-2zM105 52h2v3h-2zM107 52h2v3h-2zM109 52h2v3h-2zM111 51h2v3h-2zM113 51h2v3h-2zM115 51h2v2h-2zM117 51h2v2h-2zM119 50h1v3h-1z"/>
<path fill="#f8e088" d="M1 77h2v1h-2zM7 50h2v7h-2zM9 55h2v2h-2zM11 54h2v2h-2zM13 52h2v2h-2zM15 51h2v1h-2zM17 50h2v1h-2zM19 49h2v1h-2zM21 47h2v2h-2zM23 46h2v2h-2zM25 45h2v2h-2zM27 44h2v2h-2zM29 43h2v1h-2zM31 41h2v2h-2zM33 41h2v1h-2zM35 40h2v2h-2zM37 39h2v2h-2zM39 39h2v1h-2zM41 38h2v2h-2zM43 38h2v1h-2zM45 37h2v2h-2zM47 36h2v2h-2zM49 36h2v1h-2zM51 35h2v2h-2zM53 35h2v2h-2zM55 35h2v1h-2zM57 34h2v2h-2zM59 34h2v1h-2zM61 34h2v1h-2zM63 33h2v2h-2zM65 33h2v1h-2zM67 33h2v1h-2zM69 32h2v2h-2zM71 32h2v1h-2zM73 32h2v1h-2zM75 32h2v1h-2zM77 31h2v1h-2zM79 31h2v1h-2zM81 31h2v1h-2zM83 30h2v2h-2zM85 30h2v1h-2zM87 30h2v1h-2zM89 29h2v2h-2zM91 29h2v1h-2zM93 29h2v1h-2zM95 28h2v2h-2zM97 28h2v1h-2zM99 28h2v1h-2zM101 27h2v2h-2zM103 26h2v2h-2zM105 25h2v2h-2zM107 24h2v2h-2zM109 24h2v2h-2zM111 23h2v2h-2zM113 22h2v2h-2zM115 22h2v2h-2zM117 21h2v2h-2zM119 21h1v2h-1z"/>
<path fill="#6e352a" d="M3 52h2v5h-2z"/>
<path fill="#9a423a" d="M3 57h2v9h-2z"/>
<path fill="#cb5748" d="M3 66h2v8h-2zM9 82h2v3h-2zM11 79h2v1h-2zM13 78h2v1h-2zM15 77h2v1h-2zM17 76h2v1h-2zM19 75h2v1h-2zM21 74h2v1h-2zM23 73h2v1h-2zM25 73h2v1h-2zM27 72h2v2h-2zM29 71h2v2h-2zM31 70h2v2h-2zM33 70h2v2h-2zM35 69h2v3h-2zM37 68h2v3h-2zM39 68h2v2h-2zM41 68h2v3h-2zM43 68h2v3h-2zM45 69h2v3h-2zM47 69h2v3h-2zM49 70h2v3h-2zM51 71h2v3h-2zM53 72h2v2h-2zM55 73h2v2h-2zM57 74h2v2h-2zM59 74h2v2h-2zM61 75h2v2h-2zM63 75h2v2h-2zM65 75h2v2h-2zM67 75h2v2h-2zM69 76h2v1h-2zM71 76h2v2h-2zM73 76h2v2h-2zM75 76h2v2h-2zM77 77h2v1h-2zM79 77h2v1h-2zM81 77h2v1h-2zM83 77h2v1h-2zM85 77h2v1h-2zM87 77h2v1h-2zM89 77h2v1h-2zM91 77h2v1h-2zM93 77h2v2h-2zM95 77h2v2h-2zM97 77h2v2h-2zM99 77h2v2h-2zM101 77h2v2h-2zM103 77h2v2h-2zM105 77h2v2h-2zM107 77h2v1h-2zM109 77h2v1h-2zM111 77h2v1h-2zM113 77h2v1h-2zM115 77h2v1h-2zM117 77h2v1h-2zM119 77h1v1h-1z"/>
<path fill="#e5804e" d="M3 74h2v26h-2zM7 93h2v7h-2zM9 73h2v2h-2zM11 72h2v2h-2zM13 70h2v2h-2zM15 69h2v1h-2zM17 67h2v2h-2zM19 66h2v2h-2zM21 65h2v1h-2zM23 64h2v1h-2zM25 63h2v1h-2zM27 62h2v1h-2zM29 61h2v1h-2zM31 60h2v2h-2zM33 60h2v1h-2zM35 60h2v1h-2zM37 59h2v1h-2zM39 59h2v1h-2zM41 59h2v1h-2zM43 59h2v1h-2zM45 59h2v1h-2zM47 59h2v1h-2zM49 59h2v1h-2zM51 59h2v1h-2zM53 59h2v2h-2zM55 59h2v2h-2zM57 60h2v2h-2zM59 60h2v2h-2zM61 60h2v3h-2zM63 61h2v2h-2zM65 61h2v2h-2zM67 61h2v2h-2zM69 61h2v2h-2zM71 61h2v2h-2zM73 61h2v3h-2zM75 62h2v2h-2zM77 62h2v2h-2zM79 62h2v2h-2zM81 62h2v2h-2zM83 62h2v2h-2zM85 62h2v2h-2zM87 62h2v2h-2zM89 62h2v2h-2zM91 62h2v2h-2zM93 62h2v2h-2zM95 62h2v2h-2zM97 62h2v2h-2zM99 62h2v2h-2zM101 62h2v2h-2zM103 61h2v3h-2zM105 61h2v2h-2zM107 61h2v2h-2zM109 60h2v3h-2zM111 60h2v2h-2zM113 60h2v2h-2zM115 59h2v3h-2zM117 59h2v3h-2zM119 59h1v2h-1z"/>
<path fill="#b84c44" d="M5 41h2v6h-2zM11 86h2v14h-2zM13 82h2v4h-2zM15 80h2v2h-2zM17 79h2v1h-2zM19 78h2v1h-2zM21 78h2v1h-2zM23 77h2v1h-2zM25 77h2v1h-2zM27 77h2v1h-2zM29 76h2v2h-2zM31 76h2v2h-2zM33 76h2v2h-2zM35 76h2v2h-2zM37 76h2v3h-2zM39 76h2v4h-2zM41 77h2v3h-2zM43 77h2v3h-2zM45 78h2v3h-2zM47 78h2v3h-2zM49 78h2v4h-2zM51 79h2v4h-2zM53 79h2v5h-2zM55 80h2v5h-2zM57 80h2v6h-2zM57 98h2v2h-2zM59 81h2v6h-2zM59 95h2v5h-2zM61 81h2v6h-2zM61 96h2v4h-2zM63 82h2v5h-2zM63 96h2v4h-2zM65 82h2v5h-2zM65 96h2v4h-2zM67 82h2v5h-2zM67 96h2v4h-2zM69 82h2v5h-2zM69 97h2v3h-2zM71 83h2v4h-2zM71 98h2v2h-2zM73 83h2v4h-2zM73 99h2v1h-2zM75 83h2v4h-2zM77 83h2v4h-2zM79 83h2v4h-2zM81 83h2v4h-2zM83 83h2v4h-2zM85 83h2v4h-2zM87 83h2v4h-2zM89 83h2v4h-2zM91 83h2v4h-2zM93 83h2v4h-2zM95 83h2v4h-2zM97 83h2v4h-2zM99 83h2v4h-2zM101 83h2v4h-2zM103 83h2v4h-2zM105 83h2v4h-2zM107 83h2v4h-2zM109 83h2v4h-2zM111 83h2v4h-2zM113 83h2v4h-2zM115 83h2v4h-2zM117 83h2v4h-2zM119 83h1v4h-1z"/>
<path fill="#e7864f" d="M5 47h2v53h-2zM7 79h2v14h-2zM9 72h2v1h-2zM11 71h2v1h-2zM13 69h2v1h-2zM15 68h2v1h-2zM17 66h2v1h-2zM19 65h2v1h-2zM21 64h2v1h-2zM23 62h2v2h-2zM25 62h2v1h-2zM27 61h2v1h-2zM29 60h2v1h-2zM31 59h2v1h-2zM33 59h2v1h-2zM35 59h2v1h-2zM37 58h2v1h-2zM39 58h2v1h-2zM41 58h2v1h-2zM43 58h2v1h-2zM45 58h2v1h-2zM47 58h2v1h-2zM49 58h2v1h-2zM51 58h2v1h-2zM53 58h2v1h-2zM55 58h2v1h-2zM57 58h2v2h-2zM59 59h2v1h-2zM61 59h2v1h-2zM63 59h2v2h-2zM65 59h2v2h-2zM67 59h2v2h-2zM69 59h2v2h-2zM71 59h2v2h-2zM73 59h2v2h-2zM75 59h2v3h-2zM77 59h2v3h-2zM79 60h2v2h-2zM81 60h2v2h-2zM83 60h2v2h-2zM85 60h2v2h-2zM87 60h2v2h-2zM89 60h2v2h-2zM91 60h2v2h-2zM93 60h2v2h-2zM95 60h2v2h-2zM97 60h2v2h-2zM99 60h2v2h-2zM101 59h2v3h-2zM103 59h2v2h-2zM105 58h2v3h-2zM107 58h2v3h-2zM109 58h2v2h-2zM111 57h2v3h-2zM113 57h2v3h-2zM115 56h2v3h-2zM117 56h2v3h-2zM119 56h1v3h-1z"/>
<path fill="#fef9c1" d="M7 30h2v8h-2zM9 26h2v8h-2zM9 37h2v4h-2zM11 24h2v10h-2zM11 37h2v4h-2zM13 22h2v17h-2zM15 22h2v16h-2zM17 22h2v16h-2zM19 22h2v14h-2zM21 22h2v10h-2zM23 22h2v9h-2zM25 22h2v8h-2zM27 21h2v8h-2zM29 21h2v7h-2zM31 21h2v6h-2zM33 21h2v5h-2zM35 21h2v5h-2zM37 21h2v4h-2zM39 21h2v4h-2zM41 20h2v4h-2zM43 19h2v5h-2zM45 18h2v6h-2zM47 18h2v5h-2zM49 17h2v6h-2zM51 16h2v6h-2zM53 15h2v6h-2zM55 15h2v6h-2zM57 14h2v6h-2zM59 13h2v6h-2zM61 13h2v6h-2zM63 12h2v6h-2zM65 12h2v6h-2zM67 11h2v6h-2zM69 11h2v6h-2zM71 10h2v7h-2zM73 10h2v6h-2zM75 10h2v6h-2zM77 9h2v6h-2zM79 9h2v6h-2zM81 9h2v5h-2zM83 8h2v6h-2zM85 8h2v5h-2zM87 7h2v6h-2zM89 7h2v6h-2zM91 7h2v5h-2zM93 6h2v6h-2zM95 6h2v6h-2zM97 5h2v6h-2zM99 5h2v6h-2zM101 5h2v6h-2zM103 4h2v6h-2zM105 3h2v7h-2zM107 2h2v7h-2zM109 2h2v7h-2zM111 2h2v7h-2zM113 1h2v7h-2zM115 1h2v7h-2zM117 1h2v6h-2zM119 1h1v6h-1z"/>
<path fill="#f5d06f" d="M7 38h2v4h-2zM9 60h2v1h-2zM11 60h2v1h-2zM13 57h2v1h-2zM15 55h2v1h-2zM17 54h2v1h-2zM21 52h2v1h-2zM23 50h2v2h-2zM25 49h2v2h-2zM27 48h2v2h-2zM29 47h2v1h-2zM31 46h2v1h-2zM33 45h2v2h-2zM35 45h2v1h-2zM37 44h2v1h-2zM39 43h2v2h-2zM41 43h2v1h-2zM43 42h2v2h-2zM45 42h2v2h-2zM47 41h2v2h-2zM49 41h2v2h-2zM51 40h2v2h-2zM53 40h2v2h-2zM55 39h2v2h-2zM57 39h2v2h-2zM59 39h2v1h-2zM61 38h2v2h-2zM63 38h2v1h-2zM65 37h2v2h-2zM67 37h2v2h-2zM69 36h2v2h-2zM71 36h2v2h-2zM73 36h2v1h-2zM75 35h2v2h-2zM77 35h2v1h-2zM79 35h2v1h-2zM81 34h2v2h-2zM83 34h2v1h-2zM85 34h2v1h-2zM87 34h2v1h-2zM89 33h2v2h-2zM91 33h2v1h-2zM93 33h2v1h-2zM95 32h2v2h-2zM97 32h2v1h-2zM99 32h2v1h-2zM101 31h2v2h-2zM103 31h2v1h-2zM105 30h2v2h-2zM107 30h2v1h-2zM109 29h2v2h-2zM111 29h2v1h-2zM113 28h2v2h-2zM115 27h2v2h-2zM117 27h2v1h-2zM119 26h1v2h-1z"/>
<path fill="#fbe99a" d="M7 42h2v1h-2zM9 51h2v2h-2zM11 50h2v2h-2zM13 49h2v2h-2zM15 48h2v1h-2zM17 47h2v1h-2zM19 46h2v1h-2zM21 45h2v1h-2zM23 44h2v1h-2zM25 42h2v2h-2zM27 40h2v2h-2zM29 39h2v2h-2zM31 38h2v2h-2zM33 37h2v2h-2zM35 37h2v1h-2zM37 36h2v2h-2zM39 36h2v1h-2zM41 35h2v2h-2zM43 34h2v2h-2zM45 34h2v1h-2zM47 33h2v2h-2zM49 33h2v1h-2zM51 32h2v2h-2zM53 32h2v2h-2zM55 32h2v1h-2zM57 32h2v1h-2zM59 31h2v2h-2zM61 31h2v1h-2zM63 31h2v1h-2zM65 30h2v2h-2zM67 30h2v1h-2zM69 30h2v1h-2zM71 30h2v1h-2zM73 29h2v2h-2zM75 29h2v1h-2zM77 29h2v1h-2zM79 29h2v1h-2zM81 28h2v1h-2zM83 28h2v1h-2zM85 27h2v2h-2zM87 26h2v3h-2zM89 26h2v2h-2zM91 25h2v3h-2zM93 25h2v2h-2zM95 24h2v2h-2zM97 23h2v3h-2zM99 23h2v2h-2zM101 22h2v2h-2zM103 21h2v3h-2zM105 21h2v2h-2zM107 20h2v2h-2zM109 20h2v2h-2zM111 19h2v2h-2zM113 19h2v2h-2zM115 18h2v2h-2zM117 18h2v2h-2zM119 17h1v2h-1z"/>
<path fill="#fae491" d="M7 43h2v7h-2zM9 53h2v2h-2zM11 52h2v2h-2zM13 51h2v1h-2zM15 49h2v2h-2zM17 48h2v2h-2zM19 47h2v2h-2zM21 46h2v1h-2zM23 45h2v1h-2zM25 44h2v1h-2zM27 42h2v2h-2zM29 41h2v2h-2zM31 40h2v1h-2zM33 39h2v2h-2zM35 38h2v2h-2zM37 38h2v1h-2zM39 37h2v2h-2zM41 37h2v1h-2zM43 36h2v2h-2zM45 35h2v2h-2zM47 35h2v1h-2zM49 34h2v2h-2zM51 34h2v1h-2zM53 34h2v1h-2zM55 33h2v2h-2zM57 33h2v1h-2zM59 33h2v1h-2zM61 32h2v2h-2zM63 32h2v1h-2zM65 32h2v1h-2zM67 31h2v2h-2zM69 31h2v1h-2zM71 31h2v1h-2zM73 31h2v1h-2zM75 30h2v2h-2zM77 30h2v1h-2zM79 30h2v1h-2zM81 29h2v2h-2zM83 29h2v1h-2zM85 29h2v1h-2zM87 29h2v1h-2zM89 28h2v1h-2zM91 28h2v1h-2zM93 27h2v2h-2zM95 26h2v2h-2zM97 26h2v2h-2zM99 25h2v3h-2zM101 24h2v3h-2zM103 24h2v2h-2zM105 23h2v2h-2zM107 22h2v2h-2zM109 22h2v2h-2zM111 21h2v2h-2zM113 21h2v1h-2zM115 20h2v2h-2zM117 20h2v1h-2zM119 19h1v2h-1z"/>
<path fill="#f7db7f" d="M7 57h2v3h-2zM9 57h2v1h-2zM11 56h2v2h-2zM13 54h2v1h-2zM15 52h2v2h-2zM17 51h2v2h-2zM19 50h2v1h-2zM21 49h2v1h-2zM23 48h2v1h-2zM25 47h2v1h-2zM27 46h2v1h-2zM29 44h2v2h-2zM31 43h2v2h-2zM33 42h2v2h-2zM35 42h2v1h-2zM37 41h2v1h-2zM39 40h2v2h-2zM41 40h2v1h-2zM43 39h2v2h-2zM45 39h2v1h-2zM47 38h2v2h-2zM49 37h2v2h-2zM51 37h2v2h-2zM53 37h2v1h-2zM55 36h2v2h-2zM57 36h2v1h-2zM59 35h2v2h-2zM61 35h2v1h-2zM63 35h2v1h-2zM65 34h2v2h-2zM67 34h2v1h-2zM69 34h2v1h-2zM71 33h2v2h-2zM73 33h2v1h-2zM75 33h2v1h-2zM77 32h2v2h-2zM79 32h2v1h-2zM81 32h2v1h-2zM83 32h2v1h-2zM85 31h2v2h-2zM87 31h2v1h-2zM89 31h2v1h-2zM91 30h2v2h-2zM93 30h2v1h-2zM95 30h2v1h-2zM97 29h2v2h-2zM99 29h2v1h-2zM101 29h2v1h-2zM103 28h2v1h-2zM105 27h2v2h-2zM107 26h2v2h-2zM109 26h2v2h-2zM111 25h2v2h-2zM113 24h2v2h-2zM115 24h2v2h-2zM117 23h2v2h-2zM119 23h1v1h-1z"/>
<path fill="#f3c664" d="M7 60h2v1h-2zM13 60h2v1h-2zM15 57h2v1h-2zM17 56h2v1h-2zM19 54h2v1h-2zM21 53h2v1h-2zM25 52h2v1h-2zM27 51h2v1h-2zM29 50h2v1h-2zM31 49h2v1h-2zM33 48h2v1h-2zM35 47h2v2h-2zM37 47h2v1h-2zM39 46h2v1h-2zM41 46h2v1h-2zM43 45h2v2h-2zM45 45h2v1h-2zM47 45h2v1h-2zM49 44h2v2h-2zM51 44h2v1h-2zM53 43h2v2h-2zM55 43h2v1h-2zM57 42h2v2h-2zM59 42h2v2h-2zM61 42h2v1h-2zM63 41h2v2h-2zM65 41h2v2h-2zM67 40h2v2h-2zM69 40h2v2h-2zM71 40h2v1h-2zM73 39h2v2h-2zM75 39h2v2h-2zM77 38h2v2h-2zM79 38h2v2h-2zM81 37h2v2h-2zM83 37h2v2h-2zM85 36h2v3h-2zM87 36h2v2h-2zM89 36h2v2h-2zM91 36h2v1h-2zM93 35h2v2h-2zM95 35h2v2h-2zM97 35h2v1h-2zM99 34h2v2h-2zM101 34h2v1h-2zM103 34h2v1h-2zM105 33h2v2h-2zM107 33h2v1h-2zM109 32h2v2h-2zM111 32h2v1h-2zM113 31h2v2h-2zM115 31h2v1h-2zM117 30h2v2h-2zM119 29h1v2h-1z"/>
<path fill="#f3c160" d="M7 61h2v2h-2zM9 62h2v1h-2zM11 62h2v1h-2zM13 61h2v1h-2zM15 58h2v2h-2zM17 57h2v1h-2zM19 55h2v1h-2zM21 54h2v1h-2zM23 53h2v1h-2zM25 53h2v1h-2zM27 52h2v1h-2zM29 51h2v1h-2zM31 50h2v1h-2zM33 49h2v2h-2zM35 49h2v1h-2zM37 48h2v1h-2zM39 47h2v2h-2zM41 47h2v1h-2zM43 47h2v1h-2zM45 46h2v2h-2zM47 46h2v1h-2zM49 46h2v1h-2zM51 45h2v2h-2zM53 45h2v1h-2zM55 44h2v2h-2zM57 44h2v1h-2zM59 44h2v1h-2zM61 43h2v2h-2zM63 43h2v2h-2zM65 43h2v1h-2zM67 42h2v2h-2zM69 42h2v2h-2zM71 41h2v2h-2zM73 41h2v2h-2zM75 41h2v2h-2zM77 40h2v2h-2zM79 40h2v2h-2zM81 39h2v2h-2zM83 39h2v2h-2zM85 39h2v2h-2zM87 38h2v2h-2zM89 38h2v2h-2zM91 37h2v3h-2zM93 37h2v2h-2zM95 37h2v2h-2zM97 36h2v2h-2zM99 36h2v2h-2zM101 35h2v2h-2zM103 35h2v2h-2zM105 35h2v1h-2zM107 34h2v2h-2zM109 34h2v1h-2zM111 33h2v2h-2zM113 33h2v1h-2zM115 32h2v2h-2zM117 32h2v1h-2zM119 31h1v2h-1z"/>
<path fill="#f2bc5c" d="M7 63h2v2h-2zM9 63h2v1h-2zM11 63h2v1h-2zM15 19h2v1h-2zM15 60h2v1h-2zM17 58h2v1h-2zM19 56h2v1h-2zM21 55h2v1h-2zM23 54h2v1h-2zM27 53h2v1h-2zM29 52h2v1h-2zM31 51h2v1h-2zM33 51h2v1h-2zM35 50h2v1h-2zM37 49h2v2h-2zM39 49h2v1h-2zM41 48h2v2h-2zM43 48h2v1h-2zM45 48h2v1h-2zM47 47h2v2h-2zM49 47h2v1h-2zM51 47h2v1h-2zM53 46h2v2h-2zM55 46h2v1h-2zM57 45h2v2h-2zM59 45h2v1h-2zM61 45h2v1h-2zM63 45h2v1h-2zM65 44h2v2h-2zM67 44h2v2h-2zM69 44h2v1h-2zM71 43h2v2h-2zM73 43h2v2h-2zM75 43h2v1h-2zM77 42h2v2h-2zM79 42h2v2h-2zM81 41h2v2h-2zM83 41h2v2h-2zM85 41h2v2h-2zM87 40h2v3h-2zM89 40h2v2h-2zM91 40h2v2h-2zM93 39h2v3h-2zM95 39h2v2h-2zM97 38h2v3h-2zM99 38h2v2h-2zM101 37h2v3h-2zM103 37h2v2h-2zM105 36h2v3h-2zM107 36h2v2h-2zM109 35h2v3h-2zM111 35h2v2h-2zM113 34h2v2h-2zM115 34h2v2h-2zM117 33h2v2h-2zM119 33h1v2h-1z"/>
<path fill="#f1b75a" d="M7 65h2v1h-2zM13 62h2v1h-2zM15 61h2v1h-2zM17 59h2v1h-2zM19 57h2v1h-2zM21 56h2v1h-2zM23 55h2v1h-2zM25 54h2v1h-2zM27 54h2v1h-2zM29 53h2v1h-2zM31 52h2v1h-2zM33 52h2v1h-2zM35 51h2v1h-2zM37 51h2v1h-2zM39 50h2v1h-2zM41 50h2v1h-2zM43 49h2v2h-2zM45 49h2v1h-2zM47 49h2v1h-2zM49 48h2v2h-2zM51 48h2v1h-2zM53 48h2v1h-2zM55 47h2v1h-2zM57 47h2v1h-2zM59 46h2v2h-2zM61 46h2v2h-2zM63 46h2v1h-2zM65 46h2v1h-2zM67 46h2v1h-2zM69 45h2v2h-2zM71 45h2v2h-2zM73 45h2v1h-2zM75 44h2v2h-2zM77 44h2v2h-2zM79 44h2v1h-2zM81 43h2v2h-2zM83 43h2v2h-2zM85 43h2v2h-2zM87 43h2v2h-2zM89 42h2v2h-2zM91 42h2v2h-2zM93 42h2v2h-2zM95 41h2v2h-2zM97 41h2v2h-2zM99 40h2v3h-2zM101 40h2v2h-2zM103 39h2v3h-2zM105 39h2v3h-2zM107 38h2v3h-2zM109 38h2v2h-2zM111 37h2v3h-2zM113 36h2v3h-2zM115 36h2v2h-2zM117 35h2v3h-2zM119 35h1v2h-1z"/>
<path fill="#f0b158" d="M7 66h2v2h-2zM9 64h2v1h-2zM11 64h2v1h-2zM13 63h2v1h-2zM19 58h2v1h-2zM21 57h2v1h-2zM23 56h2v1h-2zM25 55h2v1h-2zM29 54h2v1h-2zM31 53h2v1h-2zM33 53h2v1h-2zM35 52h2v1h-2zM37 52h2v1h-2zM39 51h2v1h-2zM41 51h2v1h-2zM43 51h2v1h-2zM45 50h2v2h-2zM47 50h2v1h-2zM49 50h2v1h-2zM51 49h2v2h-2zM53 49h2v1h-2zM55 48h2v2h-2zM57 48h2v1h-2zM59 48h2v1h-2zM61 48h2v1h-2zM63 47h2v2h-2zM65 47h2v2h-2zM67 47h2v1h-2zM69 47h2v1h-2zM71 47h2v1h-2zM73 46h2v2h-2zM75 46h2v2h-2zM77 46h2v1h-2zM79 45h2v2h-2zM81 45h2v2h-2zM83 45h2v2h-2zM85 45h2v2h-2zM87 45h2v1h-2zM89 44h2v2h-2zM91 44h2v2h-2zM93 44h2v2h-2zM95 43h2v2h-2zM97 43h2v2h-2zM99 43h2v2h-2zM101 42h2v3h-2zM103 42h2v2h-2zM105 42h2v2h-2zM107 41h2v3h-2zM109 40h2v4h-2zM111 40h2v3h-2zM113 39h2v4h-2zM115 38h2v4h-2zM117 38h2v3h-2zM119 37h1v4h-1z"/>
<path fill="#eea654" d="M7 70h2v2h-2zM9 66h2v1h-2zM15 63h2v1h-2zM17 61h2v2h-2zM19 60h2v1h-2zM23 57h2v1h-2zM25 57h2v1h-2zM27 56h2v1h-2zM31 55h2v1h-2zM35 54h2v1h-2zM37 54h2v1h-2zM39 53h2v1h-2zM41 53h2v1h-2zM43 53h2v1h-2zM45 53h2v1h-2zM47 52h2v2h-2zM49 52h2v1h-2zM51 52h2v1h-2zM53 52h2v1h-2zM55 51h2v2h-2zM57 51h2v1h-2zM59 50h2v2h-2zM61 50h2v2h-2zM63 50h2v2h-2zM65 50h2v1h-2zM67 50h2v1h-2zM69 50h2v1h-2zM71 50h2v1h-2zM73 49h2v2h-2zM75 49h2v2h-2zM77 49h2v2h-2zM79 49h2v2h-2zM81 49h2v1h-2zM83 49h2v1h-2zM85 48h2v2h-2zM87 48h2v2h-2zM89 48h2v2h-2zM91 48h2v2h-2zM93 48h2v2h-2zM95 47h2v2h-2zM97 47h2v2h-2zM99 47h2v2h-2zM101 47h2v2h-2zM103 46h2v2h-2zM105 46h2v2h-2zM107 46h2v2h-2zM109 46h2v2h-2zM111 45h2v2h-2zM113 45h2v2h-2zM115 45h2v2h-2zM117 45h2v2h-2zM119 44h1v2h-1z"/>
<path fill="#e98d50" d="M7 72h2v7h-2zM9 70h2v2h-2zM11 69h2v2h-2zM13 68h2v1h-2zM15 67h2v1h-2zM17 65h2v1h-2zM19 64h2v1h-2zM21 63h2v1h-2zM23 61h2v1h-2zM25 60h2v2h-2zM27 60h2v1h-2zM29 59h2v1h-2zM31 58h2v1h-2zM33 58h2v1h-2zM35 58h2v1h-2zM37 57h2v1h-2zM39 57h2v1h-2zM41 57h2v1h-2zM43 57h2v1h-2zM45 57h2v1h-2zM47 57h2v1h-2zM49 57h2v1h-2zM51 57h2v1h-2zM53 57h2v1h-2zM55 57h2v1h-2zM57 57h2v1h-2zM59 57h2v2h-2zM61 57h2v2h-2zM63 57h2v2h-2zM65 57h2v2h-2zM67 57h2v2h-2zM69 57h2v2h-2zM71 57h2v2h-2zM73 57h2v2h-2zM75 57h2v2h-2zM77 57h2v2h-2zM79 57h2v3h-2zM81 57h2v3h-2zM83 57h2v3h-2zM85 57h2v3h-2zM87 57h2v3h-2zM89 57h2v3h-2zM91 57h2v3h-2zM93 57h2v3h-2zM95 57h2v3h-2zM97 57h2v3h-2zM99 57h2v3h-2zM101 56h2v3h-2zM103 56h2v3h-2zM105 55h2v3h-2zM107 55h2v3h-2zM109 55h2v3h-2zM111 54h2v3h-2zM113 54h2v3h-2zM115 53h2v3h-2zM117 53h2v3h-2zM119 53h1v3h-1z"/>
<path fill="#fefbc5" d="M9 34h2v3h-2zM11 34h2v3h-2zM15 20h2v2h-2zM17 14h2v8h-2zM19 11h2v11h-2zM21 11h2v11h-2zM23 11h2v11h-2zM25 11h2v11h-2zM27 10h2v11h-2zM29 10h2v11h-2zM31 10h2v11h-2zM33 10h2v11h-2zM35 10h2v11h-2zM37 10h2v11h-2zM39 10h2v11h-2zM41 10h2v10h-2zM43 10h2v9h-2zM45 10h2v8h-2zM47 10h2v8h-2zM49 10h2v7h-2zM51 8h2v8h-2zM53 7h2v8h-2zM55 5h2v10h-2zM57 1h2v13h-2zM59 1h2v12h-2zM61 1h2v12h-2zM63 1h2v11h-2zM65 1h2v11h-2zM67 1h2v10h-2zM69 1h2v10h-2zM71 1h2v9h-2zM73 1h2v9h-2zM75 1h2v9h-2zM77 1h2v8h-2zM79 1h2v8h-2zM81 1h2v8h-2zM83 1h2v7h-2zM85 1h2v7h-2zM87 1h2v6h-2zM89 1h2v6h-2zM91 1h2v6h-2zM93 1h2v5h-2zM95 1h2v5h-2zM97 1h2v4h-2zM99 1h2v4h-2zM101 1h2v4h-2zM103 1h2v3h-2zM105 1h2v2h-2zM107 1h2v1h-2zM109 1h2v1h-2zM111 1h2v1h-2z"/>
<path fill="#fef7bb" d="M9 41h2v3h-2zM11 41h2v3h-2zM13 39h2v4h-2zM15 38h2v4h-2zM17 38h2v3h-2zM19 36h2v3h-2zM21 32h2v6h-2zM23 31h2v5h-2zM25 30h2v4h-2zM27 29h2v4h-2zM29 28h2v3h-2zM31 27h2v3h-2zM33 26h2v4h-2zM35 26h2v3h-2zM37 25h2v4h-2zM39 25h2v3h-2zM41 24h2v4h-2zM43 24h2v4h-2zM45 24h2v4h-2zM47 23h2v5h-2zM49 23h2v5h-2zM51 22h2v6h-2zM53 21h2v6h-2zM55 21h2v6h-2zM57 20h2v6h-2zM59 19h2v6h-2zM61 19h2v5h-2zM63 18h2v6h-2zM65 18h2v5h-2zM67 17h2v5h-2zM69 17h2v5h-2zM71 17h2v5h-2zM73 16h2v5h-2zM75 16h2v5h-2zM77 15h2v6h-2zM79 15h2v6h-2zM81 14h2v6h-2zM83 14h2v5h-2zM85 13h2v5h-2zM87 13h2v4h-2zM89 13h2v4h-2zM91 12h2v4h-2zM93 12h2v4h-2zM95 12h2v3h-2zM97 11h2v4h-2zM99 11h2v4h-2zM101 11h2v3h-2zM103 10h2v4h-2zM105 10h2v4h-2zM107 9h2v4h-2zM109 9h2v4h-2zM111 9h2v4h-2zM113 8h2v5h-2zM115 8h2v5h-2zM117 7h2v5h-2zM119 7h1v5h-1z"/>
<path fill="#fdf4b3" d="M9 44h2v3h-2zM11 44h2v2h-2zM13 43h2v2h-2zM15 42h2v2h-2zM17 41h2v3h-2zM19 39h2v3h-2zM21 38h2v2h-2zM23 36h2v3h-2zM25 34h2v3h-2zM27 33h2v3h-2zM29 31h2v4h-2zM31 30h2v4h-2zM33 30h2v3h-2zM35 29h2v3h-2zM37 29h2v2h-2zM39 28h2v3h-2zM41 28h2v3h-2zM43 28h2v2h-2zM45 28h2v2h-2zM47 28h2v2h-2zM49 28h2v2h-2zM51 28h2v2h-2zM53 27h2v2h-2zM55 27h2v2h-2zM57 26h2v3h-2zM59 25h2v4h-2zM61 24h2v4h-2zM63 24h2v4h-2zM65 23h2v5h-2zM67 22h2v5h-2zM69 22h2v4h-2zM71 22h2v3h-2zM73 21h2v4h-2zM75 21h2v3h-2zM77 21h2v3h-2zM79 21h2v3h-2zM81 20h2v3h-2zM83 19h2v3h-2zM85 18h2v4h-2zM87 17h2v4h-2zM89 17h2v3h-2zM91 16h2v4h-2zM93 16h2v3h-2zM95 15h2v4h-2zM97 15h2v3h-2zM99 15h2v3h-2zM101 14h2v3h-2zM103 14h2v2h-2zM105 14h2v2h-2zM107 13h2v3h-2zM109 13h2v2h-2zM111 13h2v2h-2zM113 13h2v2h-2zM115 13h2v1h-2zM117 12h2v2h-2zM119 12h1v2h-1z"/>
<path fill="#fdf1ab" d="M9 47h2v2h-2zM11 46h2v2h-2zM13 45h2v2h-2zM15 44h2v2h-2zM17 44h2v1h-2zM19 42h2v2h-2zM21 40h2v3h-2zM23 39h2v2h-2zM25 37h2v3h-2zM27 36h2v2h-2zM29 35h2v2h-2zM31 34h2v2h-2zM33 33h2v3h-2zM35 32h2v3h-2zM37 31h2v3h-2zM39 31h2v2h-2zM41 31h2v2h-2zM43 30h2v2h-2zM45 30h2v2h-2zM47 30h2v2h-2zM49 30h2v1h-2zM51 30h2v1h-2zM53 29h2v2h-2zM55 29h2v1h-2zM57 29h2v1h-2zM59 29h2v1h-2zM61 28h2v2h-2zM63 28h2v1h-2zM65 28h2v1h-2zM67 27h2v2h-2zM69 26h2v3h-2zM71 25h2v3h-2zM73 25h2v3h-2zM75 24h2v4h-2zM77 24h2v3h-2zM79 24h2v2h-2zM81 23h2v3h-2zM83 22h2v3h-2zM85 22h2v2h-2zM87 21h2v3h-2zM89 20h2v3h-2zM91 20h2v3h-2zM93 19h2v3h-2zM95 19h2v2h-2zM97 18h2v3h-2zM99 18h2v2h-2zM101 17h2v3h-2zM103 16h2v3h-2zM105 16h2v2h-2zM107 16h2v2h-2zM109 15h2v2h-2zM111 15h2v2h-2zM113 15h2v2h-2zM115 14h2v2h-2zM117 14h2v2h-2zM119 14h1v2h-1z"/>
<path fill="#fceea3" d="M9 49h2v2h-2zM11 48h2v2h-2zM13 47h2v2h-2zM15 46h2v2h-2zM17 45h2v2h-2zM19 44h2v2h-2zM21 43h2v2h-2zM23 41h2v3h-2zM25 40h2v2h-2zM27 38h2v2h-2zM29 37h2v2h-2zM31 36h2v2h-2zM33 36h2v1h-2zM35 35h2v2h-2zM37 34h2v2h-2zM39 33h2v3h-2zM41 33h2v2h-2zM43 32h2v2h-2zM45 32h2v2h-2zM47 32h2v1h-2zM49 31h2v2h-2zM51 31h2v1h-2zM53 31h2v1h-2zM55 30h2v2h-2zM57 30h2v2h-2zM59 30h2v1h-2zM61 30h2v1h-2zM63 29h2v2h-2zM65 29h2v1h-2zM67 29h2v1h-2zM69 29h2v1h-2zM71 28h2v2h-2zM73 28h2v1h-2zM75 28h2v1h-2zM77 27h2v2h-2zM79 26h2v3h-2zM81 26h2v2h-2zM83 25h2v3h-2zM85 24h2v3h-2zM87 24h2v2h-2zM89 23h2v3h-2zM91 23h2v2h-2zM93 22h2v3h-2zM95 21h2v3h-2zM97 21h2v2h-2zM99 20h2v3h-2zM101 20h2v2h-2zM103 19h2v2h-2zM105 18h2v3h-2zM107 18h2v2h-2zM109 17h2v3h-2zM111 17h2v2h-2zM113 17h2v2h-2zM115 16h2v2h-2zM117 16h2v2h-2zM119 16h1v1h-1z"/>
<path fill="#f6d677" d="M9 58h2v2h-2zM11 58h2v2h-2zM13 55h2v2h-2zM15 54h2v1h-2zM17 53h2v1h-2zM19 51h2v2h-2zM21 50h2v2h-2zM23 49h2v1h-2zM25 48h2v1h-2zM27 47h2v1h-2zM29 46h2v1h-2zM31 45h2v1h-2zM33 44h2v1h-2zM35 43h2v2h-2zM37 42h2v2h-2zM39 42h2v1h-2zM41 41h2v2h-2zM43 41h2v1h-2zM45 40h2v2h-2zM47 40h2v1h-2zM49 39h2v2h-2zM51 39h2v1h-2zM53 38h2v2h-2zM55 38h2v1h-2zM57 37h2v2h-2zM59 37h2v2h-2zM61 36h2v2h-2zM63 36h2v2h-2zM65 36h2v1h-2zM67 35h2v2h-2zM69 35h2v1h-2zM71 35h2v1h-2zM73 34h2v2h-2zM75 34h2v1h-2zM77 34h2v1h-2zM79 33h2v2h-2zM81 33h2v1h-2zM83 33h2v1h-2zM85 33h2v1h-2zM87 32h2v2h-2zM89 32h2v1h-2zM91 32h2v1h-2zM93 31h2v2h-2zM95 31h2v1h-2zM97 31h2v1h-2zM99 30h2v2h-2zM101 30h2v1h-2zM103 29h2v2h-2zM105 29h2v1h-2zM107 28h2v2h-2zM109 28h2v1h-2zM111 27h2v2h-2zM113 26h2v2h-2zM115 26h2v1h-2zM117 25h2v2h-2zM119 24h1v2h-1z"/>
<path fill="#f4cb68" d="M9 61h2v1h-2zM11 61h2v1h-2zM13 58h2v2h-2zM15 56h2v1h-2zM17 55h2v1h-2zM19 53h2v1h-2zM23 52h2v1h-2zM25 51h2v1h-2zM27 50h2v1h-2zM29 48h2v2h-2zM31 47h2v2h-2zM33 47h2v1h-2zM35 46h2v1h-2zM37 45h2v2h-2zM39 45h2v1h-2zM41 44h2v2h-2zM43 44h2v1h-2zM45 44h2v1h-2zM47 43h2v2h-2zM49 43h2v1h-2zM51 42h2v2h-2zM53 42h2v1h-2zM55 41h2v2h-2zM57 41h2v1h-2zM59 40h2v2h-2zM61 40h2v2h-2zM63 39h2v2h-2zM65 39h2v2h-2zM67 39h2v1h-2zM69 38h2v2h-2zM71 38h2v2h-2zM73 37h2v2h-2zM75 37h2v2h-2zM77 36h2v2h-2zM79 36h2v2h-2zM81 36h2v1h-2zM83 35h2v2h-2zM85 35h2v1h-2zM87 35h2v1h-2zM89 35h2v1h-2zM91 34h2v2h-2zM93 34h2v1h-2zM95 34h2v1h-2zM97 33h2v2h-2zM99 33h2v1h-2zM101 33h2v1h-2zM103 32h2v2h-2zM105 32h2v1h-2zM107 31h2v2h-2zM109 31h2v1h-2zM111 30h2v2h-2zM113 30h2v1h-2zM115 29h2v2h-2zM117 28h2v2h-2zM119 28h1v1h-1z"/>
<path fill="#ec9952" d="M9 67h2v1h-2zM11 67h2v1h-2zM13 66h2v1h-2zM15 65h2v1h-2zM17 63h2v2h-2zM19 62h2v1h-2zM21 60h2v2h-2zM23 59h2v1h-2zM27 58h2v1h-2zM29 57h2v1h-2zM31 57h2v1h-2zM33 56h2v1h-2zM35 56h2v1h-2zM37 56h2v1h-2zM39 55h2v1h-2zM41 55h2v1h-2zM43 55h2v1h-2zM45 55h2v1h-2zM47 55h2v1h-2zM49 54h2v1h-2zM51 54h2v1h-2zM53 54h2v1h-2zM55 54h2v1h-2zM57 54h2v1h-2zM59 53h2v2h-2zM61 53h2v2h-2zM63 53h2v2h-2zM65 53h2v2h-2zM67 53h2v2h-2zM69 53h2v2h-2zM71 53h2v2h-2zM73 53h2v2h-2zM75 53h2v2h-2zM77 53h2v2h-2zM79 52h2v3h-2zM81 52h2v3h-2zM83 52h2v3h-2zM85 52h2v2h-2zM87 52h2v2h-2zM89 52h2v2h-2zM91 52h2v2h-2zM93 51h2v3h-2zM95 51h2v3h-2zM97 51h2v3h-2zM99 51h2v3h-2zM101 51h2v2h-2zM103 50h2v3h-2zM105 50h2v2h-2zM107 50h2v2h-2zM109 50h2v2h-2zM111 49h2v2h-2zM113 49h2v2h-2zM115 49h2v2h-2zM117 49h2v2h-2zM119 48h1v2h-1z"/>
<path fill="#e37a4d" d="M9 75h2v1h-2zM11 74h2v1h-2zM13 72h2v1h-2zM15 70h2v1h-2zM17 69h2v1h-2zM19 68h2v1h-2zM21 66h2v2h-2zM23 65h2v1h-2zM25 64h2v2h-2zM27 63h2v2h-2zM29 62h2v2h-2zM31 62h2v1h-2zM33 61h2v1h-2zM35 61h2v1h-2zM37 60h2v2h-2zM39 60h2v1h-2zM41 60h2v1h-2zM43 60h2v1h-2zM45 60h2v1h-2zM47 60h2v1h-2zM49 60h2v1h-2zM51 60h2v2h-2zM53 61h2v1h-2zM55 61h2v2h-2zM57 62h2v2h-2zM59 62h2v2h-2zM61 63h2v2h-2zM63 63h2v2h-2zM65 63h2v2h-2zM67 63h2v2h-2zM69 63h2v2h-2zM71 63h2v3h-2zM73 64h2v2h-2zM75 64h2v2h-2zM77 64h2v3h-2zM79 64h2v3h-2zM81 64h2v3h-2zM83 64h2v3h-2zM85 64h2v3h-2zM87 64h2v3h-2zM89 64h2v3h-2zM91 64h2v3h-2zM93 64h2v3h-2zM95 64h2v3h-2zM97 64h2v3h-2zM99 64h2v3h-2zM101 64h2v2h-2zM103 64h2v2h-2zM105 63h2v3h-2zM107 63h2v3h-2zM109 63h2v2h-2zM111 62h2v3h-2zM113 62h2v3h-2zM115 62h2v2h-2zM117 62h2v2h-2zM119 61h1v3h-1z"/>
<path fill="#e0734d" d="M9 76h2v1h-2zM11 75h2v1h-2zM13 73h2v2h-2zM15 71h2v2h-2zM17 70h2v1h-2zM19 69h2v1h-2zM21 68h2v1h-2zM23 66h2v2h-2zM25 66h2v1h-2zM27 65h2v1h-2zM29 64h2v1h-2zM31 63h2v1h-2zM33 62h2v2h-2zM35 62h2v1h-2zM37 62h2v1h-2zM39 61h2v1h-2zM41 61h2v2h-2zM43 61h2v2h-2zM45 61h2v2h-2zM47 61h2v2h-2zM49 61h2v2h-2zM51 62h2v1h-2zM53 62h2v2h-2zM55 63h2v2h-2zM57 64h2v1h-2zM59 64h2v2h-2zM61 65h2v2h-2zM63 65h2v2h-2zM65 65h2v2h-2zM67 65h2v2h-2zM69 65h2v3h-2zM71 66h2v2h-2zM73 66h2v2h-2zM75 66h2v2h-2zM77 67h2v2h-2zM79 67h2v2h-2zM81 67h2v2h-2zM83 67h2v2h-2zM85 67h2v2h-2zM87 67h2v2h-2zM89 67h2v2h-2zM91 67h2v2h-2zM93 67h2v2h-2zM95 67h2v2h-2zM97 67h2v2h-2zM99 67h2v2h-2zM101 66h2v3h-2zM103 66h2v3h-2zM105 66h2v2h-2zM107 66h2v2h-2zM109 65h2v3h-2zM111 65h2v2h-2zM113 65h2v2h-2zM115 64h2v3h-2zM117 64h2v2h-2zM119 64h1v2h-1z"/>
<path fill="#de6d4c" d="M9 77h2v1h-2zM11 76h2v1h-2zM13 75h2v1h-2zM15 73h2v1h-2zM17 71h2v1h-2zM19 70h2v1h-2zM21 69h2v1h-2zM23 68h2v1h-2zM25 67h2v1h-2zM27 66h2v1h-2zM29 65h2v1h-2zM31 64h2v2h-2zM33 64h2v1h-2zM35 63h2v2h-2zM37 63h2v1h-2zM39 62h2v2h-2zM41 63h2v1h-2zM43 63h2v1h-2zM45 63h2v1h-2zM47 63h2v1h-2zM49 63h2v1h-2zM51 63h2v2h-2zM53 64h2v2h-2zM55 65h2v1h-2zM57 65h2v2h-2zM59 66h2v2h-2zM61 67h2v2h-2zM63 67h2v2h-2zM65 67h2v2h-2zM67 67h2v2h-2zM69 68h2v2h-2zM71 68h2v2h-2zM73 68h2v2h-2zM75 68h2v2h-2zM77 69h2v2h-2zM79 69h2v2h-2zM81 69h2v2h-2zM83 69h2v2h-2zM85 69h2v2h-2zM87 69h2v2h-2zM89 69h2v2h-2zM91 69h2v2h-2zM93 69h2v2h-2zM95 69h2v2h-2zM97 69h2v3h-2zM99 69h2v3h-2zM101 69h2v2h-2zM103 69h2v2h-2zM105 68h2v3h-2zM107 68h2v3h-2zM109 68h2v2h-2zM111 67h2v3h-2zM113 67h2v3h-2zM115 67h2v2h-2zM117 66h2v3h-2zM119 66h1v2h-1z"/>
<path fill="#da674b" d="M9 78h2v1h-2zM11 77h2v1h-2zM13 76h2v1h-2zM15 74h2v1h-2zM17 72h2v1h-2zM19 71h2v1h-2zM21 70h2v1h-2zM23 69h2v1h-2zM25 68h2v2h-2zM27 67h2v2h-2zM29 66h2v2h-2zM31 66h2v1h-2zM33 65h2v1h-2zM35 65h2v1h-2zM37 64h2v2h-2zM39 64h2v1h-2zM41 64h2v1h-2zM43 64h2v1h-2zM45 64h2v1h-2zM47 64h2v2h-2zM49 64h2v2h-2zM51 65h2v1h-2zM53 66h2v1h-2zM55 66h2v2h-2zM57 67h2v2h-2zM59 68h2v2h-2zM61 69h2v2h-2zM63 69h2v2h-2zM65 69h2v2h-2zM67 69h2v2h-2zM69 70h2v2h-2zM71 70h2v2h-2zM73 70h2v2h-2zM75 70h2v2h-2zM77 71h2v2h-2zM79 71h2v2h-2zM81 71h2v2h-2zM83 71h2v2h-2zM85 71h2v2h-2zM87 71h2v2h-2zM89 71h2v2h-2zM91 71h2v3h-2zM93 71h2v3h-2zM95 71h2v3h-2zM97 72h2v2h-2zM99 72h2v2h-2zM101 71h2v3h-2zM103 71h2v3h-2zM105 71h2v2h-2zM107 71h2v2h-2zM109 70h2v3h-2zM111 70h2v3h-2zM113 70h2v2h-2zM115 69h2v3h-2zM117 69h2v3h-2zM119 68h1v3h-1z"/>
<path fill="#d5624a" d="M9 79h2v1h-2zM15 75h2v1h-2zM17 73h2v2h-2zM19 72h2v2h-2zM21 71h2v2h-2zM23 70h2v2h-2zM25 70h2v1h-2zM27 69h2v1h-2zM29 68h2v1h-2zM31 67h2v1h-2zM33 66h2v2h-2zM35 66h2v1h-2zM37 66h2v1h-2zM39 65h2v1h-2zM41 65h2v2h-2zM43 65h2v2h-2zM45 65h2v2h-2zM47 66h2v1h-2zM49 66h2v1h-2zM51 66h2v2h-2zM53 67h2v2h-2zM55 68h2v3h-2zM57 69h2v2h-2zM59 70h2v2h-2zM61 71h2v2h-2zM63 71h2v2h-2zM65 71h2v2h-2zM67 71h2v2h-2zM69 72h2v2h-2zM71 72h2v2h-2zM73 72h2v2h-2zM75 72h2v2h-2zM77 73h2v2h-2zM79 73h2v2h-2zM81 73h2v2h-2zM83 73h2v2h-2zM85 73h2v2h-2zM87 73h2v3h-2zM89 73h2v3h-2zM91 74h2v2h-2zM93 74h2v2h-2zM95 74h2v2h-2zM97 74h2v2h-2zM99 74h2v2h-2zM101 74h2v2h-2zM103 74h2v2h-2zM105 73h2v3h-2zM107 73h2v3h-2zM109 73h2v3h-2zM111 73h2v2h-2zM113 72h2v3h-2zM115 72h2v3h-2zM117 72h2v3h-2zM119 71h1v4h-1z"/>
<path fill="#d05c4a" d="M9 80h2v2h-2zM11 78h2v1h-2zM13 77h2v1h-2zM15 76h2v1h-2zM17 75h2v1h-2zM19 74h2v1h-2zM21 73h2v1h-2zM23 72h2v1h-2zM25 71h2v2h-2zM27 70h2v2h-2zM29 69h2v2h-2zM31 68h2v2h-2zM33 68h2v2h-2zM35 67h2v2h-2zM37 67h2v1h-2zM39 66h2v2h-2zM41 67h2v1h-2zM43 67h2v1h-2zM45 67h2v2h-2zM47 67h2v2h-2zM49 67h2v3h-2zM51 68h2v3h-2zM53 69h2v3h-2zM55 71h2v2h-2zM57 71h2v3h-2zM59 72h2v2h-2zM61 73h2v2h-2zM63 73h2v2h-2zM65 73h2v2h-2zM67 73h2v2h-2zM69 74h2v2h-2zM71 74h2v2h-2zM73 74h2v2h-2zM75 74h2v2h-2zM77 75h2v2h-2zM79 75h2v2h-2zM81 75h2v2h-2zM83 75h2v2h-2zM85 75h2v2h-2zM87 76h2v1h-2zM89 76h2v1h-2zM91 76h2v1h-2zM93 76h2v1h-2zM95 76h2v1h-2zM97 76h2v1h-2zM99 76h2v1h-2zM101 76h2v1h-2zM103 76h2v1h-2zM105 76h2v1h-2zM107 76h2v1h-2zM109 76h2v1h-2zM111 75h2v2h-2zM113 75h2v2h-2zM115 75h2v2h-2zM117 75h2v2h-2zM119 75h1v2h-1z"/>
<path fill="#c55347" d="M9 85h2v5h-2zM11 80h2v2h-2zM13 79h2v1h-2zM15 78h2v1h-2zM17 77h2v1h-2zM19 76h2v1h-2zM21 75h2v2h-2zM23 74h2v2h-2zM25 74h2v2h-2zM27 74h2v1h-2zM29 73h2v2h-2zM31 72h2v2h-2zM33 72h2v2h-2zM35 72h2v2h-2zM37 71h2v3h-2zM39 70h2v4h-2zM41 71h2v3h-2zM43 71h2v3h-2zM45 72h2v3h-2zM47 72h2v3h-2zM49 73h2v3h-2zM51 74h2v2h-2zM53 74h2v3h-2zM55 75h2v2h-2zM57 76h2v2h-2zM59 76h2v2h-2zM61 77h2v2h-2zM63 77h2v2h-2zM65 77h2v2h-2zM67 77h2v2h-2zM69 77h2v2h-2zM71 78h2v1h-2zM73 78h2v1h-2zM75 78h2v2h-2zM77 78h2v2h-2zM79 78h2v2h-2zM81 78h2v2h-2zM83 78h2v2h-2zM85 78h2v2h-2zM87 78h2v2h-2zM89 78h2v2h-2zM91 78h2v2h-2zM93 79h2v1h-2zM95 79h2v1h-2zM97 79h2v1h-2zM99 79h2v1h-2zM101 79h2v1h-2zM103 79h2v1h-2zM105 79h2v1h-2zM107 78h2v2h-2zM109 78h2v2h-2zM111 78h2v2h-2zM113 78h2v2h-2zM115 78h2v2h-2zM117 78h2v2h-2zM119 78h1v2h-1z"/>
<path fill="#be5046" d="M9 90h2v10h-2zM11 82h2v4h-2zM13 80h2v2h-2zM15 79h2v1h-2zM17 78h2v1h-2zM19 77h2v1h-2zM21 77h2v1h-2zM23 76h2v1h-2zM25 76h2v1h-2zM27 75h2v2h-2zM29 75h2v1h-2zM31 74h2v2h-2zM33 74h2v2h-2zM35 74h2v2h-2zM37 74h2v2h-2zM39 74h2v2h-2zM41 74h2v3h-2zM43 74h2v3h-2zM45 75h2v3h-2zM47 75h2v3h-2zM49 76h2v2h-2zM51 76h2v3h-2zM53 77h2v2h-2zM55 77h2v3h-2zM57 78h2v2h-2zM59 78h2v3h-2zM61 79h2v2h-2zM63 79h2v3h-2zM65 79h2v3h-2zM67 79h2v3h-2zM69 79h2v3h-2zM71 79h2v4h-2zM73 79h2v4h-2zM75 80h2v3h-2zM77 80h2v3h-2zM79 80h2v3h-2zM81 80h2v3h-2zM83 80h2v3h-2zM85 80h2v3h-2zM87 80h2v3h-2zM89 80h2v3h-2zM91 80h2v3h-2zM93 80h2v3h-2zM95 80h2v3h-2zM97 80h2v3h-2zM99 80h2v3h-2zM101 80h2v3h-2zM103 80h2v3h-2zM105 80h2v3h-2zM107 80h2v3h-2zM109 80h2v3h-2zM111 80h2v3h-2zM113 80h2v3h-2zM115 80h2v3h-2zM117 80h2v3h-2zM119 80h1v3h-1z"/>
<path fill="#eda053" d="M11 66h2v1h-2zM13 65h2v1h-2zM15 64h2v1h-2zM19 61h2v1h-2zM21 59h2v1h-2zM23 58h2v1h-2zM25 58h2v1h-2zM27 57h2v1h-2zM29 56h2v1h-2zM31 56h2v1h-2zM33 55h2v1h-2zM35 55h2v1h-2zM37 55h2v1h-2zM39 54h2v1h-2zM41 54h2v1h-2zM43 54h2v1h-2zM45 54h2v1h-2zM47 54h2v1h-2zM49 53h2v1h-2zM51 53h2v1h-2zM53 53h2v1h-2zM55 53h2v1h-2zM57 52h2v2h-2zM59 52h2v1h-2zM61 52h2v1h-2zM63 52h2v1h-2zM65 51h2v2h-2zM67 51h2v2h-2zM69 51h2v2h-2zM71 51h2v2h-2zM73 51h2v2h-2zM75 51h2v2h-2zM77 51h2v2h-2zM79 51h2v1h-2zM81 50h2v2h-2zM83 50h2v2h-2zM85 50h2v2h-2zM87 50h2v2h-2zM89 50h2v2h-2zM91 50h2v2h-2zM93 50h2v1h-2zM95 49h2v2h-2zM97 49h2v2h-2zM99 49h2v2h-2zM101 49h2v2h-2zM103 48h2v2h-2zM105 48h2v2h-2zM107 48h2v2h-2zM109 48h2v2h-2zM111 47h2v2h-2zM113 47h2v2h-2zM115 47h2v2h-2zM117 47h2v2h-2zM119 46h1v2h-1z"/>
<path fill="#b24a42" d="M13 86h2v14h-2zM15 82h2v4h-2zM17 80h2v2h-2zM19 79h2v2h-2zM21 79h2v1h-2zM23 78h2v1h-2zM25 78h2v1h-2zM27 78h2v1h-2zM29 78h2v1h-2zM31 78h2v1h-2zM33 78h2v2h-2zM35 78h2v3h-2zM37 79h2v3h-2zM39 80h2v3h-2zM39 99h2v1h-2zM41 80h2v4h-2zM41 99h2v1h-2zM43 80h2v4h-2zM43 98h2v2h-2zM45 81h2v4h-2zM45 98h2v2h-2zM47 81h2v4h-2zM47 99h2v1h-2zM49 82h2v4h-2zM49 99h2v1h-2zM51 83h2v4h-2zM51 96h2v4h-2zM53 84h2v16h-2zM55 85h2v15h-2zM57 86h2v12h-2zM59 87h2v8h-2zM61 87h2v9h-2zM63 87h2v9h-2zM65 87h2v9h-2zM67 87h2v9h-2zM69 87h2v10h-2zM71 87h2v11h-2zM73 87h2v12h-2zM75 87h2v13h-2zM77 87h2v13h-2zM79 87h2v13h-2zM81 87h2v13h-2zM83 87h2v13h-2zM85 87h2v13h-2zM87 87h2v13h-2zM89 87h2v13h-2zM91 87h2v13h-2zM93 87h2v13h-2zM95 87h2v13h-2zM97 87h2v13h-2zM99 87h2v13h-2zM101 87h2v13h-2zM103 87h2v13h-2zM105 87h2v13h-2zM107 87h2v13h-2zM109 87h2v13h-2zM111 87h2v13h-2zM113 87h2v13h-2zM115 87h2v13h-2zM117 87h2v13h-2zM119 87h1v13h-1z"/>
<path fill="#ac4840" d="M15 86h2v14h-2zM17 82h2v3h-2zM19 81h2v4h-2zM21 80h2v3h-2zM23 79h2v3h-2zM25 79h2v3h-2zM27 79h2v3h-2zM29 79h2v3h-2zM31 79h2v3h-2zM33 80h2v3h-2zM33 98h2v2h-2zM35 81h2v4h-2zM35 95h2v5h-2zM37 82h2v4h-2zM37 92h2v8h-2zM39 83h2v4h-2zM39 89h2v10h-2zM41 84h2v15h-2zM43 84h2v14h-2zM45 85h2v13h-2zM47 85h2v14h-2zM49 86h2v13h-2zM51 87h2v9h-2z"/>
<path fill="#a6463f" d="M17 85h2v15h-2zM19 85h2v3h-2zM19 94h2v6h-2zM21 83h2v4h-2zM21 96h2v4h-2zM23 82h2v4h-2zM23 98h2v2h-2zM25 82h2v4h-2zM25 97h2v3h-2zM27 82h2v4h-2zM27 96h2v4h-2zM29 82h2v4h-2zM29 94h2v6h-2zM31 82h2v4h-2zM31 92h2v8h-2zM33 83h2v4h-2zM33 90h2v8h-2zM35 85h2v10h-2zM37 86h2v6h-2zM39 87h2v2h-2z"/>
<path fill="#a0443d" d="M19 88h2v6h-2zM21 87h2v9h-2zM23 86h2v12h-2zM25 86h2v11h-2zM27 86h2v10h-2zM29 86h2v8h-2zM31 86h2v6h-2zM33 87h2v3h-2z"/>
<path fill="#fffdc9" d="M29 8h2v2h-2zM31 6h2v4h-2zM33 5h2v5h-2zM35 4h2v6h-2zM37 3h2v7h-2zM39 2h2v8h-2zM41 1h2v9h-2zM43 1h2v9h-2zM45 1h2v9h-2zM47 1h2v9h-2zM49 1h2v9h-2zM51 1h2v7h-2zM53 1h2v6h-2zM55 1h2v4h-2z"/>
</g>
<g clip-path="url(#cpd)" fill="none" stroke="#a4a4a4" stroke-width="4.4" stroke-dasharray="17 8.2" stroke-dashoffset="8.5">
<polyline points="127.4,1428.3 127.5,1427.2 127.6,1425.1 127.9,1422.2 128.1,1418.8 128.5,1414.9 128.8,1410.7 129.2,1406.3 129.6,1401.6 130.1,1396.8 130.6,1391.9 131.1,1386.9 131.7,1381.9 132.3,1376.9 132.9,1371.8 133.5,1366.8 134.2,1361.8 134.9,1356.8 135.6,1351.9 136.4,1347.1 137.1,1342.3 137.9,1337.6 138.7,1332.9 139.6,1328.3 140.4,1323.8 141.3,1319.4 142.2,1315.0 143.1,1310.7 144.1,1306.5 145.0,1302.3 146.0,1298.3 147.0,1294.2 148.1,1290.3 149.1,1286.4 150.2,1282.6 151.2,1278.9 152.3,1275.2 153.5,1271.6 154.6,1268.0 155.7,1264.5 156.9,1261.1 158.1,1257.7 159.3,1254.4 160.5,1251.1 161.8,1247.9 163.0,1244.7 164.3,1241.6 165.6,1238.5 166.9,1235.5 168.2,1232.5 169.6,1229.6 170.9,1226.7 172.3,1223.9 173.7,1221.1 175.1,1218.3 176.5,1215.6 178.0,1212.9 179.4,1210.2 180.9,1207.6 182.4,1205.1 183.9,1202.5 185.4,1200.0 186.9,1197.5 188.5,1195.1 190.0,1192.7 191.6,1190.3 193.2,1188.0 194.8,1185.7 196.4,1183.4 198.0,1181.1 200.0,1178.5 210.4,1165.4 220.8,1153.9 231.2,1143.5 241.6,1134.0 252.0,1125.4 262.4,1117.5 272.8,1110.1 283.2,1103.3 293.6,1097.0 304.0,1091.0 314.4,1085.5 324.9,1080.2 335.3,1075.3 345.7,1070.6 356.1,1066.2 366.5,1062.0 376.9,1058.0 387.3,1054.2 397.7,1050.6 408.1,1047.2 418.5,1043.9 428.9,1040.8 439.3,1037.9 449.7,1035.0 460.1,1032.3 470.5,1029.7 480.9,1027.2 491.3,1024.8 501.7,1022.6 512.1,1020.4 522.5,1018.3 532.9,1016.3 543.3,1014.4 553.7,1012.5 564.1,1010.8 574.5,1009.1 585.0,1007.5 595.4,1005.9 605.8,1004.4 616.2,1003.0 626.6,1001.6 637.0,1000.3 647.4,999.1 657.8,997.9 668.2,996.8 678.6,995.7 689.0,994.6 699.4,993.6 709.8,992.6"/>
<polyline points="128.4,1428.3 128.5,1427.4 128.7,1425.5 128.9,1422.9 129.2,1419.9 129.5,1416.5 129.8,1412.8 130.2,1408.8 130.6,1404.6 131.1,1400.3 131.6,1395.9 132.1,1391.4 132.7,1386.8 133.2,1382.2 133.9,1377.5 134.5,1372.9 135.1,1368.3 135.8,1363.7 136.5,1359.1 137.3,1354.6 138.0,1350.1 138.8,1345.7 139.6,1341.3 140.4,1337.0 141.3,1332.7 142.1,1328.5 143.0,1324.4 143.9,1320.3 144.9,1316.3 145.8,1312.3 146.8,1308.4 147.8,1304.6 148.8,1300.8 149.8,1297.1 150.9,1293.4 151.9,1289.9 153.0,1286.3 154.1,1282.8 155.2,1279.4 156.4,1276.0 157.5,1272.7 158.7,1269.5 159.9,1266.3 161.1,1263.1 162.3,1260.0 163.6,1256.9 164.8,1253.9 166.1,1250.9 167.4,1248.0 168.7,1245.1 170.0,1242.3 171.3,1239.5 172.7,1236.8 174.1,1234.0 175.5,1231.4 176.9,1228.7 178.3,1226.1 179.7,1223.6 181.1,1221.1 182.6,1218.6 184.1,1216.1 185.6,1213.7 187.1,1211.3 188.6,1209.0 190.1,1206.7 191.7,1204.4 193.3,1202.1 194.8,1199.9 196.4,1197.7 198.0,1195.5 200.0,1192.9 210.4,1180.3 220.8,1169.1 231.2,1159.2 241.6,1150.3 252.0,1142.2 262.4,1134.9 272.8,1128.2 283.2,1122.0 293.6,1116.4 304.0,1111.2 314.4,1106.4 324.9,1102.0 335.3,1097.9 345.7,1094.1 356.1,1090.6 366.5,1087.3 376.9,1084.3 387.3,1081.5 397.7,1078.9 408.1,1076.5 418.5,1074.3 428.9,1072.2 439.3,1070.3 449.7,1068.5 460.1,1066.9 470.5,1065.4 480.9,1064.0 491.3,1062.8 501.7,1061.6 512.1,1060.5 522.5,1059.5 532.9,1058.6 543.3,1057.8 553.7,1057.1 564.1,1056.4 574.5,1055.8 585.0,1055.2 595.4,1054.7 605.8,1054.3 616.2,1053.9 626.6,1053.5 637.0,1053.1 647.4,1052.9 657.8,1052.6 668.2,1052.4 678.6,1052.1 689.0,1052.0 699.4,1051.8 709.8,1051.6"/>
<polyline points="129.6,1428.3 129.7,1427.5 129.8,1425.8 130.0,1423.6 130.3,1421.0 130.6,1418.0 131.0,1414.7 131.4,1411.2 131.8,1407.4 132.2,1403.6 132.7,1399.6 133.2,1395.5 133.8,1391.4 134.3,1387.2 134.9,1383.0 135.5,1378.7 136.2,1374.5 136.9,1370.3 137.6,1366.1 138.3,1361.9 139.0,1357.7 139.8,1353.6 140.6,1349.5 141.4,1345.5 142.2,1341.5 143.1,1337.6 144.0,1333.7 144.8,1329.8 145.8,1326.1 146.7,1322.3 147.6,1318.7 148.6,1315.0 149.6,1311.5 150.6,1308.0 151.6,1304.5 152.7,1301.1 153.8,1297.8 154.8,1294.5 155.9,1291.2 157.1,1288.0 158.2,1284.9 159.4,1281.8 160.5,1278.8 161.7,1275.8 162.9,1272.8 164.1,1269.9 165.4,1267.1 166.6,1264.3 167.9,1261.5 169.2,1258.8 170.5,1256.1 171.8,1253.5 173.1,1250.9 174.5,1248.4 175.8,1245.9 177.2,1243.4 178.6,1241.0 180.0,1238.6 181.4,1236.2 182.9,1233.9 184.3,1231.6 185.8,1229.4 187.3,1227.2 188.8,1225.0 190.3,1222.9 191.8,1220.8 193.3,1218.7 194.9,1216.7 196.5,1214.7 198.0,1212.7 200.0,1210.3 210.4,1198.9 220.8,1189.0 231.2,1180.4 241.6,1173.0 252.0,1166.5 262.4,1160.8 272.8,1155.9 283.2,1151.6 293.6,1147.8 304.0,1144.5 314.4,1141.6 324.9,1139.2 335.3,1137.0 345.7,1135.2 356.1,1133.6 366.5,1132.3 376.9,1131.2 387.3,1130.3 397.7,1129.5 408.1,1128.8 418.5,1128.3 428.9,1127.9 439.3,1127.5 449.7,1127.2 460.1,1127.0 470.5,1126.8 480.9,1126.7 491.3,1126.6 501.7,1126.5 512.1,1126.4 522.5,1126.4 532.9,1126.3 543.3,1126.3 553.7,1126.3 564.1,1126.3 574.5,1126.2 585.0,1126.2 595.4,1126.2 605.8,1126.2 616.2,1126.2 626.6,1126.2 637.0,1126.2 647.4,1126.2 657.8,1126.2 668.2,1126.2 678.6,1126.2 689.0,1126.2 699.4,1126.2 709.8,1126.2"/>
<polyline points="130.9,1428.3 131.0,1427.6 131.2,1426.2 131.4,1424.2 131.6,1422.0 131.9,1419.3 132.3,1416.5 132.7,1413.4 133.1,1410.1 133.5,1406.7 134.0,1403.2 134.5,1399.6 135.0,1395.9 135.6,1392.1 136.2,1388.4 136.8,1384.5 137.4,1380.7 138.1,1376.9 138.8,1373.1 139.5,1369.3 140.2,1365.5 140.9,1361.8 141.7,1358.1 142.5,1354.4 143.3,1350.8 144.2,1347.2 145.0,1343.6 145.9,1340.1 146.8,1336.6 147.7,1333.2 148.6,1329.9 149.6,1326.6 150.6,1323.3 151.6,1320.1 152.6,1317.0 153.6,1313.9 154.6,1310.8 155.7,1307.8 156.8,1304.9 157.9,1302.0 159.0,1299.2 160.1,1296.4 161.3,1293.7 162.4,1291.0 163.6,1288.4 164.8,1285.8 166.0,1283.3 167.2,1280.8 168.5,1278.4 169.7,1276.0 171.0,1273.7 172.3,1271.4 173.6,1269.2 174.9,1267.0 176.3,1264.9 177.6,1262.8 179.0,1260.7 180.4,1258.7 181.8,1256.8 183.2,1254.9 184.6,1253.0 186.0,1251.2 187.5,1249.4 188.9,1247.7 190.4,1246.0 191.9,1244.3 193.4,1242.7 194.9,1241.1 196.5,1239.6 198.0,1238.1 200.0,1236.3 210.4,1228.0 220.8,1221.4 231.2,1216.3 241.6,1212.3 252.0,1209.3 262.4,1207.1 272.8,1205.4 283.2,1204.2 293.6,1203.4 304.0,1202.8 314.4,1202.4 324.9,1202.2 335.3,1202.0 345.7,1201.9 356.1,1201.8 366.5,1201.8 376.9,1201.8 387.3,1201.8 397.7,1201.7 408.1,1201.7 418.5,1201.7 428.9,1201.7 439.3,1201.7 449.7,1201.7 460.1,1201.7 470.5,1201.7 480.9,1201.7 491.3,1201.7 501.7,1201.7 512.1,1201.7 522.5,1201.7 532.9,1201.7 543.3,1201.7 553.7,1201.7 564.1,1201.7 574.5,1201.7 585.0,1201.7 595.4,1201.7 605.8,1201.7 616.2,1201.7 626.6,1201.7 637.0,1201.7 647.4,1201.7 657.8,1201.7 668.2,1201.7 678.6,1201.7 689.0,1201.7 699.4,1201.7 709.8,1201.7"/>
<polyline points="131.7,1428.3 131.8,1427.6 131.9,1426.3 132.1,1424.6 132.4,1422.5 132.7,1420.0 133.0,1417.4 133.4,1414.5 133.8,1411.5 134.3,1408.3 134.7,1405.1 135.2,1401.7 135.7,1398.3 136.3,1394.8 136.9,1391.2 137.5,1387.7 138.1,1384.1 138.8,1380.5 139.4,1377.0 140.1,1373.4 140.8,1369.9 141.6,1366.4 142.4,1362.9 143.1,1359.4 143.9,1356.0 144.8,1352.7 145.6,1349.4 146.5,1346.1 147.4,1342.9 148.3,1339.7 149.2,1336.6 150.1,1333.5 151.1,1330.5 152.1,1327.5 153.1,1324.6 154.1,1321.8 155.1,1319.0 156.2,1316.3 157.2,1313.6 158.3,1311.0 159.4,1308.4 160.5,1305.9 161.7,1303.4 162.8,1301.0 164.0,1298.7 165.2,1296.4 166.4,1294.2 167.6,1292.0 168.8,1289.9 170.1,1287.8 171.3,1285.8 172.6,1283.9 173.9,1282.0 175.2,1280.1 176.5,1278.3 177.8,1276.6 179.2,1274.9 180.6,1273.3 181.9,1271.7 183.3,1270.1 184.7,1268.6 186.2,1267.2 187.6,1265.8 189.0,1264.5 190.5,1263.2 192.0,1261.9 193.5,1260.7 195.0,1259.5 196.5,1258.4 198.0,1257.4 200.0,1256.1 210.4,1250.4 220.8,1246.5 231.2,1243.8 241.6,1242.1 252.0,1241.0 262.4,1240.3 272.8,1239.9 283.2,1239.7 293.6,1239.6 304.0,1239.6 314.4,1239.5 324.9,1239.5 335.3,1239.5 345.7,1239.5 356.1,1239.5 366.5,1239.5 376.9,1239.5 387.3,1239.5 397.7,1239.5 408.1,1239.5 418.5,1239.5 428.9,1239.5 439.3,1239.5 449.7,1239.5 460.1,1239.5 470.5,1239.5 480.9,1239.5 491.3,1239.5 501.7,1239.5 512.1,1239.5 522.5,1239.5 532.9,1239.5 543.3,1239.5 553.7,1239.5 564.1,1239.5 574.5,1239.5 585.0,1239.5 595.4,1239.5 605.8,1239.5 616.2,1239.5 626.6,1239.5 637.0,1239.5 647.4,1239.5 657.8,1239.5 668.2,1239.5 678.6,1239.5 689.0,1239.5 699.4,1239.5 709.8,1239.5"/>
<polyline points="134.3,1428.3 134.4,1427.8 134.5,1426.9 134.7,1425.6 135.0,1424.0 135.3,1422.2 135.6,1420.3 135.9,1418.2 136.3,1416.0 136.7,1413.6 137.2,1411.2 137.7,1408.7 138.2,1406.2 138.7,1403.7 139.3,1401.1 139.8,1398.5 140.4,1395.9 141.1,1393.3 141.7,1390.7 142.4,1388.2 143.1,1385.7 143.8,1383.2 144.5,1380.8 145.3,1378.4 146.1,1376.0 146.9,1373.8 147.7,1371.6 148.5,1369.4 149.4,1367.3 150.2,1365.3 151.1,1363.3 152.0,1361.5 152.9,1359.6 153.9,1357.9 154.8,1356.2 155.8,1354.6 156.8,1353.1 157.8,1351.7 158.8,1350.3 159.9,1349.0 160.9,1347.7 162.0,1346.6 163.1,1345.5 164.2,1344.4 165.3,1343.5 166.5,1342.6 167.6,1341.7 168.8,1340.9 170.0,1340.2 171.2,1339.6 172.4,1338.9 173.6,1338.4 174.8,1337.9 176.1,1337.4 177.4,1337.0 178.6,1336.6 179.9,1336.2 181.2,1335.9 182.6,1335.7 183.9,1335.4 185.3,1335.2 186.6,1335.0 188.0,1334.8 189.4,1334.7 190.8,1334.6 192.2,1334.5 193.7,1334.4 195.1,1334.3 196.6,1334.2 198.0,1334.2 200.0,1334.1 210.4,1333.9 220.8,1333.9 231.2,1333.9 241.6,1333.9 252.0,1333.9 262.4,1333.9 272.8,1333.9 283.2,1333.9 293.6,1333.9 304.0,1333.9 314.4,1333.9 324.9,1333.9 335.3,1333.9 345.7,1333.9 356.1,1333.9 366.5,1333.9 376.9,1333.9 387.3,1333.9 397.7,1333.9 408.1,1333.9 418.5,1333.9 428.9,1333.9 439.3,1333.9 449.7,1333.9 460.1,1333.9 470.5,1333.9 480.9,1333.9 491.3,1333.9 501.7,1333.9 512.1,1333.9 522.5,1333.9 532.9,1333.9 543.3,1333.9 553.7,1333.9 564.1,1333.9 574.5,1333.9 585.0,1333.9 595.4,1333.9 605.8,1333.9 616.2,1333.9 626.6,1333.9 637.0,1333.9 647.4,1333.9 657.8,1333.9 668.2,1333.9 678.6,1333.9 689.0,1333.9 699.4,1333.9 709.8,1333.9"/>
</g>
<text x="656.50" y="1031.30" font-size="26" text-anchor="middle">9.4</text>
<text x="656.50" y="1083.50" font-size="26" text-anchor="middle">9.0</text>
<text x="656.50" y="1159.10" font-size="26" text-anchor="middle">8.6</text>
<text x="656.50" y="1229.40" font-size="26" text-anchor="middle">8.2</text>
<text x="656.50" y="1272.00" font-size="26" text-anchor="middle">8.0</text>
<text x="656.50" y="1367.70" font-size="26" text-anchor="middle">7.5</text>
<rect x="119.3" y="956.3" width="590.50" height="472.00" stroke="#000" stroke-width="2.1" fill="none"/>
<path d="M119.30 1428.30v12.5M119.30 956.30v-12.5M217.72 1428.30v12.5M217.72 956.30v-12.5M316.13 1428.30v12.5M316.13 956.30v-12.5M414.55 1428.30v12.5M414.55 956.30v-12.5M512.97 1428.30v12.5M512.97 956.30v-12.5M611.38 1428.30v12.5M611.38 956.30v-12.5M709.80 1428.30v12.5M709.80 956.30v-12.5M119.30 956.30h-12.5M709.80 956.30h12.5M119.30 975.18h-7.0M709.80 975.18h7.0M119.30 994.06h-7.0M709.80 994.06h7.0M119.30 1012.94h-7.0M709.80 1012.94h7.0M119.30 1031.82h-7.0M709.80 1031.82h7.0M119.30 1050.70h-12.5M709.80 1050.70h12.5M119.30 1069.58h-7.0M709.80 1069.58h7.0M119.30 1088.46h-7.0M709.80 1088.46h7.0M119.30 1107.34h-7.0M709.80 1107.34h7.0M119.30 1126.22h-7.0M709.80 1126.22h7.0M119.30 1145.10h-12.5M709.80 1145.10h12.5M119.30 1163.98h-7.0M709.80 1163.98h7.0M119.30 1182.86h-7.0M709.80 1182.86h7.0M119.30 1201.74h-7.0M709.80 1201.74h7.0M119.30 1220.62h-7.0M709.80 1220.62h7.0M119.30 1239.50h-12.5M709.80 1239.50h12.5M119.30 1258.38h-7.0M709.80 1258.38h7.0M119.30 1277.26h-7.0M709.80 1277.26h7.0M119.30 1296.14h-7.0M709.80 1296.14h7.0M119.30 1315.02h-7.0M709.80 1315.02h7.0M119.30 1333.90h-12.5M709.80 1333.90h12.5M119.30 1352.78h-7.0M709.80 1352.78h7.0M119.30 1371.66h-7.0M709.80 1371.66h7.0M119.30 1390.54h-7.0M709.80 1390.54h7.0M119.30 1409.42h-7.0M709.80 1409.42h7.0M119.30 1428.30h-12.5M709.80 1428.30h12.5" stroke="#000" stroke-width="2.1" fill="none"/>
<text x="85.60" y="967.10" font-size="29" text-anchor="end">9.5</text>
<text x="85.60" y="1061.50" font-size="29" text-anchor="end">9.0</text>
<text x="85.60" y="1155.90" font-size="29" text-anchor="end">8.5</text>
<text x="85.60" y="1250.30" font-size="29" text-anchor="end">8.0</text>
<text x="85.60" y="1344.70" font-size="29" text-anchor="end">7.5</text>
<text x="85.60" y="1439.10" font-size="29" text-anchor="end">7.0</text>
<text x="119.30" y="1483.30" font-size="29" text-anchor="middle">0</text>
<text x="217.72" y="1483.30" font-size="29" text-anchor="middle">50</text>
<text x="316.13" y="1483.30" font-size="29" text-anchor="middle">100</text>
<text x="414.55" y="1483.30" font-size="29" text-anchor="middle">150</text>
<text x="512.97" y="1483.30" font-size="29" text-anchor="middle">200</text>
<text x="611.38" y="1483.30" font-size="29" text-anchor="middle">250</text>
<text x="709.80" y="1483.30" font-size="29" text-anchor="middle">300</text>
<text x="414.55" y="1521.00" font-size="29.5" text-anchor="middle">Time after origin [s]</text>
<text transform="translate(22.8,1193.3) rotate(-90)" font-size="29" text-anchor="middle">M<tspan font-size="20" dy="8.3">w</tspan></text>
<text x="2.70" y="968.20" font-size="33" text-anchor="start" font-weight="bold">d</text>
<rect x="828.4" y="956.3" width="590.40" height="472.00" fill="#fff"/>
<g transform="translate(828.4,956.3) scale(4.92000,4.72000)" shape-rendering="crispEdges">
<path fill="#de6d4c" d="M0 93h1v7h-1zM1 77h2v1h-2zM3 70h2v4h-2zM5 45h2v5h-2zM9 24h2v3h-2zM9 73h2v1h-2zM11 24h2v4h-2zM11 71h2v1h-2zM13 70h2v1h-2zM15 68h2v1h-2zM17 67h2v1h-2zM19 66h2v1h-2zM23 63h2v1h-2zM25 62h2v1h-2zM27 61h2v1h-2zM29 59h2v1h-2zM31 58h2v1h-2zM35 57h2v1h-2zM37 56h2v1h-2zM41 55h2v1h-2zM43 55h2v1h-2zM45 54h2v1h-2zM47 54h2v1h-2zM51 53h2v1h-2zM53 53h2v1h-2zM55 53h2v1h-2zM57 53h2v1h-2zM59 52h2v1h-2zM61 52h2v1h-2zM63 52h2v1h-2zM65 52h2v1h-2zM67 52h2v1h-2zM69 52h2v1h-2zM71 52h2v1h-2zM73 52h2v1h-2zM75 52h2v1h-2zM77 52h2v1h-2zM79 52h2v1h-2zM81 52h2v1h-2zM83 52h2v1h-2zM85 52h2v1h-2zM87 52h2v1h-2zM89 52h2v1h-2zM91 52h2v1h-2zM93 52h2v1h-2zM95 52h2v1h-2zM97 52h2v1h-2zM99 52h2v1h-2zM101 52h2v1h-2zM103 52h2v1h-2zM105 52h2v1h-2zM107 52h2v1h-2zM109 52h2v1h-2zM111 52h2v1h-2zM113 52h2v1h-2zM115 52h2v1h-2zM117 52h2v1h-2zM119 52h1v1h-1z"/>
<path fill="#1c190b" d="M1 66h2v7h-2zM3 49h2v6h-2zM5 39h2v3h-2zM9 14h2v8h-2zM11 14h2v6h-2zM13 17h2v3h-2zM15 18h2v2h-2zM31 4h2v1h-2z"/>
<path fill="#322114" d="M1 73h2v4h-2z"/>
<path fill="#e7864f" d="M1 78h2v22h-2zM3 74h2v26h-2zM5 62h2v38h-2zM7 79h2v14h-2zM9 69h2v1h-2zM11 68h2v1h-2zM15 65h2v1h-2zM17 64h2v1h-2zM21 61h2v1h-2zM23 60h2v1h-2zM27 57h2v1h-2zM29 56h2v1h-2zM31 55h2v1h-2zM35 54h2v1h-2zM37 53h2v1h-2zM39 52h2v1h-2zM41 52h2v1h-2zM43 51h2v1h-2zM45 51h2v1h-2zM47 50h2v1h-2zM49 50h2v1h-2zM51 50h2v1h-2zM53 49h2v1h-2zM55 49h2v1h-2zM57 49h2v1h-2zM59 49h2v1h-2zM61 48h2v1h-2zM63 48h2v1h-2zM65 48h2v1h-2zM67 48h2v1h-2zM69 48h2v1h-2zM71 48h2v1h-2zM73 48h2v1h-2zM75 47h2v2h-2zM77 47h2v1h-2zM79 47h2v1h-2zM81 47h2v1h-2zM83 47h2v1h-2zM85 47h2v1h-2zM87 47h2v1h-2zM89 46h2v2h-2zM91 46h2v2h-2zM93 46h2v2h-2zM95 46h2v1h-2zM97 46h2v1h-2zM99 46h2v1h-2zM101 46h2v1h-2zM103 46h2v1h-2zM105 46h2v1h-2zM107 45h2v2h-2zM109 45h2v2h-2zM111 45h2v2h-2zM113 45h2v2h-2zM115 45h2v2h-2zM117 45h2v2h-2zM119 45h1v2h-1z"/>
<path fill="#4a291c" d="M3 55h2v7h-2zM11 20h2v2h-2z"/>
<path fill="#79382e" d="M3 62h2v4h-2z"/>
<path fill="#b84c44" d="M3 66h2v4h-2zM5 42h2v3h-2zM11 22h2v2h-2zM11 81h2v6h-2zM13 76h2v3h-2zM15 74h2v1h-2zM17 73h2v1h-2zM19 72h2v1h-2zM21 71h2v1h-2zM23 70h2v1h-2zM25 68h2v2h-2zM27 67h2v1h-2zM29 66h2v1h-2zM31 65h2v1h-2zM33 64h2v1h-2zM35 63h2v2h-2zM37 63h2v1h-2zM39 62h2v1h-2zM41 61h2v2h-2zM43 61h2v1h-2zM45 60h2v2h-2zM47 60h2v1h-2zM49 60h2v1h-2zM51 59h2v2h-2zM53 59h2v1h-2zM55 59h2v1h-2zM57 59h2v1h-2zM59 59h2v1h-2zM61 59h2v1h-2zM63 59h2v1h-2zM65 59h2v1h-2zM67 59h2v1h-2zM69 59h2v1h-2zM71 59h2v2h-2zM73 59h2v2h-2zM75 59h2v2h-2zM77 59h2v2h-2zM79 59h2v2h-2zM81 60h2v1h-2zM83 60h2v1h-2zM85 60h2v2h-2zM87 60h2v2h-2zM89 60h2v2h-2zM91 60h2v2h-2zM93 60h2v2h-2zM95 60h2v2h-2zM97 60h2v2h-2zM99 60h2v2h-2zM101 60h2v2h-2zM103 60h2v2h-2zM105 60h2v2h-2zM107 60h2v2h-2zM109 60h2v2h-2zM111 60h2v2h-2zM113 60h2v2h-2zM115 60h2v2h-2zM117 60h2v2h-2zM119 60h1v2h-1z"/>
<path fill="#cb5748" d="M5 50h2v12h-2zM9 78h2v3h-2zM11 75h2v1h-2zM13 73h2v1h-2zM15 72h2v1h-2zM17 70h2v1h-2zM19 69h2v1h-2zM21 68h2v1h-2zM23 67h2v1h-2zM25 66h2v1h-2zM27 64h2v1h-2zM29 63h2v1h-2zM31 62h2v1h-2zM33 61h2v1h-2zM35 60h2v1h-2zM37 59h2v1h-2zM39 59h2v1h-2zM41 58h2v1h-2zM43 58h2v1h-2zM45 58h2v1h-2zM47 57h2v1h-2zM49 57h2v1h-2zM51 57h2v1h-2zM53 57h2v1h-2zM57 56h2v1h-2zM59 56h2v1h-2zM61 56h2v1h-2zM63 56h2v1h-2zM65 56h2v1h-2zM67 56h2v1h-2zM69 56h2v1h-2zM71 56h2v1h-2zM73 56h2v1h-2zM75 56h2v1h-2zM77 56h2v1h-2zM79 56h2v1h-2zM81 56h2v1h-2zM83 56h2v1h-2zM85 56h2v1h-2zM87 56h2v1h-2zM89 56h2v2h-2zM91 56h2v2h-2zM93 56h2v2h-2zM95 57h2v1h-2zM97 57h2v1h-2zM99 57h2v1h-2zM101 57h2v1h-2zM103 57h2v1h-2zM105 57h2v1h-2zM107 57h2v1h-2zM109 57h2v1h-2zM111 57h2v1h-2zM113 57h2v1h-2zM115 57h2v1h-2zM117 57h2v1h-2zM119 57h1v1h-1z"/>
<path fill="#fef9c1" d="M7 27h2v10h-2zM9 30h2v12h-2zM11 30h2v12h-2zM13 26h2v10h-2zM15 26h2v3h-2zM17 21h2v6h-2zM19 18h2v8h-2zM21 15h2v9h-2zM23 14h2v9h-2zM25 11h2v11h-2zM27 16h2v5h-2zM37 1h2v1h-2zM55 1h2v1h-2zM57 1h2v3h-2zM57 5h2v12h-2zM59 1h2v17h-2zM61 1h2v16h-2zM63 2h2v15h-2zM65 2h2v15h-2zM67 3h2v13h-2zM69 3h2v13h-2zM71 3h2v13h-2zM73 4h2v12h-2zM75 5h2v10h-2zM77 5h2v10h-2zM79 6h2v9h-2zM81 6h2v8h-2zM83 6h2v8h-2zM85 6h2v7h-2zM87 5h2v8h-2zM89 5h2v8h-2zM91 5h2v7h-2zM93 5h2v7h-2zM95 5h2v7h-2zM97 5h2v6h-2zM99 5h2v6h-2zM101 5h2v6h-2zM103 4h2v6h-2zM105 1h2v9h-2zM107 1h2v8h-2zM109 1h2v8h-2zM111 1h2v8h-2zM113 1h2v7h-2zM115 1h2v7h-2zM117 1h2v6h-2zM119 1h1v6h-1z"/>
<path fill="#f4cb68" d="M7 37h2v6h-2zM7 59h2v2h-2zM9 60h2v1h-2zM11 59h2v1h-2zM13 57h2v1h-2zM15 55h2v1h-2zM17 54h2v1h-2zM19 52h2v1h-2zM21 50h2v2h-2zM23 49h2v1h-2zM25 47h2v1h-2zM27 46h2v1h-2zM29 45h2v1h-2zM31 44h2v1h-2zM33 42h2v2h-2zM35 5h2v4h-2zM35 41h2v2h-2zM37 40h2v1h-2zM39 5h2v4h-2zM39 39h2v1h-2zM41 38h2v2h-2zM43 38h2v1h-2zM45 37h2v2h-2zM47 37h2v1h-2zM49 37h2v1h-2zM51 36h2v1h-2zM53 36h2v1h-2zM55 36h2v1h-2zM57 35h2v2h-2zM59 35h2v1h-2zM61 35h2v1h-2zM63 34h2v1h-2zM65 34h2v1h-2zM67 33h2v1h-2zM69 33h2v1h-2zM71 33h2v1h-2zM73 32h2v1h-2zM75 32h2v1h-2zM77 32h2v1h-2zM81 31h2v1h-2zM83 31h2v1h-2zM85 31h2v1h-2zM87 30h2v1h-2zM89 30h2v1h-2zM91 30h2v1h-2zM93 29h2v1h-2zM95 29h2v1h-2zM97 29h2v1h-2zM99 29h2v1h-2zM101 28h2v1h-2zM103 28h2v1h-2zM105 27h2v1h-2zM107 27h2v1h-2zM109 26h2v1h-2zM111 26h2v1h-2zM113 26h2v1h-2zM115 25h2v1h-2zM117 25h2v1h-2zM119 25h1v1h-1z"/>
<path fill="#fceea3" d="M7 43h2v1h-2zM9 50h2v2h-2zM11 49h2v2h-2zM13 47h2v2h-2zM15 46h2v1h-2zM17 44h2v2h-2zM19 41h2v3h-2zM21 37h2v4h-2zM23 35h2v3h-2zM25 33h2v3h-2zM27 32h2v2h-2zM29 31h2v2h-2zM31 31h2v1h-2zM33 30h2v2h-2zM35 30h2v1h-2zM37 29h2v2h-2zM39 2h2v3h-2zM39 29h2v1h-2zM41 3h2v2h-2zM41 29h2v1h-2zM43 28h2v2h-2zM45 28h2v1h-2zM47 1h2v4h-2zM47 27h2v2h-2zM49 27h2v2h-2zM51 27h2v1h-2zM53 26h2v2h-2zM55 26h2v2h-2zM57 26h2v2h-2zM59 26h2v2h-2zM61 25h2v2h-2zM63 25h2v2h-2zM65 25h2v2h-2zM67 25h2v1h-2zM69 24h2v2h-2zM71 24h2v2h-2zM73 24h2v1h-2zM75 24h2v1h-2zM77 23h2v2h-2zM79 23h2v2h-2zM81 23h2v1h-2zM83 23h2v1h-2zM85 22h2v2h-2zM87 22h2v1h-2zM89 22h2v1h-2zM91 21h2v2h-2zM93 21h2v1h-2zM95 21h2v1h-2zM97 20h2v2h-2zM99 20h2v1h-2zM101 20h2v1h-2zM103 19h2v2h-2zM105 18h2v2h-2zM107 18h2v2h-2zM109 17h2v3h-2zM111 17h2v2h-2zM113 17h2v2h-2zM115 16h2v2h-2zM117 16h2v2h-2zM119 16h1v1h-1z"/>
<path fill="#fbe99a" d="M7 44h2v2h-2zM9 52h2v1h-2zM11 51h2v1h-2zM13 49h2v1h-2zM15 24h2v2h-2zM15 47h2v2h-2zM17 46h2v1h-2zM19 44h2v1h-2zM21 41h2v3h-2zM23 38h2v3h-2zM25 36h2v2h-2zM27 34h2v2h-2zM29 33h2v2h-2zM31 32h2v2h-2zM33 32h2v1h-2zM35 9h2v3h-2zM35 31h2v2h-2zM37 31h2v1h-2zM39 30h2v2h-2zM41 30h2v1h-2zM43 30h2v1h-2zM45 29h2v2h-2zM47 29h2v1h-2zM49 29h2v1h-2zM51 28h2v2h-2zM53 28h2v2h-2zM55 28h2v1h-2zM57 28h2v1h-2zM59 28h2v1h-2zM61 27h2v2h-2zM63 27h2v1h-2zM65 27h2v1h-2zM67 26h2v2h-2zM69 26h2v2h-2zM71 26h2v1h-2zM73 25h2v2h-2zM75 25h2v2h-2zM77 25h2v2h-2zM79 25h2v1h-2zM81 24h2v2h-2zM83 24h2v1h-2zM85 24h2v1h-2zM87 23h2v2h-2zM89 23h2v1h-2zM91 23h2v1h-2zM93 22h2v2h-2zM95 22h2v1h-2zM97 22h2v1h-2zM99 21h2v2h-2zM101 21h2v1h-2zM103 21h2v1h-2zM105 20h2v2h-2zM107 20h2v1h-2zM109 20h2v1h-2zM111 19h2v2h-2zM113 19h2v1h-2zM115 18h2v2h-2zM117 18h2v2h-2zM119 17h1v2h-1z"/>
<path fill="#fae491" d="M7 46h2v3h-2zM9 53h2v2h-2zM11 52h2v2h-2zM13 50h2v2h-2zM15 49h2v1h-2zM17 47h2v2h-2zM19 45h2v2h-2zM21 44h2v1h-2zM23 41h2v3h-2zM25 38h2v3h-2zM27 36h2v3h-2zM29 35h2v2h-2zM31 34h2v2h-2zM33 33h2v2h-2zM35 33h2v1h-2zM37 32h2v2h-2zM39 32h2v1h-2zM41 31h2v2h-2zM43 31h2v1h-2zM45 31h2v1h-2zM47 30h2v2h-2zM49 30h2v1h-2zM51 30h2v1h-2zM53 30h2v1h-2zM55 29h2v2h-2zM57 29h2v1h-2zM59 29h2v1h-2zM61 29h2v1h-2zM63 28h2v2h-2zM65 28h2v1h-2zM67 28h2v1h-2zM69 28h2v1h-2zM71 27h2v2h-2zM73 27h2v1h-2zM75 27h2v1h-2zM77 27h2v1h-2zM79 26h2v2h-2zM81 26h2v1h-2zM83 25h2v2h-2zM85 25h2v1h-2zM87 25h2v1h-2zM89 24h2v2h-2zM91 24h2v1h-2zM93 24h2v1h-2zM95 23h2v1h-2zM97 23h2v1h-2zM99 23h2v1h-2zM101 22h2v1h-2zM103 22h2v1h-2zM105 22h2v1h-2zM107 21h2v1h-2zM109 21h2v1h-2zM111 21h2v1h-2zM113 20h2v1h-2zM115 20h2v1h-2zM117 20h2v1h-2zM119 19h1v2h-1z"/>
<path fill="#f8e088" d="M7 49h2v2h-2zM9 55h2v1h-2zM11 54h2v1h-2zM13 52h2v1h-2zM15 50h2v2h-2zM17 49h2v1h-2zM19 47h2v1h-2zM21 45h2v2h-2zM23 44h2v1h-2zM25 41h2v3h-2zM27 39h2v2h-2zM29 37h2v2h-2zM31 36h2v2h-2zM33 11h2v5h-2zM33 35h2v2h-2zM35 34h2v2h-2zM37 34h2v1h-2zM39 33h2v1h-2zM41 33h2v1h-2zM43 32h2v2h-2zM45 32h2v1h-2zM47 32h2v1h-2zM49 31h2v2h-2zM51 31h2v1h-2zM53 31h2v1h-2zM55 31h2v1h-2zM57 30h2v2h-2zM59 30h2v1h-2zM61 30h2v1h-2zM63 30h2v1h-2zM65 29h2v1h-2zM67 29h2v1h-2zM69 29h2v1h-2zM71 29h2v1h-2zM73 28h2v1h-2zM75 28h2v1h-2zM77 28h2v1h-2zM79 28h2v1h-2zM81 27h2v1h-2zM83 27h2v1h-2zM85 26h2v2h-2zM87 26h2v1h-2zM89 26h2v1h-2zM91 25h2v1h-2zM93 25h2v1h-2zM95 24h2v2h-2zM97 24h2v1h-2zM99 24h2v1h-2zM101 23h2v2h-2zM103 23h2v1h-2zM105 23h2v1h-2zM107 22h2v1h-2zM109 22h2v1h-2zM111 22h2v1h-2zM113 21h2v1h-2zM115 21h2v1h-2zM117 21h2v1h-2zM119 21h1v1h-1z"/>
<path fill="#f7db7f" d="M7 51h2v3h-2zM9 56h2v1h-2zM11 55h2v1h-2zM13 53h2v1h-2zM15 52h2v1h-2zM17 50h2v2h-2zM19 48h2v2h-2zM21 47h2v1h-2zM23 45h2v1h-2zM25 44h2v1h-2zM27 11h2v5h-2zM27 41h2v3h-2zM29 39h2v2h-2zM31 38h2v2h-2zM33 37h2v1h-2zM35 36h2v1h-2zM37 2h2v4h-2zM37 35h2v2h-2zM39 9h2v5h-2zM39 34h2v2h-2zM41 34h2v1h-2zM43 34h2v1h-2zM45 33h2v2h-2zM47 33h2v1h-2zM49 33h2v1h-2zM51 32h2v2h-2zM53 32h2v1h-2zM55 32h2v1h-2zM57 32h2v1h-2zM59 31h2v2h-2zM61 31h2v1h-2zM63 31h2v1h-2zM65 30h2v2h-2zM67 30h2v1h-2zM69 30h2v1h-2zM71 30h2v1h-2zM73 29h2v1h-2zM75 29h2v1h-2zM77 29h2v1h-2zM79 29h2v1h-2zM81 28h2v1h-2zM83 28h2v1h-2zM85 28h2v1h-2zM87 27h2v1h-2zM89 27h2v1h-2zM91 26h2v2h-2zM93 26h2v1h-2zM95 26h2v1h-2zM97 25h2v2h-2zM99 25h2v1h-2zM101 25h2v1h-2zM103 24h2v1h-2zM105 24h2v1h-2zM107 23h2v2h-2zM109 23h2v1h-2zM111 23h2v1h-2zM113 22h2v1h-2zM115 22h2v1h-2zM117 22h2v1h-2z"/>
<path fill="#f6d677" d="M7 54h2v2h-2zM9 57h2v2h-2zM11 56h2v2h-2zM13 54h2v2h-2zM15 53h2v1h-2zM17 52h2v1h-2zM19 50h2v1h-2zM21 48h2v1h-2zM23 46h2v1h-2zM25 45h2v1h-2zM27 44h2v1h-2zM29 9h2v7h-2zM29 41h2v3h-2zM31 40h2v2h-2zM33 38h2v2h-2zM35 37h2v2h-2zM37 37h2v1h-2zM39 36h2v1h-2zM41 35h2v2h-2zM43 35h2v1h-2zM45 35h2v1h-2zM47 34h2v2h-2zM49 34h2v1h-2zM51 34h2v1h-2zM53 33h2v2h-2zM55 33h2v1h-2zM57 33h2v1h-2zM59 33h2v1h-2zM61 32h2v1h-2zM63 32h2v1h-2zM65 32h2v1h-2zM67 31h2v1h-2zM69 31h2v1h-2zM71 31h2v1h-2zM73 30h2v1h-2zM75 30h2v1h-2zM77 30h2v1h-2zM79 30h2v1h-2zM81 29h2v1h-2zM83 29h2v1h-2zM85 29h2v1h-2zM87 28h2v1h-2zM89 28h2v1h-2zM91 28h2v1h-2zM93 27h2v1h-2zM95 27h2v1h-2zM97 27h2v1h-2zM99 26h2v1h-2zM101 26h2v1h-2zM103 25h2v1h-2zM105 25h2v1h-2zM107 25h2v1h-2zM109 24h2v1h-2zM111 24h2v1h-2zM113 23h2v2h-2zM115 23h2v1h-2zM117 23h2v1h-2zM119 22h1v2h-1z"/>
<path fill="#f5d06f" d="M7 56h2v3h-2zM9 59h2v1h-2zM11 58h2v1h-2zM13 56h2v1h-2zM15 54h2v1h-2zM17 53h2v1h-2zM19 51h2v1h-2zM21 49h2v1h-2zM23 47h2v2h-2zM25 46h2v1h-2zM27 45h2v1h-2zM29 44h2v1h-2zM31 11h2v5h-2zM31 42h2v2h-2zM33 40h2v2h-2zM35 39h2v2h-2zM37 38h2v2h-2zM39 37h2v2h-2zM41 37h2v1h-2zM43 36h2v2h-2zM45 36h2v1h-2zM47 36h2v1h-2zM49 35h2v2h-2zM51 35h2v1h-2zM53 35h2v1h-2zM55 34h2v2h-2zM57 34h2v1h-2zM59 34h2v1h-2zM61 33h2v2h-2zM63 33h2v1h-2zM65 33h2v1h-2zM67 32h2v1h-2zM69 32h2v1h-2zM71 32h2v1h-2zM73 31h2v1h-2zM75 31h2v1h-2zM77 31h2v1h-2zM79 31h2v1h-2zM81 30h2v1h-2zM83 30h2v1h-2zM85 30h2v1h-2zM87 29h2v1h-2zM89 29h2v1h-2zM91 29h2v1h-2zM93 28h2v1h-2zM95 28h2v1h-2zM97 28h2v1h-2zM99 27h2v2h-2zM101 27h2v1h-2zM103 26h2v2h-2zM105 26h2v1h-2zM107 26h2v1h-2zM109 25h2v1h-2zM111 25h2v1h-2zM113 25h2v1h-2zM115 24h2v1h-2zM117 24h2v1h-2zM119 24h1v1h-1z"/>
<path fill="#f3c664" d="M7 61h2v1h-2zM9 28h2v2h-2zM9 61h2v1h-2zM11 28h2v2h-2zM11 60h2v1h-2zM13 58h2v1h-2zM15 56h2v1h-2zM17 55h2v1h-2zM19 53h2v1h-2zM21 52h2v1h-2zM23 50h2v1h-2zM25 48h2v2h-2zM27 9h2v2h-2zM27 47h2v1h-2zM29 46h2v1h-2zM31 45h2v1h-2zM33 44h2v1h-2zM35 43h2v1h-2zM37 41h2v2h-2zM39 40h2v2h-2zM41 40h2v1h-2zM43 39h2v2h-2zM45 39h2v1h-2zM47 38h2v1h-2zM49 38h2v1h-2zM51 37h2v2h-2zM53 37h2v1h-2zM55 37h2v1h-2zM57 37h2v1h-2zM59 36h2v1h-2zM61 36h2v1h-2zM63 35h2v1h-2zM65 35h2v1h-2zM67 34h2v2h-2zM69 34h2v1h-2zM71 34h2v1h-2zM73 33h2v1h-2zM75 33h2v1h-2zM77 33h2v1h-2zM79 32h2v1h-2zM81 32h2v1h-2zM83 32h2v1h-2zM85 32h2v1h-2zM87 31h2v1h-2zM89 31h2v1h-2zM91 31h2v1h-2zM93 30h2v1h-2zM95 30h2v1h-2zM97 30h2v1h-2zM99 30h2v1h-2zM101 29h2v1h-2zM103 29h2v1h-2zM105 28h2v1h-2zM107 28h2v1h-2zM109 27h2v2h-2zM111 27h2v1h-2zM113 27h2v1h-2zM115 26h2v1h-2zM117 26h2v1h-2z"/>
<path fill="#ea9351" d="M7 62h2v3h-2zM9 67h2v1h-2zM11 66h2v1h-2zM13 65h2v1h-2zM15 20h2v2h-2zM15 64h2v1h-2zM17 62h2v1h-2zM19 61h2v1h-2zM23 58h2v1h-2zM25 57h2v1h-2zM27 56h2v1h-2zM29 55h2v1h-2zM31 54h2v1h-2zM33 53h2v1h-2zM35 52h2v1h-2zM37 51h2v1h-2zM39 51h2v1h-2zM41 50h2v1h-2zM43 49h2v1h-2zM45 49h2v1h-2zM47 48h2v1h-2zM49 48h2v1h-2zM51 48h2v1h-2zM53 47h2v1h-2zM55 47h2v1h-2zM57 47h2v1h-2zM61 46h2v1h-2zM63 46h2v1h-2zM65 46h2v1h-2zM67 46h2v1h-2zM69 46h2v1h-2zM71 45h2v2h-2zM73 45h2v1h-2zM75 45h2v1h-2zM77 45h2v1h-2zM79 45h2v1h-2zM81 44h2v2h-2zM83 44h2v2h-2zM85 44h2v1h-2zM87 44h2v1h-2zM89 44h2v1h-2zM91 43h2v2h-2zM93 43h2v2h-2zM95 43h2v2h-2zM97 42h2v2h-2zM99 42h2v2h-2zM101 42h2v2h-2zM103 41h2v3h-2zM105 41h2v3h-2zM107 41h2v3h-2zM109 40h2v3h-2zM111 39h2v4h-2zM113 39h2v4h-2zM115 38h2v4h-2zM117 37h2v5h-2zM119 36h1v5h-1z"/>
<path fill="#e98d50" d="M7 65h2v14h-2zM9 68h2v1h-2zM11 67h2v1h-2zM13 66h2v1h-2zM17 63h2v1h-2zM19 62h2v1h-2zM21 60h2v1h-2zM23 59h2v1h-2zM25 58h2v1h-2zM31 5h2v3h-2zM33 54h2v1h-2zM35 53h2v1h-2zM37 52h2v1h-2zM41 51h2v1h-2zM43 50h2v1h-2zM45 50h2v1h-2zM47 49h2v1h-2zM49 49h2v1h-2zM51 49h2v1h-2zM53 48h2v1h-2zM55 48h2v1h-2zM57 48h2v1h-2zM59 47h2v2h-2zM61 47h2v1h-2zM63 47h2v1h-2zM65 47h2v1h-2zM67 47h2v1h-2zM69 47h2v1h-2zM71 47h2v1h-2zM73 46h2v2h-2zM75 46h2v1h-2zM77 46h2v1h-2zM79 46h2v1h-2zM81 46h2v1h-2zM83 46h2v1h-2zM85 45h2v2h-2zM87 45h2v2h-2zM89 45h2v1h-2zM91 45h2v1h-2zM93 45h2v1h-2zM95 45h2v1h-2zM97 44h2v2h-2zM99 44h2v2h-2zM101 44h2v2h-2zM103 44h2v2h-2zM105 44h2v2h-2zM107 44h2v1h-2zM109 43h2v2h-2zM111 43h2v2h-2zM113 43h2v2h-2zM115 42h2v3h-2zM117 42h2v3h-2zM119 41h1v4h-1z"/>
<path fill="#e5804e" d="M7 93h2v7h-2zM9 70h2v1h-2zM11 69h2v1h-2zM13 67h2v1h-2zM15 66h2v1h-2zM19 63h2v1h-2zM21 62h2v1h-2zM23 61h2v1h-2zM25 59h2v1h-2zM27 58h2v1h-2zM29 57h2v1h-2zM31 56h2v1h-2zM33 55h2v1h-2zM37 54h2v1h-2zM39 53h2v1h-2zM41 53h2v1h-2zM43 52h2v1h-2zM45 52h2v1h-2zM47 51h2v1h-2zM49 51h2v1h-2zM51 51h2v1h-2zM53 50h2v1h-2zM55 50h2v1h-2zM57 50h2v1h-2zM59 50h2v1h-2zM61 49h2v1h-2zM63 49h2v1h-2zM65 49h2v1h-2zM67 49h2v1h-2zM69 49h2v1h-2zM71 49h2v1h-2zM73 49h2v1h-2zM75 49h2v1h-2zM77 48h2v2h-2zM79 48h2v1h-2zM81 48h2v1h-2zM83 48h2v1h-2zM85 48h2v1h-2zM87 48h2v1h-2zM89 48h2v1h-2zM91 48h2v1h-2zM93 48h2v1h-2zM95 47h2v2h-2zM97 47h2v2h-2zM99 47h2v2h-2zM101 47h2v2h-2zM103 47h2v2h-2zM105 47h2v2h-2zM107 47h2v2h-2zM109 47h2v2h-2zM111 47h2v1h-2zM113 47h2v1h-2zM115 47h2v1h-2zM117 47h2v1h-2zM119 47h1v1h-1z"/>
<path fill="#c55347" d="M9 22h2v2h-2zM9 81h2v6h-2zM11 76h2v2h-2zM13 74h2v1h-2zM17 71h2v1h-2zM19 70h2v1h-2zM21 69h2v1h-2zM23 68h2v1h-2zM27 65h2v1h-2zM29 64h2v1h-2zM31 63h2v1h-2zM33 62h2v1h-2zM35 61h2v1h-2zM37 60h2v2h-2zM39 60h2v1h-2zM41 59h2v1h-2zM43 59h2v1h-2zM47 58h2v1h-2zM49 58h2v1h-2zM51 58h2v1h-2zM55 57h2v1h-2zM57 57h2v1h-2zM59 57h2v1h-2zM61 57h2v1h-2zM63 57h2v1h-2zM65 57h2v1h-2zM67 57h2v1h-2zM69 57h2v1h-2zM71 57h2v1h-2zM73 57h2v1h-2zM75 57h2v1h-2zM77 57h2v1h-2zM79 57h2v1h-2zM81 57h2v1h-2zM83 57h2v1h-2zM85 57h2v2h-2zM87 57h2v2h-2zM89 58h2v1h-2zM91 58h2v1h-2zM93 58h2v1h-2zM95 58h2v1h-2zM97 58h2v1h-2zM99 58h2v1h-2zM101 58h2v1h-2zM103 58h2v1h-2zM105 58h2v1h-2zM107 58h2v1h-2zM109 58h2v1h-2zM111 58h2v1h-2zM113 58h2v1h-2zM115 58h2v1h-2zM117 58h2v1h-2zM119 58h1v1h-1z"/>
<path fill="#eda053" d="M9 27h2v1h-2zM11 65h2v1h-2zM15 62h2v1h-2zM17 61h2v1h-2zM19 59h2v1h-2zM21 58h2v1h-2zM23 56h2v1h-2zM25 55h2v1h-2zM27 54h2v1h-2zM29 53h2v1h-2zM31 52h2v1h-2zM33 51h2v1h-2zM35 50h2v1h-2zM37 49h2v1h-2zM39 49h2v1h-2zM41 48h2v1h-2zM43 47h2v1h-2zM45 47h2v1h-2zM47 46h2v1h-2zM49 46h2v1h-2zM51 46h2v1h-2zM53 45h2v1h-2zM55 45h2v1h-2zM57 45h2v1h-2zM59 45h2v1h-2zM61 44h2v1h-2zM63 44h2v1h-2zM65 44h2v1h-2zM67 44h2v1h-2zM69 43h2v2h-2zM71 43h2v1h-2zM73 43h2v1h-2zM75 42h2v2h-2zM77 42h2v2h-2zM79 41h2v2h-2zM81 41h2v2h-2zM83 41h2v2h-2zM85 40h2v2h-2zM87 40h2v2h-2zM89 40h2v2h-2zM91 39h2v2h-2zM93 39h2v2h-2zM95 38h2v3h-2zM97 38h2v2h-2zM99 37h2v3h-2zM101 37h2v2h-2zM103 36h2v3h-2zM105 36h2v2h-2zM107 35h2v2h-2zM109 35h2v2h-2zM111 35h2v1h-2zM113 34h2v2h-2zM115 34h2v1h-2zM117 34h2v1h-2zM119 33h1v2h-1z"/>
<path fill="#fef7bb" d="M9 42h2v4h-2zM11 42h2v3h-2zM13 36h2v8h-2zM15 29h2v10h-2zM17 27h2v10h-2zM19 26h2v6h-2zM21 24h2v6h-2zM23 23h2v6h-2zM25 22h2v6h-2zM27 21h2v6h-2zM29 16h2v10h-2zM31 16h2v9h-2zM33 16h2v8h-2zM35 15h2v9h-2zM37 15h2v9h-2zM39 15h2v8h-2zM41 14h2v9h-2zM43 14h2v9h-2zM45 13h2v9h-2zM47 12h2v10h-2zM49 11h2v11h-2zM51 1h2v1h-2zM51 9h2v13h-2zM53 1h2v3h-2zM53 5h2v17h-2zM55 2h2v20h-2zM57 4h2v1h-2zM57 17h2v5h-2zM59 18h2v4h-2zM61 17h2v4h-2zM63 17h2v4h-2zM65 17h2v4h-2zM67 16h2v5h-2zM69 16h2v5h-2zM71 16h2v5h-2zM73 16h2v5h-2zM75 15h2v5h-2zM77 15h2v5h-2zM79 15h2v5h-2zM81 14h2v6h-2zM83 14h2v5h-2zM85 13h2v5h-2zM87 13h2v4h-2zM89 13h2v4h-2zM91 12h2v4h-2zM93 12h2v4h-2zM95 12h2v3h-2zM97 11h2v4h-2zM99 11h2v4h-2zM101 11h2v3h-2zM103 10h2v4h-2zM105 10h2v4h-2zM107 9h2v4h-2zM109 9h2v4h-2zM111 9h2v4h-2zM113 8h2v5h-2zM115 8h2v5h-2zM117 7h2v5h-2zM119 7h1v5h-1z"/>
<path fill="#fdf4b3" d="M9 46h2v2h-2zM11 45h2v2h-2zM13 44h2v2h-2zM15 39h2v5h-2zM17 37h2v4h-2zM19 32h2v5h-2zM21 30h2v4h-2zM23 29h2v3h-2zM25 28h2v3h-2zM27 27h2v3h-2zM29 26h2v3h-2zM31 25h2v4h-2zM33 24h2v5h-2zM35 12h2v3h-2zM35 24h2v4h-2zM37 10h2v5h-2zM37 24h2v4h-2zM39 14h2v1h-2zM39 23h2v4h-2zM41 9h2v5h-2zM41 23h2v3h-2zM43 8h2v6h-2zM43 23h2v3h-2zM45 7h2v6h-2zM45 22h2v3h-2zM47 6h2v6h-2zM47 22h2v3h-2zM49 5h2v6h-2zM49 22h2v2h-2zM51 2h2v7h-2zM51 22h2v2h-2zM53 4h2v1h-2zM53 22h2v2h-2zM55 22h2v2h-2zM57 22h2v2h-2zM59 22h2v2h-2zM61 21h2v2h-2zM63 21h2v2h-2zM65 21h2v2h-2zM67 21h2v2h-2zM69 21h2v2h-2zM71 21h2v1h-2zM73 21h2v1h-2zM75 20h2v2h-2zM77 20h2v2h-2zM79 20h2v2h-2zM81 20h2v1h-2zM83 19h2v2h-2zM85 18h2v3h-2zM87 17h2v4h-2zM89 17h2v3h-2zM91 16h2v4h-2zM93 16h2v3h-2zM95 15h2v4h-2zM97 15h2v3h-2zM99 15h2v3h-2zM101 14h2v3h-2zM103 14h2v2h-2zM105 14h2v2h-2zM107 13h2v3h-2zM109 13h2v2h-2zM111 13h2v2h-2zM113 13h2v2h-2zM115 13h2v1h-2zM117 12h2v2h-2zM119 12h1v2h-1z"/>
<path fill="#fdf1ab" d="M9 48h2v2h-2zM11 47h2v2h-2zM13 46h2v1h-2zM15 44h2v2h-2zM17 41h2v3h-2zM19 37h2v4h-2zM21 34h2v3h-2zM23 32h2v3h-2zM25 31h2v2h-2zM27 30h2v2h-2zM29 29h2v2h-2zM31 29h2v2h-2zM33 29h2v1h-2zM35 28h2v2h-2zM37 6h2v4h-2zM37 28h2v1h-2zM39 1h2v1h-2zM39 27h2v2h-2zM41 1h2v2h-2zM41 5h2v4h-2zM41 26h2v3h-2zM43 1h2v7h-2zM43 26h2v2h-2zM45 1h2v6h-2zM45 25h2v3h-2zM47 5h2v1h-2zM47 25h2v2h-2zM49 1h2v4h-2zM49 24h2v3h-2zM51 24h2v3h-2zM53 24h2v2h-2zM55 24h2v2h-2zM57 24h2v2h-2zM59 24h2v2h-2zM61 23h2v2h-2zM63 23h2v2h-2zM65 23h2v2h-2zM67 23h2v2h-2zM69 23h2v1h-2zM71 22h2v2h-2zM73 22h2v2h-2zM75 22h2v2h-2zM77 22h2v1h-2zM79 22h2v1h-2zM81 21h2v2h-2zM83 21h2v2h-2zM85 21h2v1h-2zM87 21h2v1h-2zM89 20h2v2h-2zM91 20h2v1h-2zM93 19h2v2h-2zM95 19h2v2h-2zM97 18h2v2h-2zM99 18h2v2h-2zM101 17h2v3h-2zM103 16h2v3h-2zM105 16h2v2h-2zM107 16h2v2h-2zM109 15h2v2h-2zM111 15h2v2h-2zM113 15h2v2h-2zM115 14h2v2h-2zM117 14h2v2h-2zM119 14h1v2h-1z"/>
<path fill="#f2bc5c" d="M9 62h2v1h-2zM13 60h2v1h-2zM15 22h2v2h-2zM15 58h2v1h-2zM17 56h2v1h-2zM19 55h2v1h-2zM23 52h2v1h-2zM25 51h2v1h-2zM27 50h2v1h-2zM29 48h2v1h-2zM31 47h2v1h-2zM33 46h2v1h-2zM35 45h2v1h-2zM37 44h2v1h-2zM39 43h2v2h-2zM41 43h2v1h-2zM43 42h2v1h-2zM45 41h2v2h-2zM47 41h2v1h-2zM49 40h2v1h-2zM51 40h2v1h-2zM53 40h2v1h-2zM55 39h2v1h-2zM57 39h2v1h-2zM59 39h2v1h-2zM61 38h2v1h-2zM63 38h2v1h-2zM65 37h2v2h-2zM67 37h2v1h-2zM69 36h2v2h-2zM71 36h2v1h-2zM73 35h2v2h-2zM75 35h2v1h-2zM77 35h2v1h-2zM79 34h2v1h-2zM81 34h2v1h-2zM83 34h2v1h-2zM87 33h2v1h-2zM89 33h2v1h-2zM91 33h2v1h-2zM93 32h2v1h-2zM95 32h2v1h-2zM97 32h2v1h-2zM99 31h2v2h-2zM101 31h2v1h-2zM103 31h2v1h-2zM105 30h2v1h-2zM107 30h2v1h-2zM109 30h2v1h-2zM111 29h2v1h-2zM113 29h2v1h-2zM115 28h2v2h-2zM117 28h2v1h-2zM119 27h1v2h-1z"/>
<path fill="#f1b75a" d="M9 63h2v1h-2zM11 62h2v1h-2zM13 61h2v1h-2zM15 59h2v1h-2zM17 57h2v1h-2zM19 56h2v1h-2zM21 54h2v1h-2zM23 53h2v1h-2zM25 52h2v1h-2zM27 51h2v1h-2zM29 49h2v2h-2zM31 8h2v3h-2zM31 48h2v1h-2zM33 47h2v1h-2zM35 46h2v1h-2zM37 45h2v1h-2zM39 45h2v1h-2zM41 44h2v1h-2zM43 43h2v1h-2zM45 43h2v1h-2zM47 42h2v1h-2zM49 41h2v2h-2zM51 41h2v1h-2zM53 41h2v1h-2zM55 40h2v2h-2zM57 40h2v1h-2zM59 40h2v1h-2zM61 39h2v2h-2zM63 39h2v1h-2zM65 39h2v1h-2zM67 38h2v2h-2zM69 38h2v1h-2zM71 37h2v2h-2zM73 37h2v1h-2zM75 36h2v2h-2zM77 36h2v1h-2zM79 35h2v1h-2zM81 35h2v1h-2zM83 35h2v1h-2zM85 34h2v1h-2zM87 34h2v1h-2zM89 34h2v1h-2zM91 34h2v1h-2zM93 33h2v1h-2zM95 33h2v1h-2zM97 33h2v1h-2zM99 33h2v1h-2zM101 32h2v1h-2zM103 32h2v1h-2zM105 31h2v2h-2zM107 31h2v1h-2zM109 31h2v1h-2zM111 30h2v1h-2zM113 30h2v1h-2zM115 30h2v1h-2zM117 29h2v1h-2zM119 29h1v1h-1z"/>
<path fill="#efac56" d="M9 64h2v1h-2zM13 62h2v1h-2zM15 61h2v1h-2zM17 59h2v1h-2zM19 58h2v1h-2zM21 56h2v1h-2zM23 55h2v1h-2zM29 52h2v1h-2zM31 50h2v1h-2zM33 4h2v4h-2zM33 49h2v1h-2zM35 48h2v1h-2zM37 47h2v1h-2zM41 46h2v1h-2zM43 45h2v1h-2zM45 45h2v1h-2zM47 44h2v1h-2zM49 44h2v1h-2zM51 43h2v2h-2zM53 43h2v1h-2zM55 43h2v1h-2zM57 43h2v1h-2zM59 42h2v1h-2zM61 42h2v1h-2zM63 42h2v1h-2zM65 41h2v2h-2zM67 41h2v1h-2zM69 40h2v2h-2zM71 40h2v2h-2zM73 40h2v1h-2zM75 39h2v2h-2zM77 39h2v1h-2zM79 38h2v2h-2zM81 38h2v1h-2zM83 37h2v2h-2zM85 37h2v2h-2zM87 36h2v2h-2zM89 36h2v2h-2zM91 36h2v1h-2zM93 35h2v2h-2zM95 35h2v1h-2zM97 35h2v1h-2zM99 35h2v1h-2zM101 34h2v1h-2zM103 34h2v1h-2zM105 34h2v1h-2zM107 33h2v1h-2zM109 33h2v1h-2zM111 33h2v1h-2zM113 32h2v1h-2zM115 32h2v1h-2zM117 31h2v2h-2zM119 31h1v1h-1z"/>
<path fill="#eea654" d="M9 65h2v1h-2zM11 64h2v1h-2zM13 63h2v1h-2zM17 60h2v1h-2zM21 57h2v1h-2zM25 54h2v1h-2zM27 53h2v1h-2zM31 51h2v1h-2zM33 50h2v1h-2zM35 49h2v1h-2zM37 48h2v1h-2zM39 47h2v2h-2zM41 47h2v1h-2zM43 46h2v1h-2zM45 46h2v1h-2zM47 45h2v1h-2zM49 45h2v1h-2zM51 45h2v1h-2zM53 44h2v1h-2zM55 44h2v1h-2zM57 44h2v1h-2zM59 43h2v2h-2zM61 43h2v1h-2zM63 43h2v1h-2zM65 43h2v1h-2zM67 42h2v2h-2zM69 42h2v1h-2zM71 42h2v1h-2zM73 41h2v2h-2zM75 41h2v1h-2zM77 40h2v2h-2zM79 40h2v1h-2zM81 39h2v2h-2zM83 39h2v2h-2zM85 39h2v1h-2zM87 38h2v2h-2zM89 38h2v2h-2zM91 37h2v2h-2zM93 37h2v2h-2zM95 36h2v2h-2zM97 36h2v2h-2zM99 36h2v1h-2zM101 35h2v2h-2zM103 35h2v1h-2zM105 35h2v1h-2zM107 34h2v1h-2zM109 34h2v1h-2zM111 34h2v1h-2zM113 33h2v1h-2zM115 33h2v1h-2zM117 33h2v1h-2zM119 32h1v1h-1z"/>
<path fill="#ec9952" d="M9 66h2v1h-2zM13 64h2v1h-2zM15 63h2v1h-2zM19 60h2v1h-2zM21 59h2v1h-2zM23 57h2v1h-2zM25 56h2v1h-2zM27 55h2v1h-2zM29 54h2v1h-2zM31 53h2v1h-2zM33 52h2v1h-2zM35 51h2v1h-2zM37 50h2v1h-2zM39 50h2v1h-2zM41 49h2v1h-2zM43 48h2v1h-2zM45 48h2v1h-2zM47 47h2v1h-2zM49 47h2v1h-2zM51 47h2v1h-2zM53 46h2v1h-2zM55 46h2v1h-2zM57 46h2v1h-2zM59 46h2v1h-2zM61 45h2v1h-2zM63 45h2v1h-2zM65 45h2v1h-2zM67 45h2v1h-2zM69 45h2v1h-2zM71 44h2v1h-2zM73 44h2v1h-2zM75 44h2v1h-2zM77 44h2v1h-2zM79 43h2v2h-2zM81 43h2v1h-2zM83 43h2v1h-2zM85 42h2v2h-2zM87 42h2v2h-2zM89 42h2v2h-2zM91 41h2v2h-2zM93 41h2v2h-2zM95 41h2v2h-2zM97 40h2v2h-2zM99 40h2v2h-2zM101 39h2v3h-2zM103 39h2v2h-2zM105 38h2v3h-2zM107 37h2v4h-2zM109 37h2v3h-2zM111 36h2v3h-2zM113 36h2v3h-2zM115 35h2v3h-2zM117 35h2v2h-2zM119 35h1v1h-1z"/>
<path fill="#e37a4d" d="M9 71h2v1h-2zM13 23h2v3h-2zM13 68h2v1h-2zM17 65h2v1h-2zM19 64h2v1h-2zM21 63h2v1h-2zM25 60h2v1h-2zM27 59h2v1h-2zM29 58h2v1h-2zM31 57h2v1h-2zM33 56h2v1h-2zM35 55h2v1h-2zM37 55h2v1h-2zM39 54h2v1h-2zM43 53h2v1h-2zM45 53h2v1h-2zM47 52h2v1h-2zM49 52h2v1h-2zM53 51h2v1h-2zM55 51h2v1h-2zM57 51h2v1h-2zM59 51h2v1h-2zM61 50h2v1h-2zM63 50h2v1h-2zM65 50h2v1h-2zM67 50h2v1h-2zM69 50h2v1h-2zM71 50h2v1h-2zM73 50h2v1h-2zM75 50h2v1h-2zM77 50h2v1h-2zM79 49h2v2h-2zM81 49h2v2h-2zM83 49h2v2h-2zM85 49h2v2h-2zM87 49h2v1h-2zM89 49h2v1h-2zM91 49h2v1h-2zM93 49h2v1h-2zM95 49h2v1h-2zM97 49h2v1h-2zM99 49h2v1h-2zM101 49h2v1h-2zM103 49h2v1h-2zM105 49h2v1h-2zM107 49h2v1h-2zM109 49h2v1h-2zM111 48h2v2h-2zM113 48h2v2h-2zM115 48h2v2h-2zM117 48h2v2h-2zM119 48h1v2h-1z"/>
<path fill="#e0734d" d="M9 72h2v1h-2zM11 70h2v1h-2zM13 69h2v1h-2zM15 67h2v1h-2zM17 66h2v1h-2zM19 65h2v1h-2zM21 64h2v1h-2zM23 62h2v1h-2zM25 61h2v1h-2zM27 60h2v1h-2zM33 57h2v1h-2zM35 56h2v1h-2zM39 55h2v1h-2zM41 54h2v1h-2zM43 54h2v1h-2zM47 53h2v1h-2zM49 53h2v1h-2zM51 52h2v1h-2zM53 52h2v1h-2zM55 52h2v1h-2zM57 52h2v1h-2zM61 51h2v1h-2zM63 51h2v1h-2zM65 51h2v1h-2zM67 51h2v1h-2zM69 51h2v1h-2zM71 51h2v1h-2zM73 51h2v1h-2zM75 51h2v1h-2zM77 51h2v1h-2zM79 51h2v1h-2zM81 51h2v1h-2zM83 51h2v1h-2zM85 51h2v1h-2zM87 50h2v2h-2zM89 50h2v2h-2zM91 50h2v2h-2zM93 50h2v2h-2zM95 50h2v2h-2zM97 50h2v2h-2zM99 50h2v2h-2zM101 50h2v2h-2zM103 50h2v2h-2zM105 50h2v2h-2zM107 50h2v2h-2zM109 50h2v2h-2zM111 50h2v2h-2zM113 50h2v2h-2zM115 50h2v2h-2zM117 50h2v2h-2zM119 50h1v2h-1z"/>
<path fill="#da674b" d="M9 74h2v1h-2zM11 72h2v1h-2zM15 69h2v1h-2zM21 65h2v1h-2zM23 64h2v1h-2zM25 63h2v1h-2zM27 62h2v1h-2zM29 60h2v1h-2zM31 59h2v1h-2zM33 58h2v1h-2zM35 58h2v1h-2zM37 57h2v1h-2zM39 56h2v1h-2zM41 56h2v1h-2zM45 55h2v1h-2zM47 55h2v1h-2zM49 54h2v1h-2zM51 54h2v1h-2zM53 54h2v1h-2zM55 54h2v1h-2zM57 54h2v1h-2zM59 53h2v1h-2zM61 53h2v1h-2zM63 53h2v1h-2zM65 53h2v1h-2zM67 53h2v1h-2zM69 53h2v1h-2zM71 53h2v1h-2zM73 53h2v1h-2zM75 53h2v1h-2zM77 53h2v1h-2zM79 53h2v1h-2zM81 53h2v1h-2zM83 53h2v1h-2zM85 53h2v1h-2zM87 53h2v1h-2zM89 53h2v1h-2zM91 53h2v1h-2zM93 53h2v1h-2zM95 53h2v1h-2zM97 53h2v1h-2zM99 53h2v1h-2zM101 53h2v1h-2zM103 53h2v1h-2zM105 53h2v1h-2zM107 53h2v1h-2zM109 53h2v1h-2zM111 53h2v1h-2zM113 53h2v1h-2zM115 53h2v1h-2zM117 53h2v1h-2zM119 53h1v1h-1z"/>
<path fill="#d5624a" d="M9 75h2v1h-2zM11 73h2v1h-2zM13 71h2v1h-2zM15 70h2v1h-2zM17 68h2v1h-2zM19 67h2v1h-2zM21 66h2v1h-2zM23 65h2v1h-2zM25 64h2v1h-2zM27 63h2v1h-2zM29 61h2v1h-2zM31 60h2v1h-2zM33 59h2v1h-2zM37 58h2v1h-2zM39 57h2v1h-2zM41 57h2v1h-2zM43 56h2v1h-2zM45 56h2v1h-2zM47 56h2v1h-2zM49 55h2v1h-2zM51 55h2v1h-2zM53 55h2v1h-2zM55 55h2v1h-2zM59 54h2v1h-2zM61 54h2v1h-2zM63 54h2v1h-2zM65 54h2v1h-2zM67 54h2v1h-2zM69 54h2v1h-2zM71 54h2v1h-2zM73 54h2v1h-2zM75 54h2v1h-2zM77 54h2v1h-2zM79 54h2v1h-2zM81 54h2v1h-2zM83 54h2v1h-2zM85 54h2v1h-2zM87 54h2v1h-2zM89 54h2v1h-2zM91 54h2v1h-2zM93 54h2v1h-2zM95 54h2v1h-2zM97 54h2v1h-2zM99 54h2v1h-2zM101 54h2v1h-2zM103 54h2v1h-2zM105 54h2v1h-2zM107 54h2v1h-2zM109 54h2v1h-2zM111 54h2v1h-2zM113 54h2v1h-2zM115 54h2v1h-2zM117 54h2v1h-2zM119 54h1v1h-1z"/>
<path fill="#d05c4a" d="M9 76h2v2h-2zM11 74h2v1h-2zM13 72h2v1h-2zM15 71h2v1h-2zM17 69h2v1h-2zM19 68h2v1h-2zM21 67h2v1h-2zM23 66h2v1h-2zM25 65h2v1h-2zM29 62h2v1h-2zM31 61h2v1h-2zM33 60h2v1h-2zM35 59h2v1h-2zM39 58h2v1h-2zM43 57h2v1h-2zM45 57h2v1h-2zM49 56h2v1h-2zM51 56h2v1h-2zM53 56h2v1h-2zM55 56h2v1h-2zM57 55h2v1h-2zM59 55h2v1h-2zM61 55h2v1h-2zM63 55h2v1h-2zM65 55h2v1h-2zM67 55h2v1h-2zM69 55h2v1h-2zM71 55h2v1h-2zM73 55h2v1h-2zM75 55h2v1h-2zM77 55h2v1h-2zM79 55h2v1h-2zM81 55h2v1h-2zM83 55h2v1h-2zM85 55h2v1h-2zM87 55h2v1h-2zM89 55h2v1h-2zM91 55h2v1h-2zM93 55h2v1h-2zM95 55h2v2h-2zM97 55h2v2h-2zM99 55h2v2h-2zM101 55h2v2h-2zM103 55h2v2h-2zM105 55h2v2h-2zM107 55h2v2h-2zM109 55h2v2h-2zM111 55h2v2h-2zM113 55h2v2h-2zM115 55h2v2h-2zM117 55h2v2h-2zM119 55h1v2h-1z"/>
<path fill="#be5046" d="M9 87h2v13h-2zM11 78h2v3h-2zM13 75h2v1h-2zM15 73h2v1h-2zM17 72h2v1h-2zM19 71h2v1h-2zM21 70h2v1h-2zM23 69h2v1h-2zM25 67h2v1h-2zM27 66h2v1h-2zM29 65h2v1h-2zM31 64h2v1h-2zM33 63h2v1h-2zM35 62h2v1h-2zM37 62h2v1h-2zM39 61h2v1h-2zM41 60h2v1h-2zM43 60h2v1h-2zM45 59h2v1h-2zM47 59h2v1h-2zM49 59h2v1h-2zM53 58h2v1h-2zM55 58h2v1h-2zM57 58h2v1h-2zM59 58h2v1h-2zM61 58h2v1h-2zM63 58h2v1h-2zM65 58h2v1h-2zM67 58h2v1h-2zM69 58h2v1h-2zM71 58h2v1h-2zM73 58h2v1h-2zM75 58h2v1h-2zM77 58h2v1h-2zM79 58h2v1h-2zM81 58h2v2h-2zM83 58h2v2h-2zM85 59h2v1h-2zM87 59h2v1h-2zM89 59h2v1h-2zM91 59h2v1h-2zM93 59h2v1h-2zM95 59h2v1h-2zM97 59h2v1h-2zM99 59h2v1h-2zM101 59h2v1h-2zM103 59h2v1h-2zM105 59h2v1h-2zM107 59h2v1h-2zM109 59h2v1h-2zM111 59h2v1h-2zM113 59h2v1h-2zM115 59h2v1h-2zM117 59h2v1h-2zM119 59h1v1h-1z"/>
<path fill="#f3c160" d="M11 61h2v1h-2zM13 59h2v1h-2zM15 57h2v1h-2zM19 54h2v1h-2zM21 53h2v1h-2zM23 51h2v1h-2zM25 50h2v1h-2zM27 48h2v2h-2zM29 47h2v1h-2zM31 46h2v1h-2zM33 8h2v3h-2zM33 45h2v1h-2zM35 44h2v1h-2zM37 43h2v1h-2zM39 42h2v1h-2zM41 41h2v2h-2zM43 41h2v1h-2zM45 40h2v1h-2zM47 39h2v2h-2zM49 39h2v1h-2zM51 39h2v1h-2zM53 38h2v2h-2zM55 38h2v1h-2zM57 38h2v1h-2zM59 37h2v2h-2zM61 37h2v1h-2zM63 36h2v2h-2zM65 36h2v1h-2zM67 36h2v1h-2zM69 35h2v1h-2zM71 35h2v1h-2zM73 34h2v1h-2zM75 34h2v1h-2zM77 34h2v1h-2zM79 33h2v1h-2zM81 33h2v1h-2zM83 33h2v1h-2zM85 33h2v1h-2zM87 32h2v1h-2zM89 32h2v1h-2zM91 32h2v1h-2zM93 31h2v1h-2zM95 31h2v1h-2zM97 31h2v1h-2zM101 30h2v1h-2zM103 30h2v1h-2zM105 29h2v1h-2zM107 29h2v1h-2zM109 29h2v1h-2zM111 28h2v1h-2zM113 28h2v1h-2zM115 27h2v1h-2zM117 27h2v1h-2zM119 26h1v1h-1z"/>
<path fill="#f0b158" d="M11 63h2v1h-2zM15 60h2v1h-2zM17 58h2v1h-2zM19 57h2v1h-2zM21 55h2v1h-2zM23 54h2v1h-2zM25 53h2v1h-2zM27 52h2v1h-2zM29 51h2v1h-2zM31 49h2v1h-2zM33 48h2v1h-2zM35 47h2v1h-2zM37 46h2v1h-2zM39 46h2v1h-2zM41 45h2v1h-2zM43 44h2v1h-2zM45 44h2v1h-2zM47 43h2v1h-2zM49 43h2v1h-2zM51 42h2v1h-2zM53 42h2v1h-2zM55 42h2v1h-2zM57 41h2v2h-2zM59 41h2v1h-2zM61 41h2v1h-2zM63 40h2v2h-2zM65 40h2v1h-2zM67 40h2v1h-2zM69 39h2v1h-2zM71 39h2v1h-2zM73 38h2v2h-2zM75 38h2v1h-2zM77 37h2v2h-2zM79 36h2v2h-2zM81 36h2v2h-2zM83 36h2v1h-2zM85 35h2v2h-2zM87 35h2v1h-2zM89 35h2v1h-2zM91 35h2v1h-2zM93 34h2v1h-2zM95 34h2v1h-2zM97 34h2v1h-2zM99 34h2v1h-2zM101 33h2v1h-2zM103 33h2v1h-2zM105 33h2v1h-2zM107 32h2v1h-2zM109 32h2v1h-2zM111 31h2v2h-2zM113 31h2v1h-2zM115 31h2v1h-2zM117 30h2v1h-2zM119 30h1v1h-1z"/>
<path fill="#b24a42" d="M11 87h2v13h-2zM13 79h2v6h-2zM15 75h2v1h-2zM19 73h2v1h-2zM21 72h2v1h-2zM23 71h2v1h-2zM25 70h2v1h-2zM27 68h2v2h-2zM29 67h2v1h-2zM31 66h2v1h-2zM33 65h2v1h-2zM35 65h2v1h-2zM37 64h2v1h-2zM39 63h2v1h-2zM41 63h2v1h-2zM43 62h2v2h-2zM45 62h2v1h-2zM47 61h2v2h-2zM49 61h2v1h-2zM51 61h2v1h-2zM53 60h2v2h-2zM55 60h2v2h-2zM57 60h2v2h-2zM59 60h2v2h-2zM61 60h2v2h-2zM63 60h2v2h-2zM65 60h2v2h-2zM67 60h2v2h-2zM69 60h2v3h-2zM71 61h2v2h-2zM73 61h2v2h-2zM75 61h2v2h-2zM77 61h2v2h-2zM77 99h2v1h-2zM79 61h2v3h-2zM79 99h2v1h-2zM81 61h2v3h-2zM81 98h2v2h-2zM83 61h2v3h-2zM83 99h2v1h-2zM85 62h2v2h-2zM85 99h2v1h-2zM87 62h2v2h-2zM87 98h2v2h-2zM89 62h2v2h-2zM89 99h2v1h-2zM91 62h2v2h-2zM91 98h2v2h-2zM93 62h2v2h-2zM93 99h2v1h-2zM95 62h2v2h-2zM95 99h2v1h-2zM97 62h2v2h-2zM97 98h2v2h-2zM99 62h2v2h-2zM99 99h2v1h-2zM101 62h2v2h-2zM101 98h2v2h-2zM103 62h2v2h-2zM103 99h2v1h-2zM105 62h2v2h-2zM105 99h2v1h-2zM107 62h2v2h-2zM107 98h2v2h-2zM109 62h2v2h-2zM109 99h2v1h-2zM111 62h2v2h-2zM111 98h2v2h-2zM113 62h2v2h-2zM113 99h2v1h-2zM115 62h2v2h-2zM115 99h2v1h-2zM117 62h2v2h-2zM117 98h2v2h-2zM119 62h1v2h-1zM119 99h1v1h-1z"/>
<path fill="#542d20" d="M13 20h2v3h-2z"/>
<path fill="#ac4840" d="M13 85h2v15h-2zM15 76h2v5h-2zM15 99h2v1h-2zM17 74h2v1h-2zM19 74h2v1h-2zM21 73h2v1h-2zM23 72h2v1h-2zM25 71h2v1h-2zM27 70h2v1h-2zM29 68h2v2h-2zM31 67h2v1h-2zM33 66h2v1h-2zM35 66h2v1h-2zM37 65h2v1h-2zM39 64h2v1h-2zM41 64h2v1h-2zM43 64h2v1h-2zM45 63h2v2h-2zM47 63h2v1h-2zM49 62h2v2h-2zM51 62h2v2h-2zM53 62h2v2h-2zM53 99h2v1h-2zM55 62h2v2h-2zM55 98h2v2h-2zM57 62h2v2h-2zM57 97h2v3h-2zM59 62h2v2h-2zM59 95h2v5h-2zM61 62h2v2h-2zM61 95h2v5h-2zM63 62h2v2h-2zM63 94h2v6h-2zM65 62h2v2h-2zM65 94h2v6h-2zM67 62h2v3h-2zM67 93h2v7h-2zM69 63h2v2h-2zM69 92h2v8h-2zM71 63h2v2h-2zM71 92h2v8h-2zM73 63h2v2h-2zM73 91h2v9h-2zM75 63h2v2h-2zM75 91h2v9h-2zM77 63h2v3h-2zM77 90h2v9h-2zM79 64h2v2h-2zM79 89h2v10h-2zM81 64h2v2h-2zM81 89h2v9h-2zM83 64h2v2h-2zM83 89h2v10h-2zM85 64h2v2h-2zM85 90h2v9h-2zM87 64h2v2h-2zM87 89h2v9h-2zM89 64h2v2h-2zM89 89h2v10h-2zM91 64h2v2h-2zM91 89h2v9h-2zM93 64h2v2h-2zM93 89h2v10h-2zM95 64h2v2h-2zM95 89h2v10h-2zM97 64h2v2h-2zM97 89h2v9h-2zM99 64h2v2h-2zM99 89h2v10h-2zM101 64h2v2h-2zM101 89h2v9h-2zM103 64h2v2h-2zM103 89h2v10h-2zM105 64h2v2h-2zM105 90h2v9h-2zM107 64h2v2h-2zM107 89h2v9h-2zM109 64h2v2h-2zM109 89h2v10h-2zM111 64h2v2h-2zM111 89h2v9h-2zM113 64h2v2h-2zM113 89h2v10h-2zM115 64h2v2h-2zM115 89h2v10h-2zM117 64h2v2h-2zM117 89h2v9h-2zM119 64h1v2h-1zM119 89h1v10h-1z"/>
<path fill="#a6463f" d="M15 81h2v18h-2zM17 75h2v2h-2zM17 98h2v2h-2zM19 75h2v1h-2zM21 74h2v1h-2zM23 73h2v1h-2zM25 72h2v1h-2zM27 71h2v2h-2zM29 70h2v2h-2zM31 68h2v2h-2zM33 67h2v2h-2zM35 67h2v1h-2zM37 66h2v1h-2zM39 65h2v2h-2zM39 99h2v1h-2zM41 65h2v1h-2zM41 98h2v2h-2zM43 65h2v1h-2zM43 98h2v2h-2zM45 65h2v1h-2zM45 96h2v4h-2zM47 64h2v2h-2zM47 95h2v5h-2zM49 64h2v1h-2zM49 93h2v7h-2zM51 64h2v1h-2zM51 92h2v8h-2zM53 64h2v1h-2zM53 92h2v7h-2zM55 64h2v1h-2zM55 90h2v8h-2zM57 64h2v2h-2zM57 89h2v8h-2zM59 64h2v2h-2zM59 87h2v8h-2zM61 64h2v2h-2zM61 87h2v8h-2zM63 64h2v2h-2zM63 86h2v8h-2zM65 64h2v2h-2zM65 85h2v9h-2zM67 65h2v2h-2zM67 85h2v8h-2zM69 65h2v2h-2zM69 84h2v8h-2zM71 65h2v2h-2zM71 83h2v9h-2zM73 65h2v2h-2zM73 82h2v9h-2zM75 65h2v3h-2zM75 81h2v10h-2zM77 66h2v2h-2zM77 80h2v10h-2zM79 66h2v4h-2zM79 79h2v10h-2zM81 66h2v4h-2zM81 79h2v10h-2zM83 66h2v4h-2zM83 78h2v11h-2zM85 66h2v5h-2zM85 78h2v12h-2zM87 66h2v5h-2zM87 77h2v12h-2zM89 66h2v6h-2zM89 77h2v12h-2zM91 66h2v7h-2zM91 77h2v12h-2zM93 66h2v9h-2zM93 76h2v13h-2zM95 66h2v23h-2zM97 66h2v23h-2zM99 66h2v23h-2zM101 66h2v23h-2zM103 66h2v23h-2zM105 66h2v24h-2zM107 66h2v23h-2zM109 66h2v23h-2zM111 66h2v23h-2zM113 66h2v23h-2zM115 66h2v23h-2zM117 66h2v23h-2zM119 66h1v23h-1z"/>
<path fill="#fefbc5" d="M17 16h2v5h-2zM19 16h2v2h-2zM21 11h2v4h-2zM23 11h2v3h-2zM29 8h2v1h-2zM33 1h2v3h-2zM35 1h2v4h-2zM63 1h2v1h-2zM65 1h2v1h-2zM67 1h2v2h-2zM69 1h2v2h-2zM71 1h2v2h-2zM73 1h2v3h-2zM75 1h2v4h-2zM77 1h2v4h-2zM79 1h2v5h-2zM81 1h2v5h-2zM83 1h2v5h-2zM85 1h2v5h-2zM87 1h2v4h-2zM89 1h2v4h-2zM91 1h2v4h-2zM93 1h2v4h-2zM95 1h2v4h-2zM97 1h2v4h-2zM99 1h2v4h-2zM101 1h2v4h-2zM103 1h2v3h-2z"/>
<path fill="#a0443d" d="M17 77h2v21h-2zM19 76h2v3h-2zM19 92h2v8h-2zM21 75h2v1h-2zM21 97h2v3h-2zM23 74h2v1h-2zM25 73h2v2h-2zM27 73h2v1h-2zM29 72h2v2h-2zM31 70h2v2h-2zM33 69h2v3h-2zM33 99h2v1h-2zM35 68h2v3h-2zM35 97h2v3h-2zM37 67h2v2h-2zM37 96h2v4h-2zM39 67h2v1h-2zM39 95h2v4h-2zM41 66h2v2h-2zM41 94h2v4h-2zM43 66h2v1h-2zM43 92h2v6h-2zM45 66h2v1h-2zM45 91h2v5h-2zM47 66h2v1h-2zM47 90h2v5h-2zM49 65h2v2h-2zM49 89h2v4h-2zM51 65h2v2h-2zM51 87h2v5h-2zM53 65h2v2h-2zM53 86h2v6h-2zM55 65h2v2h-2zM55 84h2v6h-2zM57 66h2v1h-2zM57 83h2v6h-2zM59 66h2v2h-2zM59 81h2v6h-2zM61 66h2v2h-2zM61 80h2v7h-2zM63 66h2v3h-2zM63 79h2v7h-2zM65 66h2v5h-2zM65 79h2v6h-2zM67 67h2v5h-2zM67 78h2v7h-2zM69 67h2v7h-2zM69 77h2v7h-2zM71 67h2v16h-2zM73 67h2v15h-2zM75 68h2v13h-2zM77 68h2v12h-2zM79 70h2v9h-2zM81 70h2v9h-2zM83 70h2v8h-2zM85 71h2v7h-2zM87 71h2v6h-2zM89 72h2v5h-2zM91 73h2v4h-2zM93 75h2v1h-2z"/>
<path fill="#9a423a" d="M19 79h2v13h-2zM21 76h2v21h-2zM23 75h2v2h-2zM23 92h2v8h-2zM25 75h2v1h-2zM25 93h2v7h-2zM27 74h2v2h-2zM27 93h2v7h-2zM29 74h2v1h-2zM29 93h2v7h-2zM31 72h2v3h-2zM31 93h2v7h-2zM33 72h2v2h-2zM33 92h2v7h-2zM35 71h2v2h-2zM35 92h2v5h-2zM37 69h2v4h-2zM37 91h2v5h-2zM39 68h2v3h-2zM39 90h2v5h-2zM41 68h2v3h-2zM41 89h2v5h-2zM43 67h2v4h-2zM43 88h2v4h-2zM45 67h2v3h-2zM45 86h2v5h-2zM47 67h2v3h-2zM47 84h2v6h-2zM49 67h2v2h-2zM49 83h2v6h-2zM51 67h2v3h-2zM51 81h2v6h-2zM53 67h2v4h-2zM53 80h2v6h-2zM55 67h2v6h-2zM55 78h2v6h-2zM57 67h2v8h-2zM57 77h2v6h-2zM59 68h2v13h-2zM61 68h2v12h-2zM63 69h2v10h-2zM65 71h2v8h-2zM67 72h2v6h-2zM69 74h2v3h-2z"/>
<path fill="#954038" d="M23 77h2v15h-2zM25 76h2v17h-2zM27 76h2v17h-2zM29 75h2v18h-2zM31 75h2v4h-2zM31 89h2v4h-2zM33 74h2v5h-2zM33 88h2v4h-2zM35 73h2v5h-2zM35 84h2v8h-2zM37 73h2v3h-2zM37 83h2v8h-2zM39 71h2v4h-2zM39 82h2v8h-2zM41 71h2v4h-2zM41 80h2v9h-2zM43 71h2v4h-2zM43 78h2v10h-2zM45 70h2v5h-2zM45 78h2v8h-2zM47 70h2v5h-2zM47 77h2v7h-2zM49 69h2v6h-2zM49 77h2v6h-2zM51 70h2v11h-2zM53 71h2v9h-2zM55 73h2v5h-2zM57 75h2v2h-2z"/>
<path fill="#8f3e36" d="M31 79h2v10h-2zM33 79h2v9h-2zM35 78h2v6h-2zM37 76h2v7h-2zM39 75h2v7h-2zM41 75h2v5h-2zM43 75h2v3h-2zM45 75h2v3h-2zM47 75h2v2h-2zM49 75h2v2h-2z"/>
</g>
<g clip-path="url(#cpe)" fill="none" stroke="#a4a4a4" stroke-width="4.4" stroke-dasharray="17 8.2" stroke-dashoffset="8.5">
<polyline points="836.5,1428.3 836.6,1427.2 836.7,1425.1 837.0,1422.2 837.2,1418.8 837.6,1414.9 837.9,1410.7 838.3,1406.3 838.7,1401.6 839.2,1396.8 839.7,1391.9 840.2,1386.9 840.8,1381.9 841.4,1376.9 842.0,1371.8 842.6,1366.8 843.3,1361.8 844.0,1356.8 844.7,1351.9 845.5,1347.1 846.2,1342.3 847.0,1337.6 847.8,1332.9 848.7,1328.3 849.5,1323.8 850.4,1319.4 851.3,1315.0 852.2,1310.7 853.2,1306.5 854.1,1302.3 855.1,1298.3 856.1,1294.2 857.2,1290.3 858.2,1286.4 859.3,1282.6 860.3,1278.9 861.4,1275.2 862.6,1271.6 863.7,1268.0 864.8,1264.5 866.0,1261.1 867.2,1257.7 868.4,1254.4 869.6,1251.1 870.9,1247.9 872.1,1244.7 873.4,1241.6 874.7,1238.5 876.0,1235.5 877.3,1232.5 878.7,1229.6 880.0,1226.7 881.4,1223.9 882.8,1221.1 884.2,1218.3 885.6,1215.6 887.1,1212.9 888.5,1210.2 890.0,1207.6 891.5,1205.1 893.0,1202.5 894.5,1200.0 896.0,1197.5 897.6,1195.1 899.1,1192.7 900.7,1190.3 902.3,1188.0 903.9,1185.7 905.5,1183.4 907.1,1181.1 909.1,1178.5 919.5,1165.4 929.9,1153.9 940.3,1143.5 950.7,1134.0 961.1,1125.4 971.5,1117.5 981.9,1110.1 992.3,1103.3 1002.7,1097.0 1013.1,1091.0 1023.5,1085.5 1033.9,1080.2 1044.3,1075.3 1054.7,1070.6 1065.1,1066.2 1075.5,1062.0 1085.9,1058.0 1096.3,1054.2 1106.7,1050.6 1117.1,1047.2 1127.5,1043.9 1137.9,1040.8 1148.3,1037.9 1158.7,1035.0 1169.1,1032.3 1179.5,1029.7 1189.9,1027.2 1200.4,1024.8 1210.8,1022.6 1221.2,1020.4 1231.6,1018.3 1242.0,1016.3 1252.4,1014.4 1262.8,1012.5 1273.2,1010.8 1283.6,1009.1 1294.0,1007.5 1304.4,1005.9 1314.8,1004.4 1325.2,1003.0 1335.6,1001.6 1346.0,1000.3 1356.4,999.1 1366.8,997.9 1377.2,996.8 1387.6,995.7 1398.0,994.6 1408.4,993.6 1418.8,992.6"/>
<polyline points="837.5,1428.3 837.6,1427.4 837.8,1425.5 838.0,1422.9 838.3,1419.9 838.6,1416.5 838.9,1412.8 839.3,1408.8 839.7,1404.6 840.2,1400.3 840.7,1395.9 841.2,1391.4 841.8,1386.8 842.3,1382.2 842.9,1377.5 843.6,1372.9 844.2,1368.3 844.9,1363.7 845.6,1359.1 846.4,1354.6 847.1,1350.1 847.9,1345.7 848.7,1341.3 849.5,1337.0 850.4,1332.7 851.2,1328.5 852.1,1324.4 853.0,1320.3 854.0,1316.3 854.9,1312.3 855.9,1308.4 856.9,1304.6 857.9,1300.8 858.9,1297.1 860.0,1293.4 861.0,1289.9 862.1,1286.3 863.2,1282.8 864.3,1279.4 865.5,1276.0 866.6,1272.7 867.8,1269.5 869.0,1266.3 870.2,1263.1 871.4,1260.0 872.6,1256.9 873.9,1253.9 875.2,1250.9 876.5,1248.0 877.8,1245.1 879.1,1242.3 880.4,1239.5 881.8,1236.8 883.2,1234.0 884.5,1231.4 885.9,1228.7 887.4,1226.1 888.8,1223.6 890.2,1221.1 891.7,1218.6 893.2,1216.1 894.7,1213.7 896.2,1211.3 897.7,1209.0 899.2,1206.7 900.8,1204.4 902.3,1202.1 903.9,1199.9 905.5,1197.7 907.1,1195.5 909.1,1192.9 919.5,1180.3 929.9,1169.1 940.3,1159.2 950.7,1150.3 961.1,1142.2 971.5,1134.9 981.9,1128.2 992.3,1122.0 1002.7,1116.4 1013.1,1111.2 1023.5,1106.4 1033.9,1102.0 1044.3,1097.9 1054.7,1094.1 1065.1,1090.6 1075.5,1087.3 1085.9,1084.3 1096.3,1081.5 1106.7,1078.9 1117.1,1076.5 1127.5,1074.3 1137.9,1072.2 1148.3,1070.3 1158.7,1068.5 1169.1,1066.9 1179.5,1065.4 1189.9,1064.0 1200.4,1062.8 1210.8,1061.6 1221.2,1060.5 1231.6,1059.5 1242.0,1058.6 1252.4,1057.8 1262.8,1057.1 1273.2,1056.4 1283.6,1055.8 1294.0,1055.2 1304.4,1054.7 1314.8,1054.3 1325.2,1053.9 1335.6,1053.5 1346.0,1053.1 1356.4,1052.9 1366.8,1052.6 1377.2,1052.4 1387.6,1052.1 1398.0,1052.0 1408.4,1051.8 1418.8,1051.6"/>
<polyline points="838.7,1428.3 838.8,1427.5 838.9,1425.8 839.1,1423.6 839.4,1421.0 839.7,1418.0 840.1,1414.7 840.5,1411.2 840.9,1407.4 841.3,1403.6 841.8,1399.6 842.3,1395.5 842.9,1391.4 843.4,1387.2 844.0,1383.0 844.6,1378.7 845.3,1374.5 846.0,1370.3 846.7,1366.1 847.4,1361.9 848.1,1357.7 848.9,1353.6 849.7,1349.5 850.5,1345.5 851.3,1341.5 852.2,1337.6 853.0,1333.7 853.9,1329.8 854.9,1326.1 855.8,1322.3 856.7,1318.7 857.7,1315.0 858.7,1311.5 859.7,1308.0 860.7,1304.5 861.8,1301.1 862.9,1297.8 863.9,1294.5 865.0,1291.2 866.2,1288.0 867.3,1284.9 868.4,1281.8 869.6,1278.8 870.8,1275.8 872.0,1272.8 873.2,1269.9 874.5,1267.1 875.7,1264.3 877.0,1261.5 878.3,1258.8 879.6,1256.1 880.9,1253.5 882.2,1250.9 883.6,1248.4 884.9,1245.9 886.3,1243.4 887.7,1241.0 889.1,1238.6 890.5,1236.2 892.0,1233.9 893.4,1231.6 894.9,1229.4 896.4,1227.2 897.9,1225.0 899.4,1222.9 900.9,1220.8 902.4,1218.7 904.0,1216.7 905.5,1214.7 907.1,1212.7 909.1,1210.3 919.5,1198.9 929.9,1189.0 940.3,1180.4 950.7,1173.0 961.1,1166.5 971.5,1160.8 981.9,1155.9 992.3,1151.6 1002.7,1147.8 1013.1,1144.5 1023.5,1141.6 1033.9,1139.2 1044.3,1137.0 1054.7,1135.2 1065.1,1133.6 1075.5,1132.3 1085.9,1131.2 1096.3,1130.3 1106.7,1129.5 1117.1,1128.8 1127.5,1128.3 1137.9,1127.9 1148.3,1127.5 1158.7,1127.2 1169.1,1127.0 1179.5,1126.8 1189.9,1126.7 1200.4,1126.6 1210.8,1126.5 1221.2,1126.4 1231.6,1126.4 1242.0,1126.3 1252.4,1126.3 1262.8,1126.3 1273.2,1126.3 1283.6,1126.2 1294.0,1126.2 1304.4,1126.2 1314.8,1126.2 1325.2,1126.2 1335.6,1126.2 1346.0,1126.2 1356.4,1126.2 1366.8,1126.2 1377.2,1126.2 1387.6,1126.2 1398.0,1126.2 1408.4,1126.2 1418.8,1126.2"/>
<polyline points="840.0,1428.3 840.1,1427.6 840.3,1426.2 840.5,1424.2 840.7,1422.0 841.0,1419.3 841.4,1416.5 841.8,1413.4 842.2,1410.1 842.6,1406.7 843.1,1403.2 843.6,1399.6 844.1,1395.9 844.7,1392.1 845.3,1388.4 845.9,1384.5 846.5,1380.7 847.2,1376.9 847.8,1373.1 848.6,1369.3 849.3,1365.5 850.0,1361.8 850.8,1358.1 851.6,1354.4 852.4,1350.8 853.3,1347.2 854.1,1343.6 855.0,1340.1 855.9,1336.6 856.8,1333.2 857.7,1329.9 858.7,1326.6 859.7,1323.3 860.6,1320.1 861.7,1317.0 862.7,1313.9 863.7,1310.8 864.8,1307.8 865.9,1304.9 867.0,1302.0 868.1,1299.2 869.2,1296.4 870.4,1293.7 871.5,1291.0 872.7,1288.4 873.9,1285.8 875.1,1283.3 876.3,1280.8 877.6,1278.4 878.8,1276.0 880.1,1273.7 881.4,1271.4 882.7,1269.2 884.0,1267.0 885.4,1264.9 886.7,1262.8 888.1,1260.7 889.5,1258.7 890.8,1256.8 892.3,1254.9 893.7,1253.0 895.1,1251.2 896.6,1249.4 898.0,1247.7 899.5,1246.0 901.0,1244.3 902.5,1242.7 904.0,1241.1 905.6,1239.6 907.1,1238.1 909.1,1236.3 919.5,1228.0 929.9,1221.4 940.3,1216.3 950.7,1212.3 961.1,1209.3 971.5,1207.1 981.9,1205.4 992.3,1204.2 1002.7,1203.4 1013.1,1202.8 1023.5,1202.4 1033.9,1202.2 1044.3,1202.0 1054.7,1201.9 1065.1,1201.8 1075.5,1201.8 1085.9,1201.8 1096.3,1201.8 1106.7,1201.7 1117.1,1201.7 1127.5,1201.7 1137.9,1201.7 1148.3,1201.7 1158.7,1201.7 1169.1,1201.7 1179.5,1201.7 1189.9,1201.7 1200.4,1201.7 1210.8,1201.7 1221.2,1201.7 1231.6,1201.7 1242.0,1201.7 1252.4,1201.7 1262.8,1201.7 1273.2,1201.7 1283.6,1201.7 1294.0,1201.7 1304.4,1201.7 1314.8,1201.7 1325.2,1201.7 1335.6,1201.7 1346.0,1201.7 1356.4,1201.7 1366.8,1201.7 1377.2,1201.7 1387.6,1201.7 1398.0,1201.7 1408.4,1201.7 1418.8,1201.7"/>
<polyline points="840.8,1428.3 840.9,1427.6 841.0,1426.3 841.2,1424.6 841.5,1422.5 841.8,1420.0 842.1,1417.4 842.5,1414.5 842.9,1411.5 843.4,1408.3 843.8,1405.1 844.3,1401.7 844.8,1398.3 845.4,1394.8 846.0,1391.2 846.6,1387.7 847.2,1384.1 847.9,1380.5 848.5,1377.0 849.2,1373.4 849.9,1369.9 850.7,1366.4 851.5,1362.9 852.2,1359.4 853.0,1356.0 853.9,1352.7 854.7,1349.4 855.6,1346.1 856.5,1342.9 857.4,1339.7 858.3,1336.6 859.2,1333.5 860.2,1330.5 861.2,1327.5 862.2,1324.6 863.2,1321.8 864.2,1319.0 865.3,1316.3 866.3,1313.6 867.4,1311.0 868.5,1308.4 869.6,1305.9 870.8,1303.4 871.9,1301.0 873.1,1298.7 874.3,1296.4 875.5,1294.2 876.7,1292.0 877.9,1289.9 879.2,1287.8 880.4,1285.8 881.7,1283.9 883.0,1282.0 884.3,1280.1 885.6,1278.3 886.9,1276.6 888.3,1274.9 889.7,1273.3 891.0,1271.7 892.4,1270.1 893.8,1268.6 895.3,1267.2 896.7,1265.8 898.1,1264.5 899.6,1263.2 901.1,1261.9 902.6,1260.7 904.1,1259.5 905.6,1258.4 907.1,1257.4 909.1,1256.1 919.5,1250.4 929.9,1246.5 940.3,1243.8 950.7,1242.1 961.1,1241.0 971.5,1240.3 981.9,1239.9 992.3,1239.7 1002.7,1239.6 1013.1,1239.6 1023.5,1239.5 1033.9,1239.5 1044.3,1239.5 1054.7,1239.5 1065.1,1239.5 1075.5,1239.5 1085.9,1239.5 1096.3,1239.5 1106.7,1239.5 1117.1,1239.5 1127.5,1239.5 1137.9,1239.5 1148.3,1239.5 1158.7,1239.5 1169.1,1239.5 1179.5,1239.5 1189.9,1239.5 1200.4,1239.5 1210.8,1239.5 1221.2,1239.5 1231.6,1239.5 1242.0,1239.5 1252.4,1239.5 1262.8,1239.5 1273.2,1239.5 1283.6,1239.5 1294.0,1239.5 1304.4,1239.5 1314.8,1239.5 1325.2,1239.5 1335.6,1239.5 1346.0,1239.5 1356.4,1239.5 1366.8,1239.5 1377.2,1239.5 1387.6,1239.5 1398.0,1239.5 1408.4,1239.5 1418.8,1239.5"/>
<polyline points="843.4,1428.3 843.5,1427.8 843.6,1426.9 843.8,1425.6 844.1,1424.0 844.4,1422.2 844.7,1420.3 845.0,1418.2 845.4,1416.0 845.8,1413.6 846.3,1411.2 846.8,1408.7 847.3,1406.2 847.8,1403.7 848.4,1401.1 848.9,1398.5 849.5,1395.9 850.2,1393.3 850.8,1390.7 851.5,1388.2 852.2,1385.7 852.9,1383.2 853.6,1380.8 854.4,1378.4 855.2,1376.0 856.0,1373.8 856.8,1371.6 857.6,1369.4 858.4,1367.3 859.3,1365.3 860.2,1363.3 861.1,1361.5 862.0,1359.6 863.0,1357.9 863.9,1356.2 864.9,1354.6 865.9,1353.1 866.9,1351.7 867.9,1350.3 869.0,1349.0 870.0,1347.7 871.1,1346.6 872.2,1345.5 873.3,1344.4 874.4,1343.5 875.6,1342.6 876.7,1341.7 877.9,1340.9 879.1,1340.2 880.2,1339.6 881.5,1338.9 882.7,1338.4 883.9,1337.9 885.2,1337.4 886.4,1337.0 887.7,1336.6 889.0,1336.2 890.3,1335.9 891.7,1335.7 893.0,1335.4 894.4,1335.2 895.7,1335.0 897.1,1334.8 898.5,1334.7 899.9,1334.6 901.3,1334.5 902.7,1334.4 904.2,1334.3 905.6,1334.2 907.1,1334.2 909.1,1334.1 919.5,1333.9 929.9,1333.9 940.3,1333.9 950.7,1333.9 961.1,1333.9 971.5,1333.9 981.9,1333.9 992.3,1333.9 1002.7,1333.9 1013.1,1333.9 1023.5,1333.9 1033.9,1333.9 1044.3,1333.9 1054.7,1333.9 1065.1,1333.9 1075.5,1333.9 1085.9,1333.9 1096.3,1333.9 1106.7,1333.9 1117.1,1333.9 1127.5,1333.9 1137.9,1333.9 1148.3,1333.9 1158.7,1333.9 1169.1,1333.9 1179.5,1333.9 1189.9,1333.9 1200.4,1333.9 1210.8,1333.9 1221.2,1333.9 1231.6,1333.9 1242.0,1333.9 1252.4,1333.9 1262.8,1333.9 1273.2,1333.9 1283.6,1333.9 1294.0,1333.9 1304.4,1333.9 1314.8,1333.9 1325.2,1333.9 1335.6,1333.9 1346.0,1333.9 1356.4,1333.9 1366.8,1333.9 1377.2,1333.9 1387.6,1333.9 1398.0,1333.9 1408.4,1333.9 1418.8,1333.9"/>
</g>
<text x="1365.60" y="1031.30" font-size="26" text-anchor="middle">9.4</text>
<text x="1365.60" y="1083.50" font-size="26" text-anchor="middle">9.0</text>
<text x="1365.60" y="1159.10" font-size="26" text-anchor="middle">8.6</text>
<text x="1365.60" y="1229.40" font-size="26" text-anchor="middle">8.2</text>
<text x="1365.60" y="1272.00" font-size="26" text-anchor="middle">8.0</text>
<text x="1365.60" y="1367.70" font-size="26" text-anchor="middle">7.5</text>
<rect x="828.4" y="956.3" width="590.40" height="472.00" stroke="#000" stroke-width="2.1" fill="none"/>
<path d="M828.40 1428.30v12.5M828.40 956.30v-12.5M926.80 1428.30v12.5M926.80 956.30v-12.5M1025.20 1428.30v12.5M1025.20 956.30v-12.5M1123.60 1428.30v12.5M1123.60 956.30v-12.5M1222.00 1428.30v12.5M1222.00 956.30v-12.5M1320.40 1428.30v12.5M1320.40 956.30v-12.5M1418.80 1428.30v12.5M1418.80 956.30v-12.5M828.40 956.30h-12.5M1418.80 956.30h12.5M828.40 975.18h-7.0M1418.80 975.18h7.0M828.40 994.06h-7.0M1418.80 994.06h7.0M828.40 1012.94h-7.0M1418.80 1012.94h7.0M828.40 1031.82h-7.0M1418.80 1031.82h7.0M828.40 1050.70h-12.5M1418.80 1050.70h12.5M828.40 1069.58h-7.0M1418.80 1069.58h7.0M828.40 1088.46h-7.0M1418.80 1088.46h7.0M828.40 1107.34h-7.0M1418.80 1107.34h7.0M828.40 1126.22h-7.0M1418.80 1126.22h7.0M828.40 1145.10h-12.5M1418.80 1145.10h12.5M828.40 1163.98h-7.0M1418.80 1163.98h7.0M828.40 1182.86h-7.0M1418.80 1182.86h7.0M828.40 1201.74h-7.0M1418.80 1201.74h7.0M828.40 1220.62h-7.0M1418.80 1220.62h7.0M828.40 1239.50h-12.5M1418.80 1239.50h12.5M828.40 1258.38h-7.0M1418.80 1258.38h7.0M828.40 1277.26h-7.0M1418.80 1277.26h7.0M828.40 1296.14h-7.0M1418.80 1296.14h7.0M828.40 1315.02h-7.0M1418.80 1315.02h7.0M828.40 1333.90h-12.5M1418.80 1333.90h12.5M828.40 1352.78h-7.0M1418.80 1352.78h7.0M828.40 1371.66h-7.0M1418.80 1371.66h7.0M828.40 1390.54h-7.0M1418.80 1390.54h7.0M828.40 1409.42h-7.0M1418.80 1409.42h7.0M828.40 1428.30h-12.5M1418.80 1428.30h12.5" stroke="#000" stroke-width="2.1" fill="none"/>
<text x="1452.00" y="967.10" font-size="29" text-anchor="start">9.5</text>
<text x="1452.00" y="1061.50" font-size="29" text-anchor="start">9.0</text>
<text x="1452.00" y="1155.90" font-size="29" text-anchor="start">8.5</text>
<text x="1452.00" y="1250.30" font-size="29" text-anchor="start">8.0</text>
<text x="1452.00" y="1344.70" font-size="29" text-anchor="start">7.5</text>
<text x="1452.00" y="1439.10" font-size="29" text-anchor="start">7.0</text>
<text x="828.40" y="1483.30" font-size="29" text-anchor="middle">0</text>
<text x="926.80" y="1483.30" font-size="29" text-anchor="middle">50</text>
<text x="1025.20" y="1483.30" font-size="29" text-anchor="middle">100</text>
<text x="1123.60" y="1483.30" font-size="29" text-anchor="middle">150</text>
<text x="1222.00" y="1483.30" font-size="29" text-anchor="middle">200</text>
<text x="1320.40" y="1483.30" font-size="29" text-anchor="middle">250</text>
<text x="1418.80" y="1483.30" font-size="29" text-anchor="middle">300</text>
<text x="1123.60" y="1521.00" font-size="29.5" text-anchor="middle">Time after origin [s]</text>
<text transform="translate(1535.6,1193.3) rotate(-90)" font-size="29" text-anchor="middle">M<tspan font-size="20" dy="8.3">w</tspan></text>
<text x="770.40" y="965.80" font-size="34" text-anchor="start" font-weight="bold">e</text>
<rect x="472.9" y="1582.2" width="591.60" height="23.50" fill="url(#cbg)" stroke="#000" stroke-width="1.8"/>
<path d="M472.90 1605.70v12M532.06 1605.70v5.8M591.22 1605.70v12M650.38 1605.70v5.8M709.54 1605.70v12M768.70 1605.70v5.8M827.86 1605.70v12M887.02 1605.70v5.8M946.18 1605.70v12M1005.34 1605.70v5.8M1064.50 1605.70v12" stroke="#000" stroke-width="2" fill="none"/>
<text x="472.90" y="1658.00" font-size="29" text-anchor="middle">0</text>
<text x="591.22" y="1658.00" font-size="29" text-anchor="middle">20</text>
<text x="709.54" y="1658.00" font-size="29" text-anchor="middle">40</text>
<text x="827.86" y="1658.00" font-size="29" text-anchor="middle">60</text>
<text x="946.18" y="1658.00" font-size="29" text-anchor="middle">80</text>
<text x="1064.50" y="1658.00" font-size="29" text-anchor="middle">100</text>
<text x="768.50" y="1562.60" font-size="29" text-anchor="middle">Accuracy</text>
</svg></body></html>
